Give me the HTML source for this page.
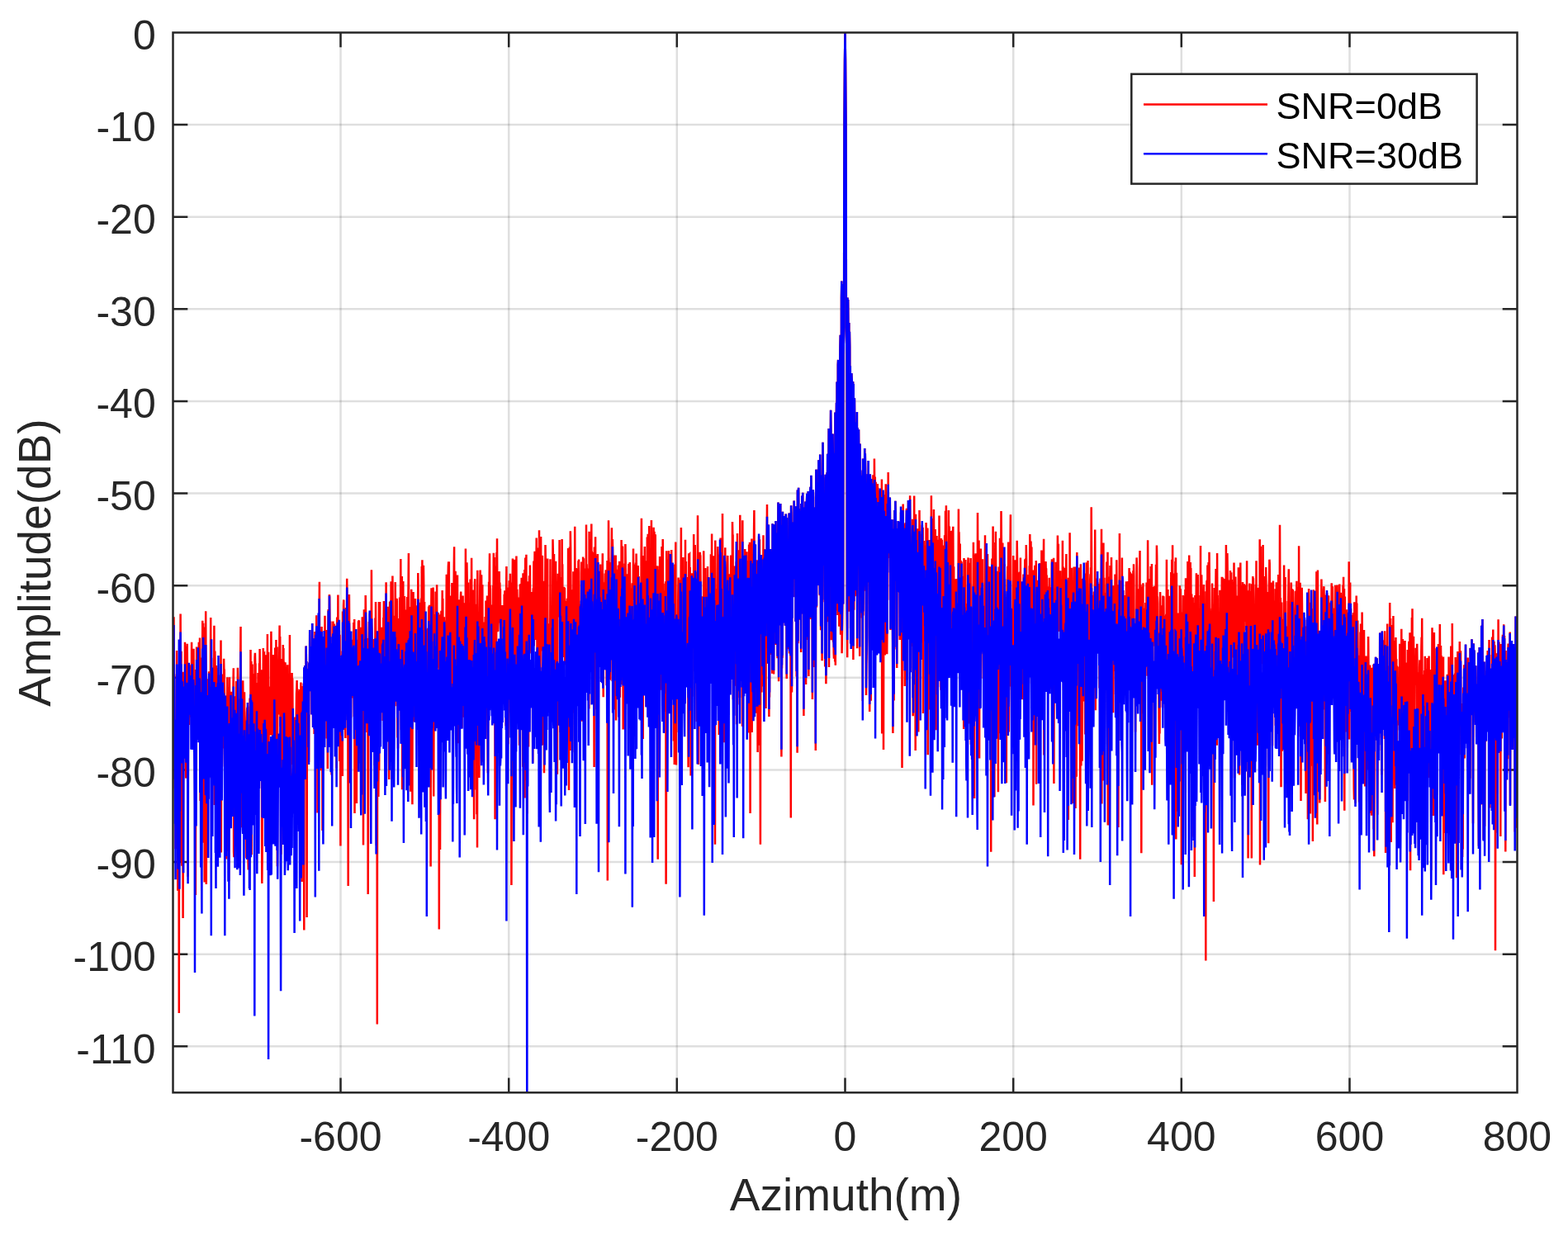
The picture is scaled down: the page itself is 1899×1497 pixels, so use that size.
<!DOCTYPE html>
<html lang="en"><head><meta charset="utf-8"><title>Azimuth impulse response</title>
<style>html,body{margin:0;padding:0;background:#fff;}svg{display:block}text{font-family:"Liberation Sans",sans-serif;}</style></head><body>
<svg width="1899" height="1497" viewBox="0 0 1899 1497">
<rect x="0" y="0" width="1899" height="1497" fill="#fff"/>
<defs><clipPath id="c"><rect x="209.5" y="39.45" width="1628.0" height="1283.85"/></clipPath></defs>
<path d="M412.5 39.45V1323.3M616.2 39.45V1323.3M819.8 39.45V1323.3M1023.5 39.45V1323.3M1227.2 39.45V1323.3M1430.8 39.45V1323.3M1634.5 39.45V1323.3" stroke="#262626" stroke-opacity="0.15" stroke-width="2.5" fill="none"/>
<path d="M209.5 1267.3H1837.5M209.5 1155.7H1837.5M209.5 1044.0H1837.5M209.5 932.4H1837.5M209.5 820.8H1837.5M209.5 709.2H1837.5M209.5 597.6H1837.5M209.5 485.9H1837.5M209.5 374.3H1837.5M209.5 262.7H1837.5M209.5 151.1H1837.5" stroke="#262626" stroke-opacity="0.15" stroke-width="2.5" fill="none"/>
<path d="M412.5 1323.3v-17.8M412.5 39.45v17.8M616.2 1323.3v-17.8M616.2 39.45v17.8M819.8 1323.3v-17.8M819.8 39.45v17.8M1023.5 1323.3v-17.8M1023.5 39.45v17.8M1227.2 1323.3v-17.8M1227.2 39.45v17.8M1430.8 1323.3v-17.8M1430.8 39.45v17.8M1634.5 1323.3v-17.8M1634.5 39.45v17.8M209.5 1267.3h17.8M1837.5 1267.3h-17.8M209.5 1155.7h17.8M1837.5 1155.7h-17.8M209.5 1044.0h17.8M1837.5 1044.0h-17.8M209.5 932.4h17.8M1837.5 932.4h-17.8M209.5 820.8h17.8M1837.5 820.8h-17.8M209.5 709.2h17.8M1837.5 709.2h-17.8M209.5 597.6h17.8M1837.5 597.6h-17.8M209.5 485.9h17.8M1837.5 485.9h-17.8M209.5 374.3h17.8M1837.5 374.3h-17.8M209.5 262.7h17.8M1837.5 262.7h-17.8M209.5 151.1h17.8M1837.5 151.1h-17.8" stroke="#262626" stroke-width="2.5" fill="none"/>
<g clip-path="url(#c)" fill="none" stroke-width="2.5" stroke-linejoin="miter">
<polyline stroke="#ff0000" points="209.60,829.1 209.90,882.0 210.20,816.1 210.50,747.2 210.80,870.5 211.10,816.6 211.40,904.2 211.70,909.3 212.00,955.1 212.30,952.8 212.60,1028.2 212.90,916.4 213.20,898.0 213.50,918.9 213.80,916.5 214.10,788.1 214.40,858.5 214.70,849.7 215.00,839.6 215.30,1078.7 215.60,909.6 215.90,933.7 216.20,839.8 216.50,906.8 216.80,1227.1 217.10,817.1 217.40,946.6 217.70,922.3 218.00,870.8 218.30,1042.9 218.60,743.6 218.90,834.3 219.20,819.1 219.50,788.8 219.80,908.2 220.10,832.9 220.40,1048.8 220.70,823.4 221.00,905.6 221.30,813.8 221.60,1112.1 221.90,954.9 222.20,900.3 222.50,833.9 222.80,875.5 223.10,863.3 223.40,911.9 223.70,853.5 224.00,777.7 224.30,863.6 224.60,848.0 224.90,896.5 225.20,942.6 225.50,938.9 225.80,852.6 226.10,782.7 226.40,828.9 226.70,779.8 227.00,815.0 227.30,929.1 227.60,1061.7 227.90,866.3 228.20,833.7 228.50,870.6 228.80,825.0 229.10,877.9 229.40,805.2 229.70,841.5 230.00,846.8 230.30,834.9 230.60,832.3 230.90,807.3 231.20,828.6 231.50,868.5 231.80,866.1 232.10,777.7 232.40,828.0 232.70,858.5 233.00,855.6 233.30,794.4 233.60,875.7 233.90,837.5 234.20,823.3 234.50,785.8 234.80,894.2 235.10,870.5 235.40,848.9 235.70,903.4 236.00,845.5 236.30,1052.7 236.60,1042.4 236.90,1084.1 237.20,811.1 237.50,844.4 237.80,932.6 238.10,783.4 238.40,814.0 238.70,809.4 239.00,812.4 239.30,846.4 239.60,837.5 239.90,860.9 240.20,823.3 240.50,814.5 240.80,777.7 241.10,856.0 241.40,864.7 241.70,835.6 242.00,772.5 242.30,879.2 242.60,969.9 242.90,796.6 243.20,860.1 243.50,815.1 243.80,896.7 244.10,945.3 244.40,827.0 244.70,878.6 245.00,796.4 245.30,751.7 245.60,812.9 245.90,850.6 246.20,754.8 246.50,1020.8 246.80,759.6 247.10,881.1 247.40,762.4 247.70,1068.6 248.00,850.3 248.30,813.3 248.60,806.7 248.90,868.4 249.20,740.3 249.50,822.2 249.80,1071.1 250.10,917.4 250.40,832.4 250.70,924.0 251.00,847.2 251.30,843.6 251.60,832.7 251.90,822.3 252.20,921.8 252.50,930.2 252.80,911.5 253.10,813.2 253.40,850.2 253.70,933.7 254.00,832.2 254.30,865.6 254.60,847.1 254.90,824.9 255.20,748.1 255.50,833.8 255.80,942.4 256.10,796.8 256.40,859.5 256.70,905.9 257.00,877.1 257.30,874.4 257.60,833.7 257.90,873.9 258.20,813.0 258.50,814.7 258.80,862.4 259.10,865.3 259.40,757.8 259.70,975.1 260.00,862.2 260.30,788.4 260.60,813.1 260.90,893.5 261.20,829.8 261.50,874.3 261.80,806.2 262.10,810.7 262.40,809.0 262.70,841.7 263.00,899.0 263.30,901.0 263.60,817.5 263.90,878.2 264.20,903.1 264.50,822.4 264.80,906.6 265.10,817.4 265.40,886.6 265.70,819.8 266.00,897.2 266.30,904.9 266.60,873.2 266.90,894.0 267.20,905.4 267.50,775.6 267.80,1032.5 268.10,884.4 268.40,833.6 268.70,849.2 269.00,928.5 269.30,905.6 269.60,904.5 269.90,816.5 270.20,850.1 270.50,902.7 270.80,906.4 271.10,797.8 271.40,815.5 271.70,810.4 272.00,855.7 272.30,909.4 272.60,914.6 272.90,842.8 273.20,867.3 273.50,931.0 273.80,870.3 274.10,1040.6 274.40,843.1 274.70,847.0 275.00,868.6 275.30,820.3 275.60,978.4 275.90,842.7 276.20,1017.8 276.50,1030.9 276.80,905.2 277.10,1067.3 277.40,832.1 277.70,850.6 278.00,820.3 278.30,887.6 278.60,837.8 278.90,953.0 279.20,892.2 279.50,841.6 279.80,885.5 280.10,911.0 280.40,837.7 280.70,850.7 281.00,873.3 281.30,912.7 281.60,950.1 281.90,851.0 282.20,943.2 282.50,828.3 282.80,809.3 283.10,1032.0 283.40,1038.2 283.70,910.1 284.00,925.1 284.30,843.3 284.60,863.4 284.90,886.1 285.20,869.5 285.50,852.2 285.80,1020.7 286.10,825.1 286.40,912.0 286.70,864.0 287.00,873.2 287.30,893.3 287.60,876.1 287.90,808.8 288.20,823.2 288.50,888.5 288.80,904.7 289.10,880.6 289.40,900.7 289.70,889.2 290.00,884.4 290.30,846.4 290.60,856.7 290.90,882.2 291.20,795.5 291.50,759.0 291.80,892.6 292.10,849.2 292.40,927.9 292.70,1002.3 293.00,851.5 293.30,976.8 293.60,914.8 293.90,935.0 294.20,824.2 294.50,848.9 294.80,902.9 295.10,887.6 295.40,923.6 295.70,878.5 296.00,838.2 296.30,880.7 296.60,901.2 296.90,1006.0 297.20,922.1 297.50,882.7 297.80,944.3 298.10,922.4 298.40,1039.6 298.70,876.9 299.00,863.0 299.30,857.3 299.60,914.8 299.90,855.7 300.20,1009.5 300.50,1041.0 300.80,1053.4 301.10,908.6 301.40,865.1 301.70,896.7 302.00,911.8 302.30,887.9 302.60,845.5 302.90,868.4 303.20,1026.7 303.50,786.9 303.80,909.0 304.10,888.4 304.40,800.9 304.70,1035.2 305.00,920.4 305.30,892.1 305.60,804.5 305.90,962.8 306.20,929.3 306.50,828.5 306.80,898.6 307.10,824.7 307.40,875.8 307.70,815.9 308.00,917.5 308.30,862.9 308.60,796.2 308.90,790.8 309.20,804.8 309.50,803.4 309.80,914.8 310.10,827.0 310.40,859.4 310.70,853.6 311.00,835.9 311.30,833.6 311.60,922.1 311.90,920.6 312.20,925.3 312.50,815.1 312.80,880.0 313.10,934.2 313.40,846.2 313.70,858.8 314.00,803.3 314.30,822.7 314.60,786.0 314.90,812.3 315.20,813.2 315.50,907.0 315.80,817.5 316.10,815.2 316.40,831.0 316.70,811.3 317.00,911.5 317.30,1070.0 317.60,1037.8 317.90,906.3 318.20,873.0 318.50,897.0 318.80,784.9 319.10,863.9 319.40,921.0 319.70,792.9 320.00,792.4 320.30,886.4 320.60,821.3 320.90,946.9 321.20,875.7 321.50,826.1 321.80,793.2 322.10,895.7 322.40,839.9 322.70,853.2 323.00,820.3 323.30,824.6 323.60,896.9 323.90,767.9 324.20,985.8 324.50,880.3 324.80,804.0 325.10,789.7 325.40,958.2 325.70,831.5 326.00,885.0 326.30,850.6 326.60,869.2 326.90,845.6 327.20,877.3 327.50,856.4 327.80,890.6 328.10,831.2 328.40,764.7 328.70,814.6 329.00,810.8 329.30,825.3 329.60,885.3 329.90,837.1 330.20,958.8 330.50,874.3 330.80,844.4 331.10,792.9 331.40,877.2 331.70,832.1 332.00,823.1 332.30,909.3 332.60,834.3 332.90,868.1 333.20,784.4 333.50,830.9 333.80,931.9 334.10,913.1 334.40,775.1 334.70,898.3 335.00,803.2 335.30,902.9 335.60,783.4 335.90,1049.2 336.20,829.4 336.50,820.9 336.80,848.2 337.10,813.3 337.40,865.5 337.70,820.6 338.00,807.7 338.30,788.3 338.60,757.6 338.90,853.0 339.20,771.1 339.50,878.9 339.80,879.7 340.10,834.1 340.40,1034.7 340.70,910.9 341.00,881.7 341.30,798.0 341.60,920.1 341.90,921.6 342.20,836.6 342.50,870.1 342.80,781.1 343.10,921.7 343.40,785.0 343.70,968.8 344.00,801.5 344.30,973.4 344.60,956.6 344.90,852.7 345.20,836.9 345.50,802.3 345.80,813.1 346.10,874.5 346.40,835.1 346.70,932.0 347.00,864.9 347.30,912.7 347.60,864.5 347.90,854.4 348.20,805.2 348.50,868.5 348.80,933.3 349.10,832.9 349.40,940.6 349.70,844.1 350.00,986.6 350.30,850.5 350.60,879.2 350.90,769.1 351.20,880.2 351.50,1024.2 351.80,882.2 352.10,1030.9 352.40,877.8 352.70,850.3 353.00,925.9 353.30,860.7 353.60,815.0 353.90,876.8 354.20,821.6 354.50,860.2 354.80,925.9 355.10,885.3 355.40,868.7 355.70,880.2 356.00,945.2 356.30,891.8 356.60,932.2 356.90,889.7 357.20,883.3 357.50,868.5 357.80,884.4 358.10,983.7 358.40,934.2 358.70,871.0 359.00,840.7 359.30,833.5 359.60,824.1 359.90,854.3 360.20,875.1 360.50,834.6 360.80,893.3 361.10,836.9 361.40,909.6 361.70,954.0 362.00,1006.9 362.30,864.5 362.60,899.3 362.90,926.0 363.20,835.0 363.50,885.2 363.80,857.4 364.10,874.9 364.40,826.5 364.70,948.3 365.00,902.7 365.30,831.0 365.60,1067.9 365.90,921.5 366.20,859.7 366.50,835.0 366.80,832.2 367.10,1037.1 367.40,934.9 367.70,827.4 368.00,850.5 368.30,1126.6 368.60,838.8 368.90,892.3 369.20,805.9 369.50,836.4 369.80,939.6 370.10,822.5 370.40,860.8 370.70,782.5 371.00,814.9 371.30,801.0 371.60,1111.0 371.90,824.4 372.20,845.8 372.50,809.8 372.80,841.9 373.10,831.1 373.40,904.2 373.70,818.4 374.00,923.0 374.30,805.1 374.60,802.6 374.90,830.7 375.20,762.9 375.50,804.0 375.80,829.5 376.10,790.3 376.40,801.3 376.70,837.2 377.00,783.1 377.30,785.8 377.60,865.2 377.90,848.3 378.20,754.9 378.50,824.4 378.80,820.8 379.10,880.8 379.40,844.3 379.70,781.0 380.00,827.8 380.30,773.3 380.60,888.9 380.90,775.9 381.20,825.8 381.50,765.0 381.80,863.1 382.10,779.2 382.40,783.6 382.70,795.9 383.00,782.8 383.30,745.3 383.60,800.4 383.90,836.5 384.20,776.2 384.50,984.4 384.80,839.6 385.10,782.5 385.40,827.3 385.70,770.6 386.00,881.6 386.30,786.9 386.60,743.7 386.90,704.7 387.20,918.0 387.50,763.7 387.80,818.6 388.10,799.3 388.40,824.5 388.70,933.3 389.00,905.0 389.30,814.0 389.60,758.9 389.90,809.1 390.20,858.6 390.50,1006.0 390.80,793.3 391.10,783.2 391.40,899.6 391.70,841.0 392.00,807.5 392.30,822.2 392.60,828.3 392.90,781.0 393.20,855.6 393.50,745.7 393.80,797.8 394.10,774.9 394.40,833.6 394.70,789.1 395.00,791.9 395.30,763.1 395.60,894.4 395.90,872.9 396.20,812.7 396.50,803.6 396.80,930.9 397.10,800.7 397.40,763.3 397.70,738.0 398.00,765.6 398.30,815.5 398.60,905.0 398.90,720.0 399.20,723.1 399.50,788.5 399.80,894.8 400.10,767.1 400.40,752.4 400.70,828.1 401.00,831.6 401.30,821.2 401.60,938.5 401.90,815.0 402.20,847.0 402.50,804.5 402.80,835.2 403.10,803.3 403.40,752.5 403.70,808.7 404.00,775.1 404.30,871.0 404.60,755.6 404.90,761.9 405.20,766.8 405.50,762.7 405.80,803.8 406.10,801.2 406.40,772.8 406.70,772.8 407.00,822.7 407.30,778.1 407.60,930.6 407.90,766.9 408.20,747.6 408.50,826.3 408.80,754.6 409.10,800.4 409.40,720.5 409.70,819.7 410.00,820.8 410.30,785.4 410.60,777.3 410.90,763.6 411.20,922.0 411.50,768.7 411.80,877.8 412.10,855.8 412.40,1024.5 412.70,818.6 413.00,894.3 413.30,913.1 413.60,819.8 413.90,857.3 414.20,816.7 414.50,788.6 414.80,940.1 415.10,740.4 415.40,745.6 415.70,830.7 416.00,733.7 416.30,726.4 416.60,795.1 416.90,740.3 417.20,759.1 417.50,883.9 417.80,782.1 418.10,874.3 418.40,894.0 418.70,783.8 419.00,735.9 419.30,815.6 419.60,837.3 419.90,825.7 420.20,700.7 420.50,745.0 420.80,811.6 421.10,821.0 421.40,895.5 421.70,1073.1 422.00,775.1 422.30,729.5 422.60,744.2 422.90,720.0 423.20,764.5 423.50,825.1 423.80,861.3 424.10,906.1 424.40,808.3 424.70,800.4 425.00,869.4 425.30,805.4 425.60,835.3 425.90,788.5 426.20,774.8 426.50,788.7 426.80,799.6 427.10,826.1 427.40,845.6 427.70,808.6 428.00,825.2 428.30,754.0 428.60,842.9 428.90,867.9 429.20,749.9 429.50,985.1 429.80,800.3 430.10,770.1 430.40,807.5 430.70,906.4 431.00,891.9 431.30,774.7 431.60,861.4 431.90,972.9 432.20,836.9 432.50,818.6 432.80,906.4 433.10,845.6 433.40,827.4 433.70,812.4 434.00,752.3 434.30,924.7 434.60,752.0 434.90,751.4 435.20,847.8 435.50,801.5 435.80,769.3 436.10,795.9 436.40,809.0 436.70,759.7 437.00,812.3 437.30,795.7 437.60,849.5 437.90,863.9 438.20,806.5 438.50,925.5 438.80,747.3 439.10,842.0 439.40,788.1 439.70,789.8 440.00,1023.4 440.30,812.2 440.60,888.2 440.90,738.2 441.20,771.1 441.50,783.3 441.80,822.6 442.10,770.2 442.40,823.1 442.70,720.9 443.00,740.9 443.30,754.5 443.60,864.4 443.90,784.5 444.20,845.4 444.50,887.0 444.80,837.0 445.10,842.0 445.40,773.1 445.70,1083.1 446.00,965.7 446.30,807.1 446.60,774.8 446.90,753.0 447.20,877.5 447.50,777.5 447.80,750.4 448.10,794.8 448.40,810.3 448.70,758.4 449.00,746.9 449.30,795.8 449.60,788.8 449.90,690.2 450.20,754.5 450.50,763.0 450.80,793.1 451.10,804.4 451.40,824.0 451.70,809.8 452.00,830.0 452.30,774.0 452.60,794.4 452.90,809.1 453.20,795.1 453.50,926.9 453.80,875.4 454.10,930.6 454.40,748.5 454.70,825.4 455.00,729.0 455.30,805.2 455.60,817.5 455.90,1023.9 456.20,802.4 456.50,769.4 456.80,1240.5 457.10,774.8 457.40,769.6 457.70,770.3 458.00,799.0 458.30,965.1 458.60,921.1 458.90,729.1 459.20,932.9 459.50,825.4 459.80,746.4 460.10,729.1 460.40,825.4 460.70,787.6 461.00,796.3 461.30,837.9 461.60,762.1 461.90,766.7 462.20,763.3 462.50,759.9 462.80,764.9 463.10,768.7 463.40,813.0 463.70,873.1 464.00,807.0 464.30,747.9 464.60,751.9 464.90,727.9 465.20,823.7 465.50,880.1 465.80,783.0 466.10,831.2 466.40,753.5 466.70,827.7 467.00,898.9 467.30,848.7 467.60,705.3 467.90,898.3 468.20,828.1 468.50,749.6 468.80,751.7 469.10,806.5 469.40,779.2 469.70,748.5 470.00,853.4 470.30,734.7 470.60,846.1 470.90,831.3 471.20,943.9 471.50,835.2 471.80,752.6 472.10,728.5 472.40,809.3 472.70,854.2 473.00,769.8 473.30,816.9 473.60,704.2 473.90,752.9 474.20,884.8 474.50,823.3 474.80,794.4 475.10,866.5 475.40,697.5 475.70,745.3 476.00,762.5 476.30,898.8 476.60,752.8 476.90,890.9 477.20,768.2 477.50,745.7 477.80,789.9 478.10,767.2 478.40,855.2 478.70,705.0 479.00,745.8 479.30,776.0 479.60,740.8 479.90,776.1 480.20,818.1 480.50,724.8 480.80,727.7 481.10,845.9 481.40,893.5 481.70,751.4 482.00,906.6 482.30,749.0 482.60,843.5 482.90,836.7 483.20,767.7 483.50,771.5 483.80,842.9 484.10,723.6 484.40,730.3 484.70,739.7 485.00,737.8 485.30,677.1 485.60,780.9 485.90,884.3 486.20,843.5 486.50,772.0 486.80,698.0 487.10,956.2 487.40,735.9 487.70,790.1 488.00,880.1 488.30,704.0 488.60,837.6 488.90,739.0 489.20,790.2 489.50,762.5 489.80,721.9 490.10,863.7 490.40,829.2 490.70,811.4 491.00,738.6 491.30,827.8 491.60,783.0 491.90,757.6 492.20,908.0 492.50,891.1 492.80,741.7 493.10,722.9 493.40,806.2 493.70,795.0 494.00,757.5 494.30,733.0 494.60,707.2 494.90,670.1 495.20,820.9 495.50,945.1 495.80,735.0 496.10,766.0 496.40,759.7 496.70,843.2 497.00,853.8 497.30,958.8 497.60,780.8 497.90,814.4 498.20,713.8 498.50,728.5 498.80,780.2 499.10,746.0 499.40,974.3 499.70,753.2 500.00,786.5 500.30,735.5 500.60,717.0 500.90,874.0 501.20,818.3 501.50,811.6 501.80,807.4 502.10,769.1 502.40,754.4 502.70,775.4 503.00,725.1 503.30,835.0 503.60,733.4 503.90,738.5 504.20,820.5 504.50,840.5 504.80,777.5 505.10,827.6 505.40,856.3 505.70,749.6 506.00,826.1 506.30,694.1 506.60,718.8 506.90,831.8 507.20,836.3 507.50,774.2 507.80,729.8 508.10,756.1 508.40,845.4 508.70,734.0 509.00,808.2 509.30,811.6 509.60,753.5 509.90,727.2 510.20,725.0 510.50,738.5 510.80,686.1 511.10,712.7 511.40,678.2 511.70,821.8 512.00,809.0 512.30,767.3 512.60,706.3 512.90,684.7 513.20,708.0 513.50,805.8 513.80,824.9 514.10,729.1 514.40,828.4 514.70,780.9 515.00,804.4 515.30,853.4 515.60,766.5 515.90,762.9 516.20,960.2 516.50,810.0 516.80,810.6 517.10,779.4 517.40,892.8 517.70,762.1 518.00,922.4 518.30,760.7 518.60,807.2 518.90,774.7 519.20,734.4 519.50,837.1 519.80,797.8 520.10,732.8 520.40,792.2 520.70,811.1 521.00,844.2 521.30,799.2 521.60,1049.6 521.90,813.6 522.20,745.2 522.50,712.3 522.80,868.6 523.10,752.2 523.40,736.1 523.70,792.6 524.00,735.9 524.30,812.7 524.60,711.4 524.90,793.2 525.20,964.6 525.50,848.9 525.80,877.8 526.10,744.0 526.40,772.7 526.70,790.9 527.00,805.1 527.30,773.6 527.60,716.6 527.90,797.3 528.20,721.6 528.50,839.1 528.80,821.8 529.10,708.3 529.40,808.7 529.70,777.6 530.00,754.4 530.30,764.8 530.60,799.8 530.90,742.0 531.20,796.9 531.50,743.9 531.80,1125.5 532.10,812.7 532.40,745.0 532.70,779.6 533.00,1029.0 533.30,887.1 533.60,879.7 533.90,834.3 534.20,746.2 534.50,739.7 534.80,794.0 535.10,745.2 535.40,765.4 535.70,715.1 536.00,782.6 536.30,724.9 536.60,815.6 536.90,760.8 537.20,748.8 537.50,793.2 537.80,747.3 538.10,808.3 538.40,774.2 538.70,840.7 539.00,751.4 539.30,864.4 539.60,814.0 539.90,774.8 540.20,776.9 540.50,749.2 540.80,695.8 541.10,748.1 541.40,783.0 541.70,725.6 542.00,800.8 542.30,733.3 542.60,699.4 542.90,685.5 543.20,680.2 543.50,769.4 543.80,680.2 544.10,793.5 544.40,793.3 544.70,750.7 545.00,755.9 545.30,868.0 545.60,721.4 545.90,804.9 546.20,851.0 546.50,751.4 546.80,777.1 547.10,812.7 547.40,706.0 547.70,784.2 548.00,859.6 548.30,847.4 548.60,786.9 548.90,760.0 549.20,852.4 549.50,719.9 549.80,687.1 550.10,662.3 550.40,792.5 550.70,765.1 551.00,783.3 551.30,871.9 551.60,691.8 551.90,738.4 552.20,783.3 552.50,806.2 552.80,778.0 553.10,713.6 553.40,755.3 553.70,749.0 554.00,696.4 554.30,818.6 554.60,849.9 554.90,799.2 555.20,900.2 555.50,740.8 555.80,827.7 556.10,726.2 556.40,790.5 556.70,804.5 557.00,759.8 557.30,806.7 557.60,760.9 557.90,725.2 558.20,716.5 558.50,755.9 558.80,723.2 559.10,741.5 559.40,881.8 559.70,775.2 560.00,776.5 560.30,766.3 560.60,721.4 560.90,780.7 561.20,731.0 561.50,817.8 561.80,868.8 562.10,730.3 562.40,854.6 562.70,730.5 563.00,748.2 563.30,788.9 563.60,896.9 563.90,664.4 564.20,762.2 564.50,723.2 564.80,805.8 565.10,734.7 565.40,681.3 565.70,703.0 566.00,813.9 566.30,836.9 566.60,724.1 566.90,705.6 567.20,800.9 567.50,742.4 567.80,864.1 568.10,740.2 568.40,937.1 568.70,926.0 569.00,846.6 569.30,779.7 569.60,701.5 569.90,804.6 570.20,706.0 570.50,702.5 570.80,744.1 571.10,675.8 571.40,754.8 571.70,783.5 572.00,721.1 572.30,813.4 572.60,715.1 572.90,715.7 573.20,829.6 573.50,797.7 573.80,871.0 574.10,992.3 574.40,782.1 574.70,851.4 575.00,705.9 575.30,701.2 575.60,789.8 575.90,769.7 576.20,739.8 576.50,731.7 576.80,956.5 577.10,805.3 577.40,986.3 577.70,790.6 578.00,1026.6 578.30,690.8 578.60,741.7 578.90,774.8 579.20,771.8 579.50,787.3 579.80,746.9 580.10,744.3 580.40,941.9 580.70,819.9 581.00,758.7 581.30,710.9 581.60,690.4 581.90,734.9 582.20,706.5 582.50,762.0 582.80,792.4 583.10,696.3 583.40,766.6 583.70,805.7 584.00,802.7 584.30,708.3 584.60,813.8 584.90,922.8 585.20,769.9 585.50,776.6 585.80,826.4 586.10,759.6 586.40,794.0 586.70,753.4 587.00,809.4 587.30,810.3 587.60,746.9 587.90,776.8 588.20,843.1 588.50,727.6 588.80,856.5 589.10,835.4 589.40,775.9 589.70,763.1 590.00,721.6 590.30,861.4 590.60,897.0 590.90,936.3 591.20,800.5 591.50,750.0 591.80,781.6 592.10,704.7 592.40,757.5 592.70,696.1 593.00,670.2 593.30,730.3 593.60,709.2 593.90,713.4 594.20,763.8 594.50,816.8 594.80,732.5 595.10,734.1 595.40,793.7 595.70,770.0 596.00,744.9 596.30,752.0 596.60,828.1 596.90,762.0 597.20,709.0 597.50,737.0 597.80,669.7 598.10,690.1 598.40,850.1 598.70,674.9 599.00,812.9 599.30,718.9 599.60,992.2 599.90,852.9 600.20,685.7 600.50,788.5 600.80,706.5 601.10,782.9 601.40,669.3 601.70,763.8 602.00,652.2 602.30,716.4 602.60,765.3 602.90,740.7 603.20,764.8 603.50,754.6 603.80,753.5 604.10,718.1 604.40,731.6 604.70,692.1 605.00,744.0 605.30,705.4 605.60,724.4 605.90,712.9 606.20,755.1 606.50,769.8 606.80,846.6 607.10,760.8 607.40,870.6 607.70,836.4 608.00,759.4 608.30,733.0 608.60,830.5 608.90,831.1 609.20,807.5 609.50,788.1 609.80,747.3 610.10,788.9 610.40,774.5 610.70,719.8 611.00,744.1 611.30,715.2 611.60,739.5 611.90,758.4 612.20,812.4 612.50,748.3 612.80,879.3 613.10,720.5 613.40,685.9 613.70,840.5 614.00,732.1 614.30,741.7 614.60,711.4 614.90,772.2 615.20,827.2 615.50,901.2 615.80,736.7 616.10,731.5 616.40,739.1 616.70,703.3 617.00,762.7 617.30,766.2 617.60,837.4 617.90,694.8 618.20,771.2 618.50,709.4 618.80,854.2 619.10,705.6 619.40,1071.9 619.70,944.7 620.00,825.4 620.30,881.2 620.60,714.6 620.90,676.4 621.20,717.9 621.50,819.7 621.80,820.7 622.10,748.2 622.40,742.9 622.70,733.3 623.00,677.7 623.30,690.0 623.60,697.3 623.90,818.0 624.20,738.2 624.50,738.1 624.80,832.8 625.10,742.6 625.40,673.6 625.70,789.9 626.00,773.3 626.30,713.7 626.60,730.9 626.90,784.5 627.20,813.1 627.50,816.1 627.80,723.6 628.10,760.0 628.40,756.1 628.70,782.2 629.00,902.7 629.30,765.9 629.60,733.5 629.90,708.3 630.20,707.7 630.50,790.4 630.80,772.6 631.10,723.7 631.40,718.0 631.70,699.7 632.00,752.0 632.30,702.6 632.60,701.8 632.90,829.1 633.20,928.8 633.50,694.3 633.80,728.3 634.10,794.4 634.40,725.8 634.70,732.0 635.00,777.2 635.30,689.9 635.60,966.5 635.90,721.7 636.20,675.5 636.50,694.1 636.80,725.6 637.10,746.4 637.40,671.8 637.70,945.3 638.00,704.8 638.30,985.5 638.60,755.0 638.90,842.9 639.20,704.3 639.50,802.5 639.80,759.9 640.10,904.5 640.40,786.1 640.70,715.6 641.00,697.3 641.30,719.1 641.60,787.4 641.90,684.5 642.20,753.0 642.50,758.2 642.80,746.2 643.10,780.7 643.40,791.5 643.70,755.0 644.00,717.1 644.30,780.5 644.60,722.8 644.90,731.6 645.20,923.7 645.50,722.6 645.80,712.2 646.10,747.5 646.40,679.5 646.70,782.6 647.00,767.2 647.30,687.4 647.60,667.8 647.90,731.9 648.20,759.2 648.50,740.2 648.80,753.7 649.10,774.9 649.40,709.6 649.70,651.4 650.00,697.9 650.30,747.2 650.60,803.8 650.90,749.6 651.20,701.8 651.50,774.8 651.80,746.2 652.10,663.6 652.40,773.6 652.70,770.2 653.00,642.2 653.30,803.1 653.60,787.7 653.90,744.7 654.20,846.1 654.50,805.9 654.80,770.7 655.10,650.0 655.40,724.2 655.70,788.6 656.00,760.2 656.30,718.3 656.60,674.0 656.90,672.9 657.20,757.3 657.50,717.9 657.80,902.5 658.10,756.5 658.40,765.6 658.70,788.0 659.00,936.3 659.30,703.7 659.60,787.3 659.90,785.2 660.20,726.6 660.50,660.1 660.80,680.6 661.10,715.1 661.40,755.5 661.70,888.2 662.00,774.3 662.30,784.7 662.60,748.6 662.90,718.5 663.20,676.6 663.50,842.7 663.80,787.3 664.10,775.5 664.40,755.2 664.70,784.1 665.00,842.7 665.30,762.8 665.60,791.7 665.90,838.4 666.20,776.6 666.50,677.3 666.80,772.5 667.10,802.5 667.40,739.2 667.70,791.2 668.00,742.8 668.30,736.4 668.60,801.7 668.90,787.7 669.20,731.2 669.50,653.3 669.80,667.9 670.10,747.5 670.40,808.7 670.70,677.8 671.00,671.0 671.30,764.0 671.60,715.5 671.90,697.3 672.20,788.0 672.50,857.4 672.80,840.0 673.10,679.8 673.40,969.6 673.70,723.4 674.00,704.3 674.30,840.3 674.60,802.9 674.90,937.7 675.20,813.2 675.50,712.6 675.80,694.8 676.10,729.1 676.40,698.2 676.70,714.0 677.00,728.1 677.30,709.8 677.60,654.0 677.90,747.6 678.20,737.1 678.50,887.0 678.80,699.0 679.10,810.6 679.40,717.7 679.70,837.3 680.00,703.7 680.30,799.3 680.60,653.1 680.90,717.1 681.20,683.2 681.50,762.5 681.80,796.1 682.10,750.2 682.40,761.2 682.70,710.9 683.00,719.6 683.30,789.6 683.60,711.9 683.90,712.9 684.20,805.2 684.50,727.7 684.80,799.9 685.10,772.1 685.40,729.6 685.70,732.4 686.00,814.8 686.30,759.6 686.60,778.1 686.90,724.7 687.20,800.3 687.50,735.9 687.80,783.1 688.10,664.1 688.40,703.1 688.70,743.5 689.00,957.1 689.30,703.6 689.60,698.2 689.90,662.4 690.20,798.3 690.50,908.9 690.80,643.2 691.10,662.2 691.40,711.1 691.70,746.2 692.00,822.4 692.30,772.6 692.60,728.9 692.90,725.0 693.20,911.2 693.50,758.2 693.80,714.3 694.10,852.3 694.40,692.2 694.70,835.5 695.00,715.5 695.30,863.6 695.60,750.0 695.90,782.4 696.20,637.8 696.50,720.3 696.80,690.6 697.10,711.5 697.40,823.1 697.70,688.1 698.00,714.4 698.30,772.9 698.60,773.3 698.90,689.3 699.20,801.5 699.50,749.7 699.80,823.9 700.10,784.3 700.40,679.2 700.70,733.3 701.00,677.5 701.30,800.3 701.60,848.4 701.90,813.5 702.20,787.3 702.50,843.4 702.80,731.7 703.10,744.9 703.40,778.8 703.70,831.2 704.00,694.3 704.30,680.5 704.60,726.4 704.90,787.5 705.20,873.7 705.50,719.3 705.80,748.2 706.10,674.6 706.40,710.7 706.70,721.1 707.00,676.3 707.30,816.0 707.60,736.8 707.90,754.9 708.20,728.6 708.50,699.1 708.80,770.8 709.10,688.6 709.40,750.4 709.70,768.7 710.00,635.5 710.30,767.9 710.60,683.3 710.90,698.0 711.20,811.1 711.50,688.6 711.80,705.8 712.10,831.1 712.40,735.6 712.70,696.8 713.00,755.7 713.30,858.4 713.60,643.8 713.90,760.4 714.20,731.8 714.50,810.6 714.80,790.7 715.10,751.5 715.40,785.1 715.70,653.1 716.00,772.8 716.30,634.4 716.60,793.5 716.90,667.6 717.20,693.5 717.50,780.2 717.80,736.3 718.10,819.6 718.40,669.1 718.70,767.4 719.00,783.8 719.30,814.8 719.60,929.0 719.90,662.4 720.20,783.8 720.50,680.1 720.80,764.3 721.10,650.3 721.40,767.2 721.70,798.7 722.00,672.9 722.30,715.6 722.60,859.2 722.90,719.2 723.20,780.1 723.50,726.7 723.80,670.9 724.10,745.8 724.40,730.3 724.70,931.9 725.00,743.1 725.30,716.8 725.60,779.2 725.90,730.7 726.20,720.4 726.50,736.6 726.80,782.8 727.10,683.6 727.40,757.4 727.70,724.4 728.00,711.6 728.30,767.8 728.60,744.0 728.90,744.9 729.20,808.3 729.50,715.2 729.80,670.2 730.10,794.4 730.40,720.6 730.70,844.3 731.00,705.3 731.30,773.9 731.60,717.3 731.90,729.6 732.20,730.7 732.50,718.2 732.80,694.5 733.10,763.4 733.40,705.2 733.70,690.3 734.00,794.4 734.30,761.7 734.60,830.3 734.90,730.1 735.20,822.8 735.50,679.1 735.80,1066.4 736.10,781.8 736.40,813.0 736.70,738.9 737.00,630.2 737.30,674.5 737.60,681.5 737.90,701.5 738.20,811.4 738.50,703.3 738.80,822.9 739.10,821.3 739.40,821.7 739.70,777.3 740.00,680.9 740.30,752.5 740.60,682.1 740.90,639.3 741.20,722.1 741.50,713.9 741.80,653.0 742.10,665.2 742.40,683.3 742.70,720.4 743.00,734.1 743.30,681.1 743.60,800.3 743.90,702.1 744.20,859.5 744.50,712.3 744.80,672.6 745.10,736.3 745.40,800.1 745.70,672.5 746.00,872.5 746.30,775.4 746.60,689.7 746.90,758.2 747.20,840.3 747.50,741.4 747.80,799.2 748.10,754.4 748.40,761.4 748.70,684.5 749.00,729.4 749.30,715.0 749.60,732.2 749.90,819.0 750.20,679.7 750.50,737.9 750.80,844.7 751.10,710.4 751.40,756.5 751.70,804.8 752.00,819.6 752.30,763.2 752.60,653.9 752.90,783.0 753.20,828.9 753.50,736.9 753.80,671.8 754.10,661.5 754.40,753.7 754.70,883.4 755.00,720.3 755.30,718.4 755.60,704.7 755.90,740.8 756.20,708.2 756.50,705.8 756.80,682.6 757.10,859.1 757.40,659.0 757.70,682.2 758.00,774.5 758.30,713.7 758.60,708.7 758.90,708.7 759.20,695.3 759.50,715.3 759.80,723.5 760.10,789.1 760.40,846.5 760.70,774.7 761.00,700.2 761.30,682.8 761.60,714.2 761.90,723.4 762.20,702.9 762.50,716.3 762.80,681.0 763.10,713.5 763.40,776.1 763.70,712.4 764.00,744.6 764.30,749.9 764.60,778.2 764.90,788.4 765.20,837.2 765.50,719.7 765.80,706.2 766.10,765.7 766.40,722.1 766.70,727.6 767.00,664.4 767.30,724.5 767.60,716.7 767.90,721.0 768.20,689.6 768.50,720.4 768.80,683.4 769.10,718.4 769.40,683.4 769.70,701.6 770.00,681.4 770.30,760.0 770.60,670.4 770.90,687.9 771.20,690.9 771.50,788.5 771.80,783.9 772.10,730.5 772.40,710.0 772.70,684.9 773.00,724.5 773.30,837.9 773.60,698.1 773.90,840.3 774.20,739.5 774.50,708.2 774.80,742.9 775.10,787.5 775.40,794.7 775.70,746.2 776.00,781.2 776.30,820.8 776.60,677.7 776.90,627.7 777.20,676.9 777.50,699.2 777.80,744.6 778.10,734.0 778.40,731.3 778.70,894.9 779.00,678.8 779.30,682.8 779.60,673.1 779.90,691.9 780.20,717.9 780.50,735.1 780.80,662.1 781.10,770.4 781.40,679.2 781.70,813.7 782.00,779.8 782.30,779.7 782.60,856.1 782.90,777.3 783.20,701.3 783.50,755.2 783.80,650.4 784.10,674.0 784.40,754.5 784.70,646.7 785.00,671.7 785.30,739.9 785.60,765.9 785.90,735.5 786.20,636.9 786.50,807.4 786.80,689.3 787.10,683.9 787.40,762.5 787.70,679.5 788.00,730.2 788.30,674.1 788.60,708.4 788.90,629.9 789.20,682.9 789.50,755.6 789.80,834.4 790.10,725.3 790.40,737.6 790.70,713.7 791.00,700.4 791.30,671.7 791.60,638.7 791.90,719.2 792.20,706.4 792.50,643.7 792.80,743.4 793.10,698.3 793.40,818.4 793.70,647.3 794.00,719.2 794.30,780.0 794.60,727.1 794.90,746.1 795.20,690.9 795.50,736.3 795.80,734.5 796.10,697.5 796.40,685.4 796.70,1040.7 797.00,781.0 797.30,787.5 797.60,693.6 797.90,703.2 798.20,833.9 798.50,689.8 798.80,725.4 799.10,674.0 799.40,693.6 799.70,681.3 800.00,676.3 800.30,835.8 800.60,721.7 800.90,736.1 801.20,783.0 801.50,662.0 801.80,724.2 802.10,719.8 802.40,813.7 802.70,653.1 803.00,707.1 803.30,776.0 803.60,706.7 803.90,748.9 804.20,826.1 804.50,715.6 804.80,862.1 805.10,757.2 805.40,728.8 805.70,744.2 806.00,764.6 806.30,704.2 806.60,1070.8 806.90,970.9 807.20,667.2 807.50,702.5 807.80,731.2 808.10,677.4 808.40,810.5 808.70,784.9 809.00,744.8 809.30,683.6 809.60,789.1 809.90,666.9 810.20,696.6 810.50,701.0 810.80,839.1 811.10,764.7 811.40,863.1 811.70,676.4 812.00,780.0 812.30,802.5 812.60,716.0 812.90,701.2 813.20,665.9 813.50,805.7 813.80,715.6 814.10,744.2 814.40,783.3 814.70,696.1 815.00,793.9 815.30,704.2 815.60,774.2 815.90,897.5 816.20,775.9 816.50,835.9 816.80,926.0 817.10,700.7 817.40,683.4 817.70,751.1 818.00,756.9 818.30,656.6 818.60,825.4 818.90,926.5 819.20,799.9 819.50,744.2 819.80,804.8 820.10,776.2 820.40,764.1 820.70,841.5 821.00,790.4 821.30,722.6 821.60,699.6 821.90,887.0 822.20,715.1 822.50,775.9 822.80,727.2 823.10,795.1 823.40,746.3 823.70,739.5 824.00,702.3 824.30,781.4 824.60,706.1 824.90,638.9 825.20,906.5 825.50,808.5 825.80,778.9 826.10,791.7 826.40,733.8 826.70,733.5 827.00,760.4 827.30,674.9 827.60,859.4 827.90,695.5 828.20,824.9 828.50,725.3 828.80,836.0 829.10,765.3 829.40,709.9 829.70,782.4 830.00,653.8 830.30,773.4 830.60,820.0 830.90,680.1 831.20,770.7 831.50,736.5 831.80,722.7 832.10,699.0 832.40,727.1 832.70,772.9 833.00,746.4 833.30,830.0 833.60,929.2 833.90,849.2 834.20,670.3 834.50,737.8 834.80,671.8 835.10,671.4 835.40,751.3 835.70,687.1 836.00,707.0 836.30,808.8 836.60,939.5 836.90,702.7 837.20,859.6 837.50,697.0 837.80,694.2 838.10,735.3 838.40,843.8 838.70,695.5 839.00,730.5 839.30,732.9 839.60,706.9 839.90,774.4 840.20,647.0 840.50,777.9 840.80,769.7 841.10,703.0 841.40,792.3 841.70,659.9 842.00,698.9 842.30,784.0 842.60,776.7 842.90,747.1 843.20,692.8 843.50,754.2 843.80,873.9 844.10,698.4 844.40,864.9 844.70,702.3 845.00,624.3 845.30,689.3 845.60,688.3 845.90,926.1 846.20,817.4 846.50,838.2 846.80,745.9 847.10,784.8 847.40,711.9 847.70,668.8 848.00,671.7 848.30,673.4 848.60,710.3 848.90,759.0 849.20,800.5 849.50,851.8 849.80,842.1 850.10,736.0 850.40,722.3 850.70,759.6 851.00,868.1 851.30,810.1 851.60,834.3 851.90,822.5 852.20,667.3 852.50,718.5 852.80,810.3 853.10,745.5 853.40,854.5 853.70,739.1 854.00,781.9 854.30,687.9 854.60,841.6 854.90,766.5 855.20,724.5 855.50,731.5 855.80,776.3 856.10,713.2 856.40,801.2 856.70,787.6 857.00,685.9 857.30,812.5 857.60,797.0 857.90,836.4 858.20,699.4 858.50,877.4 858.80,814.7 859.10,810.1 859.40,795.6 859.70,728.8 860.00,725.3 860.30,728.6 860.60,768.8 860.90,671.2 861.20,777.3 861.50,721.0 861.80,727.3 862.10,646.5 862.40,822.4 862.70,748.5 863.00,736.0 863.30,740.3 863.60,868.0 863.90,766.7 864.20,679.9 864.50,673.3 864.80,826.0 865.10,776.0 865.40,806.7 865.70,791.7 866.00,1022.8 866.30,654.4 866.60,743.4 866.90,751.2 867.20,713.1 867.50,737.4 867.80,778.5 868.10,763.0 868.40,725.0 868.70,842.7 869.00,759.6 869.30,662.1 869.60,670.4 869.90,726.9 870.20,671.5 870.50,836.1 870.80,889.9 871.10,715.7 871.40,823.5 871.70,762.3 872.00,707.0 872.30,831.6 872.60,651.4 872.90,717.4 873.20,792.3 873.50,706.8 873.80,689.2 874.10,845.9 874.40,876.0 874.70,758.7 875.00,622.1 875.30,711.1 875.60,790.4 875.90,674.6 876.20,875.4 876.50,769.5 876.80,775.3 877.10,899.3 877.40,677.0 877.70,736.3 878.00,720.4 878.30,663.3 878.60,716.5 878.90,854.8 879.20,742.0 879.50,694.5 879.80,782.4 880.10,867.8 880.40,784.7 880.70,704.1 881.00,684.5 881.30,672.9 881.60,721.6 881.90,772.4 882.20,769.5 882.50,726.9 882.80,718.0 883.10,724.9 883.40,737.4 883.70,695.3 884.00,705.9 884.30,699.9 884.60,770.8 884.90,723.2 885.20,672.6 885.50,692.9 885.80,695.8 886.10,718.7 886.40,815.7 886.70,788.6 887.00,632.1 887.30,648.3 887.60,648.4 887.90,847.2 888.20,704.9 888.50,758.9 888.80,806.0 889.10,759.4 889.40,779.1 889.70,685.5 890.00,706.2 890.30,751.3 890.60,830.7 890.90,796.3 891.20,729.8 891.50,716.8 891.80,680.2 892.10,877.3 892.40,679.2 892.70,819.9 893.00,646.0 893.30,853.4 893.60,791.9 893.90,708.4 894.20,666.2 894.50,710.4 894.80,797.1 895.10,706.4 895.40,769.5 895.70,705.9 896.00,845.1 896.30,623.8 896.60,676.3 896.90,801.5 897.20,686.7 897.50,809.5 897.80,733.9 898.10,708.0 898.40,703.2 898.70,698.9 899.00,879.8 899.30,630.2 899.60,726.4 899.90,679.0 900.20,754.6 900.50,681.5 900.80,705.5 901.10,777.4 901.40,747.6 901.70,775.0 902.00,809.0 902.30,665.0 902.60,707.3 902.90,696.9 903.20,692.6 903.50,716.0 903.80,706.5 904.10,769.3 904.40,668.2 904.70,778.7 905.00,791.8 905.30,679.0 905.60,733.8 905.90,873.9 906.20,681.9 906.50,771.0 906.80,887.6 907.10,659.5 907.40,681.9 907.70,810.9 908.00,656.8 908.30,724.0 908.60,984.9 908.90,700.0 909.20,657.2 909.50,741.7 909.80,696.1 910.10,768.1 910.40,652.4 910.70,887.0 911.00,709.8 911.30,711.5 911.60,798.9 911.90,703.2 912.20,705.2 912.50,724.5 912.80,698.1 913.10,642.8 913.40,618.0 913.70,692.5 914.00,814.0 914.30,780.5 914.60,815.4 914.90,699.8 915.20,802.6 915.50,863.7 915.80,806.1 916.10,713.8 916.40,706.9 916.70,678.3 917.00,699.6 917.30,787.0 917.60,911.0 917.90,759.4 918.20,688.9 918.50,902.8 918.80,811.3 919.10,649.6 919.40,680.8 919.70,810.1 920.00,653.2 920.30,785.2 920.60,873.7 920.90,1022.8 921.20,746.2 921.50,765.0 921.80,677.0 922.10,728.5 922.40,838.4 922.70,700.4 923.00,831.5 923.30,676.5 923.60,693.4 923.90,782.6 924.20,706.8 924.50,648.3 924.80,789.5 925.10,712.7 925.40,728.9 925.70,665.0 926.00,762.5 926.30,697.3 926.60,677.1 926.90,702.7 927.20,822.0 927.50,857.9 927.80,692.5 928.10,718.6 928.40,732.4 928.70,647.3 929.00,611.0 929.30,723.6 929.60,678.3 929.90,655.4 930.20,803.7 930.50,667.8 930.80,635.4 931.10,683.3 931.40,867.9 931.70,677.9 932.00,844.6 932.30,679.5 932.60,750.9 932.90,665.1 933.20,677.8 933.50,792.9 933.80,730.6 934.10,668.0 934.40,789.1 934.70,777.4 935.00,713.2 935.30,815.8 935.60,634.2 935.90,771.5 936.20,668.5 936.50,658.3 936.80,794.2 937.10,816.5 937.40,635.3 937.70,766.3 938.00,727.2 938.30,644.4 938.60,646.4 938.90,677.2 939.20,680.3 939.50,631.0 939.80,780.9 940.10,693.8 940.40,731.7 940.70,658.6 941.00,659.8 941.30,645.4 941.60,797.3 941.90,726.0 942.20,667.4 942.50,608.4 942.80,755.8 943.10,825.3 943.40,666.5 943.70,639.9 944.00,705.0 944.30,631.7 944.60,611.8 944.90,733.6 945.20,610.1 945.50,757.0 945.80,635.7 946.10,676.1 946.40,916.4 946.70,670.9 947.00,809.4 947.30,677.5 947.60,796.8 947.90,619.7 948.20,652.2 948.50,639.2 948.80,738.7 949.10,680.4 949.40,663.2 949.70,754.3 950.00,625.1 950.30,680.1 950.60,664.4 950.90,757.7 951.20,735.3 951.50,635.3 951.80,622.5 952.10,628.7 952.40,675.4 952.70,822.1 953.00,627.2 953.30,713.1 953.60,671.0 953.90,753.2 954.20,786.3 954.50,715.7 954.80,655.6 955.10,781.9 955.40,739.1 955.70,621.5 956.00,791.5 956.30,630.8 956.60,782.0 956.90,782.0 957.20,637.5 957.50,798.2 957.80,990.5 958.10,612.3 958.40,621.4 958.70,665.0 959.00,838.6 959.30,675.1 959.60,748.5 959.90,697.7 960.20,646.8 960.50,723.1 960.80,632.4 961.10,640.1 961.40,701.4 961.70,606.5 962.00,622.5 962.30,621.4 962.60,621.2 962.90,648.9 963.20,617.6 963.50,752.7 963.80,613.2 964.10,622.4 964.40,746.8 964.70,819.4 965.00,715.6 965.30,757.2 965.60,911.7 965.90,593.4 966.20,746.8 966.50,779.3 966.80,601.7 967.10,590.7 967.40,625.9 967.70,616.0 968.00,744.9 968.30,680.9 968.60,618.5 968.90,750.7 969.20,692.3 969.50,637.5 969.80,620.2 970.10,790.0 970.40,609.9 970.70,743.5 971.00,644.5 971.30,600.4 971.60,681.9 971.90,630.8 972.20,596.7 972.50,653.0 972.80,722.9 973.10,614.4 973.40,867.0 973.70,660.6 974.00,625.3 974.30,699.9 974.60,716.8 974.90,623.6 975.20,636.0 975.50,607.4 975.80,708.6 976.10,829.1 976.40,618.0 976.70,697.8 977.00,606.8 977.30,597.8 977.60,775.1 977.90,756.3 978.20,619.3 978.50,614.1 978.80,594.9 979.10,709.8 979.40,818.9 979.70,634.8 980.00,689.1 980.30,608.5 980.60,623.3 980.90,621.5 981.20,596.3 981.50,589.7 981.80,750.1 982.10,659.9 982.40,575.9 982.70,602.3 983.00,605.7 983.30,627.9 983.60,643.3 983.90,846.9 984.20,624.4 984.50,602.7 984.80,593.3 985.10,602.2 985.40,744.0 985.70,629.9 986.00,807.9 986.30,618.6 986.60,614.5 986.90,631.8 987.20,615.0 987.50,628.3 987.80,909.1 988.10,657.8 988.40,568.8 988.70,570.7 989.00,735.4 989.30,625.1 989.60,666.5 989.90,584.4 990.20,657.6 990.50,709.0 990.80,589.3 991.10,700.2 991.40,557.2 991.70,669.8 992.00,601.1 992.30,678.7 992.60,587.7 992.90,721.3 993.20,550.4 993.50,579.9 993.80,685.3 994.10,763.3 994.40,575.4 994.70,758.2 995.00,691.5 995.30,725.7 995.60,800.3 995.90,589.4 996.20,685.0 996.50,535.7 996.80,570.7 997.10,620.2 997.40,611.0 997.70,597.5 998.00,608.5 998.30,675.4 998.60,729.2 998.90,681.5 999.20,807.6 999.50,580.1 999.80,574.7 1000.10,690.3 1000.40,828.3 1000.70,780.8 1001.00,701.6 1001.30,697.9 1001.60,572.2 1001.90,607.8 1002.20,549.8 1002.50,750.2 1002.80,682.4 1003.10,753.3 1003.40,579.5 1003.70,519.1 1004.00,807.9 1004.30,580.7 1004.60,526.8 1004.90,549.3 1005.20,527.2 1005.50,616.2 1005.80,534.6 1006.10,496.7 1006.40,520.3 1006.70,775.2 1007.00,536.3 1007.30,543.9 1007.60,763.2 1007.90,562.4 1008.20,730.6 1008.50,525.5 1008.80,549.1 1009.10,777.7 1009.40,667.7 1009.70,790.5 1010.00,797.6 1010.30,751.8 1010.60,548.8 1010.90,682.7 1011.20,801.6 1011.50,499.5 1011.80,805.7 1012.10,510.1 1012.40,714.0 1012.70,519.7 1013.00,487.7 1013.30,739.8 1013.60,462.6 1013.90,648.1 1014.20,673.5 1014.50,745.0 1014.80,441.7 1015.10,435.9 1015.40,693.0 1015.70,448.5 1016.00,465.1 1016.30,758.7 1016.60,444.5 1016.90,699.4 1017.20,442.0 1017.50,418.7 1017.80,405.8 1018.10,768.7 1018.40,748.0 1018.70,720.8 1019.00,360.0 1019.30,340.6 1019.60,791.2 1019.90,768.7 1020.20,754.0 1020.50,673.6 1020.80,344.0 1021.10,731.5 1021.20,597.6 1021.30,485.9 1021.50,430.1 1022.15,396.6 1022.25,262.7 1022.50,145.5 1023.00,72.9 1023.50,39.5 1024.00,72.9 1024.50,145.5 1024.75,262.7 1024.85,396.6 1025.50,430.1 1025.70,485.9 1025.80,597.6 1025.90,731.5 1026.20,796.3 1026.50,360.6 1026.80,713.6 1027.10,363.1 1027.40,397.1 1027.70,404.3 1028.00,668.9 1028.30,391.0 1028.60,740.7 1028.90,401.7 1029.20,419.4 1029.50,653.5 1029.80,443.2 1030.10,760.9 1030.40,455.8 1030.70,764.4 1031.00,761.6 1031.30,452.1 1031.60,458.5 1031.90,462.3 1032.20,711.1 1032.50,684.7 1032.80,496.6 1033.10,462.2 1033.40,799.0 1033.70,464.9 1034.00,724.2 1034.30,738.7 1034.60,490.3 1034.90,482.3 1035.20,517.1 1035.50,722.3 1035.80,692.0 1036.10,511.6 1036.40,705.3 1036.70,720.4 1037.00,546.4 1037.30,572.9 1037.60,640.1 1037.90,499.1 1038.20,785.2 1038.50,517.9 1038.80,541.3 1039.10,529.4 1039.40,539.8 1039.70,564.6 1040.00,520.3 1040.30,563.2 1040.60,662.6 1040.90,694.6 1041.20,794.8 1041.50,537.5 1041.80,639.9 1042.10,569.5 1042.40,577.1 1042.70,727.2 1043.00,670.4 1043.30,658.4 1043.60,645.3 1043.90,748.4 1044.20,701.0 1044.50,576.0 1044.80,849.0 1045.10,555.4 1045.40,745.5 1045.70,715.0 1046.00,707.4 1046.30,706.3 1046.60,590.8 1046.90,689.7 1047.20,543.1 1047.50,611.6 1047.80,549.2 1048.10,567.8 1048.40,716.1 1048.70,588.7 1049.00,841.9 1049.30,804.1 1049.60,796.5 1049.90,778.4 1050.20,586.5 1050.50,597.3 1050.80,574.2 1051.10,598.4 1051.40,628.7 1051.70,558.1 1052.00,705.4 1052.30,649.5 1052.60,600.4 1052.90,794.9 1053.20,861.9 1053.50,813.9 1053.80,574.4 1054.10,584.4 1054.40,651.6 1054.70,848.7 1055.00,601.7 1055.30,579.9 1055.60,660.5 1055.90,723.1 1056.20,594.0 1056.50,593.5 1056.80,657.5 1057.10,650.8 1057.40,575.3 1057.70,764.4 1058.00,645.7 1058.30,582.4 1058.60,827.5 1058.90,555.6 1059.20,591.3 1059.50,600.6 1059.80,577.5 1060.10,692.5 1060.40,677.3 1060.70,583.8 1061.00,677.0 1061.30,600.2 1061.60,708.0 1061.90,610.6 1062.20,660.7 1062.50,670.3 1062.80,585.9 1063.10,624.9 1063.40,590.7 1063.70,718.6 1064.00,704.1 1064.30,593.4 1064.60,753.1 1064.90,707.8 1065.20,669.5 1065.50,685.4 1065.80,619.2 1066.10,718.5 1066.40,787.8 1066.70,629.2 1067.00,614.7 1067.30,622.4 1067.60,661.5 1067.90,580.5 1068.20,888.5 1068.50,633.9 1068.80,625.0 1069.10,626.8 1069.40,601.0 1069.70,616.3 1070.00,907.9 1070.30,657.2 1070.60,702.4 1070.90,599.0 1071.20,653.8 1071.50,699.2 1071.80,793.5 1072.10,684.9 1072.40,645.1 1072.70,586.3 1073.00,605.8 1073.30,657.7 1073.60,670.4 1073.90,652.8 1074.20,792.3 1074.50,755.7 1074.80,610.3 1075.10,726.7 1075.40,649.4 1075.70,571.9 1076.00,640.8 1076.30,639.8 1076.60,616.4 1076.90,644.0 1077.20,675.9 1077.50,658.4 1077.80,602.6 1078.10,644.7 1078.40,763.1 1078.70,689.6 1079.00,713.5 1079.30,694.8 1079.60,701.8 1079.90,635.0 1080.20,736.3 1080.50,629.3 1080.80,719.4 1081.10,776.2 1081.40,888.1 1081.70,713.0 1082.00,750.0 1082.30,687.0 1082.60,848.4 1082.90,640.5 1083.20,671.0 1083.50,617.9 1083.80,703.7 1084.10,677.1 1084.40,606.8 1084.70,623.4 1085.00,664.8 1085.30,663.2 1085.60,786.4 1085.90,640.0 1086.20,808.9 1086.50,654.8 1086.80,640.1 1087.10,648.2 1087.40,690.7 1087.70,631.0 1088.00,663.7 1088.30,692.3 1088.60,716.9 1088.90,631.7 1089.20,717.6 1089.50,666.3 1089.80,775.1 1090.10,693.4 1090.40,635.8 1090.70,678.6 1091.00,620.4 1091.30,754.4 1091.60,698.8 1091.90,661.6 1092.20,683.1 1092.50,930.0 1092.80,703.2 1093.10,702.0 1093.40,624.2 1093.70,610.5 1094.00,785.4 1094.30,634.4 1094.60,662.6 1094.90,658.4 1095.20,640.7 1095.50,731.3 1095.80,830.9 1096.10,773.4 1096.40,635.8 1096.70,633.2 1097.00,756.8 1097.30,706.0 1097.60,655.3 1097.90,615.8 1098.20,634.2 1098.50,823.6 1098.80,676.1 1099.10,664.3 1099.40,720.8 1099.70,636.0 1100.00,606.3 1100.30,643.1 1100.60,713.8 1100.90,643.5 1101.20,672.4 1101.50,608.7 1101.80,743.6 1102.10,600.3 1102.40,662.3 1102.70,715.3 1103.00,661.9 1103.30,739.2 1103.60,664.4 1103.90,783.1 1104.20,702.5 1104.50,709.1 1104.80,654.3 1105.10,628.8 1105.40,633.4 1105.70,867.3 1106.00,634.7 1106.30,815.3 1106.60,680.4 1106.90,781.2 1107.20,600.6 1107.50,746.4 1107.80,767.7 1108.10,716.6 1108.40,667.2 1108.70,908.9 1109.00,622.8 1109.30,821.8 1109.60,684.1 1109.90,780.8 1110.20,680.9 1110.50,714.9 1110.80,689.1 1111.10,751.8 1111.40,640.2 1111.70,775.8 1112.00,689.0 1112.30,886.5 1112.60,710.3 1112.90,696.6 1113.20,735.4 1113.50,618.1 1113.80,670.9 1114.10,648.7 1114.40,647.1 1114.70,738.3 1115.00,693.4 1115.30,660.9 1115.60,778.4 1115.90,692.9 1116.20,726.8 1116.50,646.7 1116.80,635.7 1117.10,639.9 1117.40,676.7 1117.70,638.9 1118.00,864.1 1118.30,795.8 1118.60,728.1 1118.90,654.9 1119.20,725.2 1119.50,776.4 1119.80,660.5 1120.10,714.3 1120.40,760.7 1120.70,771.5 1121.00,709.8 1121.30,783.4 1121.60,633.1 1121.90,733.0 1122.20,746.0 1122.50,820.3 1122.80,692.5 1123.10,731.0 1123.40,639.4 1123.70,914.2 1124.00,689.7 1124.30,667.1 1124.60,725.6 1124.90,664.5 1125.20,859.5 1125.50,653.9 1125.80,691.5 1126.10,690.4 1126.40,727.7 1126.70,741.2 1127.00,701.4 1127.30,684.4 1127.60,731.8 1127.90,600.2 1128.20,710.3 1128.50,774.1 1128.80,643.5 1129.10,686.9 1129.40,865.3 1129.70,627.9 1130.00,758.9 1130.30,734.0 1130.60,712.0 1130.90,616.9 1131.20,648.2 1131.50,707.4 1131.80,802.7 1132.10,690.4 1132.40,691.8 1132.70,641.1 1133.00,677.4 1133.30,724.6 1133.60,884.2 1133.90,680.4 1134.20,671.2 1134.50,649.0 1134.80,744.8 1135.10,749.3 1135.40,707.4 1135.70,693.5 1136.00,832.2 1136.30,797.0 1136.60,749.4 1136.90,653.8 1137.20,777.9 1137.50,624.5 1137.80,689.4 1138.10,705.7 1138.40,799.0 1138.70,775.8 1139.00,751.1 1139.30,685.9 1139.60,835.7 1139.90,651.9 1140.20,813.0 1140.50,679.9 1140.80,653.8 1141.10,695.0 1141.40,852.3 1141.70,807.1 1142.00,677.6 1142.30,674.2 1142.60,660.6 1142.90,806.7 1143.20,769.8 1143.50,706.7 1143.80,780.4 1144.10,648.3 1144.40,742.2 1144.70,743.7 1145.00,618.7 1145.30,736.2 1145.60,679.7 1145.90,612.2 1146.20,672.5 1146.50,757.6 1146.80,700.6 1147.10,706.1 1147.40,666.0 1147.70,738.6 1148.00,667.1 1148.30,768.4 1148.60,724.4 1148.90,617.9 1149.20,690.7 1149.50,733.0 1149.80,637.5 1150.10,758.2 1150.40,748.2 1150.70,672.5 1151.00,650.6 1151.30,642.9 1151.60,709.3 1151.90,739.7 1152.20,736.3 1152.50,840.8 1152.80,705.6 1153.10,771.6 1153.40,642.6 1153.70,753.0 1154.00,680.6 1154.30,637.8 1154.60,713.6 1154.90,749.1 1155.20,686.2 1155.50,779.9 1155.80,839.5 1156.10,731.5 1156.40,740.6 1156.70,701.3 1157.00,733.6 1157.30,737.0 1157.60,853.6 1157.90,743.5 1158.20,805.6 1158.50,806.4 1158.80,701.0 1159.10,734.9 1159.40,723.6 1159.70,732.9 1160.00,727.0 1160.30,752.5 1160.60,699.2 1160.90,616.4 1161.20,688.2 1161.50,644.3 1161.80,663.0 1162.10,794.7 1162.40,801.6 1162.70,658.5 1163.00,732.8 1163.30,680.9 1163.60,678.8 1163.90,704.7 1164.20,780.6 1164.50,680.3 1164.80,805.3 1165.10,697.7 1165.40,829.7 1165.70,774.3 1166.00,723.8 1166.30,751.2 1166.60,801.8 1166.90,716.1 1167.20,883.1 1167.50,675.9 1167.80,847.0 1168.10,784.8 1168.40,775.9 1168.70,693.4 1169.00,745.6 1169.30,678.1 1169.60,813.7 1169.90,774.4 1170.20,851.9 1170.50,775.6 1170.80,785.3 1171.10,796.0 1171.40,731.0 1171.70,758.2 1172.00,788.5 1172.30,682.2 1172.60,675.4 1172.90,727.7 1173.20,750.5 1173.50,876.6 1173.80,683.1 1174.10,681.8 1174.40,825.1 1174.70,705.6 1175.00,768.8 1175.30,800.7 1175.60,675.9 1175.90,901.8 1176.20,751.5 1176.50,801.4 1176.80,765.4 1177.10,786.6 1177.40,765.0 1177.70,857.2 1178.00,735.9 1178.30,803.6 1178.60,721.4 1178.90,656.7 1179.20,857.7 1179.50,786.7 1179.80,837.8 1180.10,967.1 1180.40,773.7 1180.70,748.7 1181.00,671.7 1181.30,812.6 1181.60,670.2 1181.90,844.3 1182.20,793.0 1182.50,739.2 1182.80,704.5 1183.10,832.0 1183.40,822.2 1183.70,777.5 1184.00,621.0 1184.30,689.6 1184.60,746.7 1184.90,833.3 1185.20,731.5 1185.50,654.4 1185.80,707.1 1186.10,918.6 1186.40,675.7 1186.70,715.6 1187.00,718.1 1187.30,770.1 1187.60,687.0 1187.90,664.5 1188.20,821.7 1188.50,779.1 1188.80,693.0 1189.10,700.0 1189.40,684.5 1189.70,698.8 1190.00,677.3 1190.30,784.0 1190.60,770.6 1190.90,747.7 1191.20,764.0 1191.50,749.0 1191.80,809.7 1192.10,814.4 1192.40,757.3 1192.70,793.5 1193.00,648.3 1193.30,831.0 1193.60,670.0 1193.90,678.0 1194.20,660.3 1194.50,855.8 1194.80,665.3 1195.10,879.1 1195.40,884.8 1195.70,799.2 1196.00,670.9 1196.30,717.3 1196.60,685.8 1196.90,867.0 1197.20,725.7 1197.50,853.2 1197.80,768.5 1198.10,723.4 1198.40,764.5 1198.70,686.3 1199.00,734.0 1199.30,754.5 1199.60,686.7 1199.90,705.3 1200.20,1031.8 1200.50,760.8 1200.80,728.1 1201.10,798.8 1201.40,676.4 1201.70,724.3 1202.00,747.1 1202.30,738.6 1202.60,637.5 1202.90,765.7 1203.20,729.2 1203.50,818.5 1203.80,795.1 1204.10,768.4 1204.40,965.2 1204.70,704.8 1205.00,797.2 1205.30,657.1 1205.60,767.1 1205.90,643.8 1206.20,693.7 1206.50,761.7 1206.80,827.3 1207.10,796.2 1207.40,691.8 1207.70,736.1 1208.00,719.1 1208.30,698.4 1208.60,745.1 1208.90,959.2 1209.20,709.1 1209.50,711.0 1209.80,686.4 1210.10,706.4 1210.40,717.9 1210.70,837.8 1211.00,651.7 1211.30,668.1 1211.60,888.2 1211.90,688.9 1212.20,681.4 1212.50,618.9 1212.80,648.9 1213.10,689.5 1213.40,713.9 1213.70,783.7 1214.00,700.4 1214.30,657.6 1214.60,921.0 1214.90,698.3 1215.20,810.9 1215.50,746.5 1215.80,826.7 1216.10,826.8 1216.40,683.3 1216.70,879.1 1217.00,701.2 1217.30,826.4 1217.60,787.1 1217.90,747.7 1218.20,733.2 1218.50,725.8 1218.80,948.2 1219.10,723.0 1219.40,741.4 1219.70,744.0 1220.00,703.1 1220.30,685.8 1220.60,816.7 1220.90,752.1 1221.20,656.4 1221.50,681.0 1221.80,886.4 1222.10,839.2 1222.40,711.4 1222.70,697.3 1223.00,743.3 1223.30,677.1 1223.60,654.6 1223.90,623.3 1224.20,831.4 1224.50,755.5 1224.80,737.9 1225.10,835.5 1225.40,757.2 1225.70,872.8 1226.00,765.8 1226.30,823.0 1226.60,777.1 1226.90,725.9 1227.20,673.0 1227.50,821.7 1227.80,722.1 1228.10,728.2 1228.40,772.5 1228.70,782.5 1229.00,762.8 1229.30,702.9 1229.60,678.3 1229.90,862.6 1230.20,819.7 1230.50,745.2 1230.80,697.4 1231.10,746.7 1231.40,730.6 1231.70,654.7 1232.00,679.7 1232.30,748.6 1232.60,802.6 1232.90,713.3 1233.20,751.5 1233.50,794.2 1233.80,693.2 1234.10,817.7 1234.40,762.8 1234.70,770.3 1235.00,692.6 1235.30,728.5 1235.60,822.7 1235.90,675.5 1236.20,819.9 1236.50,726.3 1236.80,751.3 1237.10,786.5 1237.40,785.4 1237.70,720.8 1238.00,726.3 1238.30,805.5 1238.60,847.2 1238.90,736.5 1239.20,733.4 1239.50,695.5 1239.80,732.2 1240.10,699.5 1240.40,757.3 1240.70,704.0 1241.00,702.8 1241.30,678.4 1241.60,678.0 1241.90,811.9 1242.20,708.2 1242.50,769.8 1242.80,660.0 1243.10,678.9 1243.40,881.9 1243.70,708.0 1244.00,717.6 1244.30,837.4 1244.60,884.9 1244.90,695.9 1245.20,730.8 1245.50,714.3 1245.80,703.5 1246.10,746.6 1246.40,790.0 1246.70,685.2 1247.00,704.2 1247.30,647.1 1247.60,668.9 1247.90,704.0 1248.20,731.0 1248.50,655.5 1248.80,692.7 1249.10,827.9 1249.40,662.6 1249.70,839.5 1250.00,763.7 1250.30,703.2 1250.60,783.6 1250.90,771.8 1251.20,690.4 1251.50,975.5 1251.80,870.8 1252.10,742.0 1252.40,704.1 1252.70,696.0 1253.00,798.0 1253.30,684.8 1253.60,722.5 1253.90,755.1 1254.20,712.5 1254.50,776.9 1254.80,679.0 1255.10,949.7 1255.40,815.3 1255.70,734.3 1256.00,736.1 1256.30,737.0 1256.60,702.7 1256.90,729.9 1257.20,781.9 1257.50,714.1 1257.80,759.3 1258.10,747.5 1258.40,748.2 1258.70,697.5 1259.00,753.6 1259.30,682.0 1259.60,710.4 1259.90,725.5 1260.20,793.8 1260.50,767.3 1260.80,792.5 1261.10,769.2 1261.40,666.6 1261.70,719.0 1262.00,757.8 1262.30,671.0 1262.60,725.8 1262.90,773.1 1263.20,730.4 1263.50,827.0 1263.80,680.8 1264.10,652.7 1264.40,914.6 1264.70,726.2 1265.00,832.4 1265.30,703.3 1265.60,788.0 1265.90,686.1 1266.20,798.5 1266.50,680.1 1266.80,693.8 1267.10,688.2 1267.40,728.8 1267.70,696.4 1268.00,753.7 1268.30,710.3 1268.60,748.5 1268.90,795.4 1269.20,793.5 1269.50,759.3 1269.80,791.8 1270.10,717.0 1270.40,832.5 1270.70,699.8 1271.00,833.6 1271.30,744.3 1271.60,761.8 1271.90,771.3 1272.20,770.0 1272.50,765.9 1272.80,834.5 1273.10,711.2 1273.40,736.3 1273.70,683.1 1274.00,677.4 1274.30,685.1 1274.60,710.7 1274.90,790.5 1275.20,747.8 1275.50,715.0 1275.80,832.9 1276.10,675.7 1276.40,949.1 1276.70,729.7 1277.00,746.6 1277.30,782.3 1277.60,725.5 1277.90,712.5 1278.20,744.7 1278.50,792.6 1278.80,680.7 1279.10,775.7 1279.40,817.4 1279.70,705.0 1280.00,729.8 1280.30,739.1 1280.60,710.1 1280.90,648.6 1281.20,676.3 1281.50,697.6 1281.80,658.7 1282.10,764.8 1282.40,762.9 1282.70,714.3 1283.00,693.6 1283.30,707.7 1283.60,763.0 1283.90,708.3 1284.20,691.2 1284.50,745.7 1284.80,792.2 1285.10,713.0 1285.40,766.3 1285.70,734.5 1286.00,737.1 1286.30,781.9 1286.60,767.2 1286.90,654.8 1287.20,772.2 1287.50,686.2 1287.80,699.9 1288.10,836.1 1288.40,813.8 1288.70,798.8 1289.00,749.5 1289.30,687.7 1289.60,816.8 1289.90,703.5 1290.20,797.3 1290.50,746.9 1290.80,739.5 1291.10,690.3 1291.40,671.0 1291.70,844.8 1292.00,735.4 1292.30,721.9 1292.60,759.3 1292.90,808.6 1293.20,714.2 1293.50,702.7 1293.80,992.9 1294.10,699.7 1294.40,774.9 1294.70,830.4 1295.00,838.4 1295.30,792.6 1295.60,645.2 1295.90,748.1 1296.20,718.3 1296.50,803.8 1296.80,704.5 1297.10,768.9 1297.40,736.9 1297.70,743.3 1298.00,687.8 1298.30,799.9 1298.60,703.0 1298.90,973.0 1299.20,739.9 1299.50,730.9 1299.80,761.4 1300.10,745.6 1300.40,726.5 1300.70,686.5 1301.00,761.1 1301.30,776.5 1301.60,707.6 1301.90,686.4 1302.20,964.2 1302.50,979.1 1302.80,808.6 1303.10,712.8 1303.40,885.5 1303.70,940.8 1304.00,710.1 1304.30,669.0 1304.60,879.3 1304.90,719.2 1305.20,801.7 1305.50,690.4 1305.80,702.2 1306.10,787.9 1306.40,767.8 1306.70,724.2 1307.00,687.6 1307.30,793.3 1307.60,750.1 1307.90,811.1 1308.20,1040.7 1308.50,847.2 1308.80,683.3 1309.10,715.2 1309.40,927.5 1309.70,785.1 1310.00,714.7 1310.30,852.5 1310.60,921.8 1310.90,786.6 1311.20,758.9 1311.50,701.1 1311.80,747.3 1312.10,704.0 1312.40,699.8 1312.70,704.7 1313.00,849.6 1313.30,702.3 1313.60,694.5 1313.90,832.9 1314.20,889.4 1314.50,737.0 1314.80,742.2 1315.10,739.0 1315.40,748.1 1315.70,681.3 1316.00,752.0 1316.30,823.0 1316.60,688.9 1316.90,775.3 1317.20,745.2 1317.50,679.1 1317.80,775.7 1318.10,784.1 1318.40,826.4 1318.70,756.2 1319.00,784.9 1319.30,889.9 1319.60,861.3 1319.90,798.3 1320.20,703.4 1320.50,695.4 1320.80,887.2 1321.10,687.3 1321.40,721.0 1321.70,614.3 1322.00,674.8 1322.30,773.4 1322.60,720.7 1322.90,795.4 1323.20,802.2 1323.50,743.0 1323.80,825.1 1324.10,810.6 1324.40,799.1 1324.70,801.6 1325.00,716.6 1325.30,808.5 1325.60,755.7 1325.90,737.4 1326.20,641.6 1326.50,733.0 1326.80,860.2 1327.10,700.4 1327.40,743.6 1327.70,792.8 1328.00,764.8 1328.30,744.2 1328.60,710.0 1328.90,760.3 1329.20,704.9 1329.50,780.6 1329.80,721.1 1330.10,709.4 1330.40,764.2 1330.70,707.1 1331.00,765.9 1331.30,761.1 1331.60,833.6 1331.90,793.6 1332.20,734.3 1332.50,700.5 1332.80,714.2 1333.10,796.3 1333.40,816.6 1333.70,702.0 1334.00,640.7 1334.30,973.6 1334.60,746.2 1334.90,802.8 1335.20,686.9 1335.50,871.2 1335.80,804.2 1336.10,735.2 1336.40,657.6 1336.70,945.5 1337.00,815.7 1337.30,699.8 1337.60,855.9 1337.90,901.6 1338.20,814.5 1338.50,719.1 1338.80,727.4 1339.10,776.5 1339.40,822.8 1339.70,717.9 1340.00,721.8 1340.30,680.5 1340.60,781.8 1340.90,765.8 1341.20,873.7 1341.50,668.7 1341.80,999.5 1342.10,729.1 1342.40,760.5 1342.70,865.7 1343.00,733.1 1343.30,879.2 1343.60,698.4 1343.90,754.6 1344.20,713.7 1344.50,685.0 1344.80,813.6 1345.10,705.7 1345.40,779.2 1345.70,716.5 1346.00,675.0 1346.30,735.2 1346.60,727.2 1346.90,732.1 1347.20,714.6 1347.50,749.0 1347.80,729.4 1348.10,863.3 1348.40,796.2 1348.70,709.3 1349.00,769.5 1349.30,718.6 1349.60,812.9 1349.90,723.2 1350.20,791.3 1350.50,695.6 1350.80,733.6 1351.10,841.1 1351.40,726.3 1351.70,806.9 1352.00,789.6 1352.30,678.2 1352.60,745.2 1352.90,756.0 1353.20,737.5 1353.50,708.2 1353.80,958.4 1354.10,865.8 1354.40,1002.0 1354.70,733.3 1355.00,782.8 1355.30,725.6 1355.60,725.1 1355.90,646.0 1356.20,755.5 1356.50,798.0 1356.80,703.3 1357.10,732.3 1357.40,817.5 1357.70,793.3 1358.00,755.3 1358.30,761.8 1358.60,781.5 1358.90,675.6 1359.20,801.4 1359.50,699.8 1359.80,721.1 1360.10,736.3 1360.40,715.0 1360.70,850.6 1361.00,841.4 1361.30,744.7 1361.60,747.6 1361.90,728.7 1362.20,752.2 1362.50,720.9 1362.80,808.7 1363.10,741.2 1363.40,825.8 1363.70,757.1 1364.00,704.3 1364.30,743.4 1364.60,741.9 1364.90,769.6 1365.20,811.2 1365.50,783.9 1365.80,704.7 1366.10,738.7 1366.40,704.1 1366.70,765.2 1367.00,727.4 1367.30,733.0 1367.60,688.1 1367.90,813.3 1368.20,719.6 1368.50,747.7 1368.80,750.4 1369.10,807.7 1369.40,705.8 1369.70,695.6 1370.00,696.1 1370.30,718.0 1370.60,724.4 1370.90,746.6 1371.20,785.0 1371.50,713.3 1371.80,729.1 1372.10,739.7 1372.40,691.3 1372.70,823.0 1373.00,683.2 1373.30,697.5 1373.60,787.0 1373.90,803.1 1374.20,807.0 1374.50,782.4 1374.80,764.4 1375.10,886.6 1375.40,783.4 1375.70,848.8 1376.00,754.7 1376.30,756.3 1376.60,675.4 1376.90,687.2 1377.20,771.7 1377.50,768.3 1377.80,786.6 1378.10,777.5 1378.40,766.4 1378.70,713.2 1379.00,722.6 1379.30,762.7 1379.60,810.3 1379.90,746.9 1380.20,690.8 1380.50,667.1 1380.80,809.4 1381.10,833.1 1381.40,707.8 1381.70,716.8 1382.00,743.5 1382.30,1033.3 1382.60,809.3 1382.90,753.2 1383.20,726.2 1383.50,710.6 1383.80,845.9 1384.10,864.3 1384.40,706.2 1384.70,800.8 1385.00,742.5 1385.30,822.4 1385.60,747.3 1385.90,736.8 1386.20,793.2 1386.50,765.1 1386.80,790.1 1387.10,744.0 1387.40,730.0 1387.70,738.0 1388.00,754.4 1388.30,749.4 1388.60,705.4 1388.90,777.2 1389.20,752.6 1389.50,818.8 1389.80,772.5 1390.10,654.3 1390.40,703.4 1390.70,751.2 1391.00,727.0 1391.30,709.7 1391.60,797.9 1391.90,795.0 1392.20,703.6 1392.50,700.9 1392.80,818.1 1393.10,716.0 1393.40,730.2 1393.70,686.1 1394.00,743.3 1394.30,819.7 1394.60,736.0 1394.90,683.1 1395.20,950.7 1395.50,722.8 1395.80,710.7 1396.10,782.7 1396.40,729.5 1396.70,736.5 1397.00,773.2 1397.30,771.2 1397.60,727.0 1397.90,745.3 1398.20,709.7 1398.50,732.6 1398.80,833.1 1399.10,753.7 1399.40,846.6 1399.70,728.3 1400.00,683.7 1400.30,689.5 1400.60,781.5 1400.90,660.4 1401.20,675.4 1401.50,762.0 1401.80,722.9 1402.10,730.5 1402.40,805.4 1402.70,781.9 1403.00,765.7 1403.30,775.5 1403.60,869.6 1403.90,901.1 1404.20,866.3 1404.50,888.6 1404.80,785.5 1405.10,717.0 1405.40,739.8 1405.70,833.6 1406.00,784.9 1406.30,782.2 1406.60,751.7 1406.90,848.7 1407.20,733.3 1407.50,803.5 1407.80,855.6 1408.10,857.4 1408.40,721.6 1408.70,730.4 1409.00,800.8 1409.30,722.3 1409.60,753.5 1409.90,845.5 1410.20,760.7 1410.50,792.3 1410.80,811.0 1411.10,762.6 1411.40,745.4 1411.70,768.6 1412.00,803.5 1412.30,743.8 1412.60,802.4 1412.90,677.8 1413.20,735.2 1413.50,822.8 1413.80,875.1 1414.10,776.7 1414.40,713.9 1414.70,800.0 1415.00,788.8 1415.30,872.2 1415.60,812.8 1415.90,793.6 1416.20,721.8 1416.50,758.9 1416.80,764.5 1417.10,745.4 1417.40,759.5 1417.70,758.9 1418.00,827.9 1418.30,693.1 1418.60,754.9 1418.90,863.7 1419.20,677.8 1419.50,761.7 1419.80,747.5 1420.10,660.3 1420.40,751.8 1420.70,755.2 1421.00,694.4 1421.30,820.7 1421.60,790.4 1421.90,1009.8 1422.20,746.7 1422.50,778.8 1422.80,882.3 1423.10,754.6 1423.40,680.1 1423.70,685.7 1424.00,675.4 1424.30,1016.6 1424.60,720.0 1424.90,693.8 1425.20,800.1 1425.50,782.6 1425.80,748.2 1426.10,982.7 1426.40,753.0 1426.70,742.4 1427.00,810.1 1427.30,777.7 1427.60,772.4 1427.90,776.6 1428.20,744.6 1428.50,804.3 1428.80,709.2 1429.10,741.0 1429.40,714.5 1429.70,713.3 1430.00,752.6 1430.30,797.2 1430.60,746.4 1430.90,1047.2 1431.20,755.2 1431.50,929.9 1431.80,837.9 1432.10,741.4 1432.40,803.8 1432.70,721.1 1433.00,842.5 1433.30,758.2 1433.60,764.8 1433.90,744.3 1434.20,794.4 1434.50,722.1 1434.80,837.0 1435.10,762.6 1435.40,713.9 1435.70,762.6 1436.00,700.2 1436.30,807.5 1436.60,716.5 1436.90,862.9 1437.20,796.1 1437.50,802.5 1437.80,717.7 1438.10,888.0 1438.40,680.1 1438.70,791.1 1439.00,745.0 1439.30,908.7 1439.60,830.9 1439.90,809.9 1440.20,672.6 1440.50,718.9 1440.80,906.8 1441.10,798.7 1441.40,860.7 1441.70,681.1 1442.00,745.8 1442.30,688.1 1442.60,812.8 1442.90,771.5 1443.20,719.6 1443.50,1013.4 1443.80,765.6 1444.10,866.8 1444.40,797.3 1444.70,723.4 1445.00,861.4 1445.30,737.5 1445.60,799.3 1445.90,778.4 1446.20,730.2 1446.50,753.4 1446.80,1061.9 1447.10,808.4 1447.40,721.1 1447.70,874.8 1448.00,797.3 1448.30,736.4 1448.60,735.4 1448.90,694.3 1449.20,760.8 1449.50,717.1 1449.80,784.3 1450.10,743.7 1450.40,741.8 1450.70,695.9 1451.00,785.7 1451.30,738.6 1451.60,753.3 1451.90,755.4 1452.20,761.5 1452.50,766.1 1452.80,753.9 1453.10,835.2 1453.40,721.1 1453.70,770.6 1454.00,661.1 1454.30,950.6 1454.60,836.4 1454.90,755.0 1455.20,696.3 1455.50,728.2 1455.80,812.3 1456.10,759.8 1456.40,823.6 1456.70,796.5 1457.00,772.7 1457.30,797.2 1457.60,780.3 1457.90,707.9 1458.20,749.6 1458.50,760.7 1458.80,780.5 1459.10,813.7 1459.40,790.5 1459.70,768.7 1460.00,765.1 1460.30,1163.5 1460.60,716.3 1460.90,757.8 1461.20,795.4 1461.50,704.0 1461.80,703.1 1462.10,822.2 1462.40,684.6 1462.70,690.5 1463.00,764.0 1463.30,890.2 1463.60,681.0 1463.90,771.4 1464.20,784.9 1464.50,668.7 1464.80,702.5 1465.10,736.2 1465.40,737.9 1465.70,798.8 1466.00,859.8 1466.30,840.9 1466.60,802.8 1466.90,825.9 1467.20,739.4 1467.50,827.5 1467.80,801.9 1468.10,706.6 1468.40,852.4 1468.70,754.1 1469.00,731.7 1469.30,760.0 1469.60,791.5 1469.90,1092.0 1470.20,814.3 1470.50,766.4 1470.80,712.1 1471.10,832.1 1471.40,795.3 1471.70,887.1 1472.00,805.1 1472.30,719.4 1472.60,688.9 1472.90,734.2 1473.20,773.4 1473.50,749.2 1473.80,902.7 1474.10,670.0 1474.40,751.0 1474.70,720.9 1475.00,770.5 1475.30,847.3 1475.60,761.8 1475.90,877.8 1476.20,781.0 1476.50,853.7 1476.80,773.6 1477.10,847.4 1477.40,714.8 1477.70,775.4 1478.00,761.1 1478.30,742.0 1478.60,755.6 1478.90,795.3 1479.20,776.3 1479.50,805.6 1479.80,698.8 1480.10,717.3 1480.40,860.5 1480.70,832.6 1481.00,699.5 1481.30,746.6 1481.60,749.7 1481.90,817.8 1482.20,795.8 1482.50,733.9 1482.80,766.2 1483.10,700.9 1483.40,837.2 1483.70,818.1 1484.00,842.4 1484.30,715.0 1484.60,771.8 1484.90,660.1 1485.20,728.7 1485.50,742.4 1485.80,728.7 1486.10,785.3 1486.40,669.9 1486.70,693.7 1487.00,744.9 1487.30,844.3 1487.60,800.8 1487.90,836.1 1488.20,702.6 1488.50,707.3 1488.80,728.6 1489.10,850.0 1489.40,704.2 1489.70,778.3 1490.00,691.0 1490.30,753.7 1490.60,766.2 1490.90,792.1 1491.20,693.3 1491.50,826.7 1491.80,701.9 1492.10,746.9 1492.40,776.2 1492.70,712.3 1493.00,704.6 1493.30,796.5 1493.60,724.4 1493.90,768.7 1494.20,758.8 1494.50,681.5 1494.80,813.0 1495.10,942.2 1495.40,750.0 1495.70,821.0 1496.00,788.3 1496.30,698.5 1496.60,723.8 1496.90,781.3 1497.20,896.6 1497.50,721.6 1497.80,749.3 1498.10,770.8 1498.40,726.1 1498.70,857.8 1499.00,802.3 1499.30,797.5 1499.60,744.3 1499.90,687.3 1500.20,789.4 1500.50,728.2 1500.80,746.8 1501.10,938.5 1501.40,730.3 1501.70,752.9 1502.00,873.5 1502.30,681.5 1502.60,778.5 1502.90,818.0 1503.20,745.7 1503.50,708.9 1503.80,818.3 1504.10,780.4 1504.40,950.8 1504.70,753.0 1505.00,704.9 1505.30,811.9 1505.60,837.7 1505.90,789.5 1506.20,834.5 1506.50,816.0 1506.80,707.2 1507.10,715.3 1507.40,721.0 1507.70,724.6 1508.00,713.7 1508.30,752.8 1508.60,708.6 1508.90,723.0 1509.20,748.8 1509.50,763.5 1509.80,739.0 1510.10,679.2 1510.40,856.2 1510.70,812.5 1511.00,785.0 1511.30,716.0 1511.60,1039.6 1511.90,763.6 1512.20,751.2 1512.50,750.8 1512.80,714.8 1513.10,751.7 1513.40,706.5 1513.70,866.5 1514.00,758.7 1514.30,789.7 1514.60,803.6 1514.90,761.5 1515.20,716.0 1515.50,759.0 1515.80,1039.6 1516.10,707.3 1516.40,737.7 1516.70,810.0 1517.00,725.5 1517.30,698.1 1517.60,705.6 1517.90,700.3 1518.20,725.2 1518.50,872.3 1518.80,774.2 1519.10,810.2 1519.40,768.0 1519.70,738.9 1520.00,801.4 1520.30,733.8 1520.60,752.1 1520.90,707.8 1521.20,770.9 1521.50,679.2 1521.80,813.2 1522.10,805.5 1522.40,724.1 1522.70,902.8 1523.00,796.4 1523.30,765.6 1523.60,711.7 1523.90,794.6 1524.20,877.9 1524.50,753.1 1524.80,747.5 1525.10,852.9 1525.40,818.5 1525.70,653.2 1526.00,1047.4 1526.30,794.1 1526.60,744.6 1526.90,661.8 1527.20,740.9 1527.50,758.8 1527.80,702.4 1528.10,804.2 1528.40,724.7 1528.70,775.3 1529.00,739.1 1529.30,788.4 1529.60,660.1 1529.90,821.4 1530.20,746.0 1530.50,710.4 1530.80,759.5 1531.10,749.4 1531.40,807.0 1531.70,698.1 1532.00,779.3 1532.30,805.6 1532.60,713.9 1532.90,806.3 1533.20,687.0 1533.50,712.0 1533.80,731.7 1534.10,746.6 1534.40,733.1 1534.70,717.0 1535.00,767.9 1535.30,724.9 1535.60,784.1 1535.90,866.9 1536.20,1021.3 1536.50,842.1 1536.80,709.3 1537.10,701.1 1537.40,677.7 1537.70,682.3 1538.00,755.9 1538.30,870.1 1538.60,805.1 1538.90,761.0 1539.20,741.5 1539.50,717.6 1539.80,739.1 1540.10,705.6 1540.40,813.0 1540.70,737.0 1541.00,903.4 1541.30,820.1 1541.60,797.0 1541.90,703.5 1542.20,818.5 1542.50,773.7 1542.80,787.9 1543.10,766.2 1543.40,846.9 1543.70,727.5 1544.00,792.5 1544.30,781.4 1544.60,713.2 1544.90,878.7 1545.20,726.9 1545.50,859.7 1545.80,705.2 1546.10,800.0 1546.40,758.3 1546.70,834.3 1547.00,870.1 1547.30,766.1 1547.60,735.5 1547.90,748.6 1548.20,695.9 1548.50,800.7 1548.80,729.4 1549.10,755.4 1549.40,761.9 1549.70,753.5 1550.00,635.7 1550.30,709.3 1550.60,804.5 1550.90,724.0 1551.20,805.2 1551.50,953.3 1551.80,779.1 1552.10,729.5 1552.40,773.0 1552.70,749.7 1553.00,909.7 1553.30,759.4 1553.60,778.3 1553.90,879.2 1554.20,769.3 1554.50,788.8 1554.80,830.2 1555.10,684.5 1555.40,797.2 1555.70,756.7 1556.00,862.8 1556.30,800.6 1556.60,698.9 1556.90,779.2 1557.20,727.9 1557.50,845.7 1557.80,894.7 1558.10,866.9 1558.40,816.1 1558.70,758.5 1559.00,786.1 1559.30,797.9 1559.60,759.7 1559.90,816.0 1560.20,728.8 1560.50,705.7 1560.80,689.2 1561.10,717.2 1561.40,827.0 1561.70,854.8 1562.00,811.0 1562.30,790.9 1562.60,767.0 1562.90,741.0 1563.20,897.5 1563.50,761.7 1563.80,705.4 1564.10,801.1 1564.40,716.8 1564.70,770.7 1565.00,713.2 1565.30,777.8 1565.60,792.9 1565.90,714.3 1566.20,814.3 1566.50,758.2 1566.80,741.4 1567.10,779.5 1567.40,830.3 1567.70,767.9 1568.00,860.1 1568.30,748.0 1568.60,734.7 1568.90,715.7 1569.20,770.3 1569.50,777.9 1569.80,762.8 1570.10,730.8 1570.40,703.8 1570.70,855.4 1571.00,826.1 1571.30,711.1 1571.60,719.8 1571.90,781.6 1572.20,797.1 1572.50,739.2 1572.80,880.1 1573.10,661.2 1573.40,849.9 1573.70,852.3 1574.00,802.2 1574.30,742.5 1574.60,705.8 1574.90,892.2 1575.20,746.9 1575.50,969.9 1575.80,855.9 1576.10,766.4 1576.40,728.8 1576.70,711.7 1577.00,735.1 1577.30,806.6 1577.60,764.0 1577.90,775.3 1578.20,808.9 1578.50,786.9 1578.80,766.7 1579.10,761.3 1579.40,800.5 1579.70,804.0 1580.00,776.5 1580.30,855.0 1580.60,763.3 1580.90,819.7 1581.20,812.6 1581.50,961.0 1581.80,788.6 1582.10,758.5 1582.40,791.0 1582.70,750.6 1583.00,823.8 1583.30,718.5 1583.60,859.2 1583.90,992.2 1584.20,803.2 1584.50,984.3 1584.80,817.8 1585.10,713.0 1585.40,738.0 1585.70,974.3 1586.00,729.7 1586.30,838.3 1586.60,749.3 1586.90,985.6 1587.20,820.7 1587.50,779.3 1587.80,760.7 1588.10,737.1 1588.40,741.9 1588.70,785.4 1589.00,890.6 1589.30,927.7 1589.60,764.0 1589.90,1019.0 1590.20,795.6 1590.50,766.9 1590.80,714.2 1591.10,800.9 1591.40,801.6 1591.70,777.1 1592.00,935.5 1592.30,764.8 1592.60,779.0 1592.90,772.8 1593.20,745.1 1593.50,848.7 1593.80,723.6 1594.10,790.9 1594.40,692.2 1594.70,940.6 1595.00,861.7 1595.30,998.6 1595.60,750.1 1595.90,690.5 1596.20,831.1 1596.50,770.0 1596.80,818.8 1597.10,773.1 1597.40,828.6 1597.70,784.6 1598.00,784.2 1598.30,972.4 1598.60,852.6 1598.90,766.8 1599.20,796.9 1599.50,772.1 1599.80,834.3 1600.10,770.4 1600.40,701.6 1600.70,730.2 1601.00,804.1 1601.30,719.0 1601.60,806.0 1601.90,780.0 1602.20,859.5 1602.50,721.8 1602.80,758.9 1603.10,714.1 1603.40,710.2 1603.70,729.9 1604.00,765.1 1604.30,749.9 1604.60,748.3 1604.90,971.1 1605.20,755.4 1605.50,720.4 1605.80,928.9 1606.10,833.1 1606.40,793.0 1606.70,771.5 1607.00,718.0 1607.30,720.8 1607.60,746.2 1607.90,771.5 1608.20,814.8 1608.50,802.4 1608.80,913.5 1609.10,721.3 1609.40,800.1 1609.70,736.4 1610.00,781.3 1610.30,785.1 1610.60,839.0 1610.90,730.3 1611.20,763.7 1611.50,817.3 1611.80,733.2 1612.10,728.5 1612.40,782.8 1612.70,706.3 1613.00,839.4 1613.30,715.8 1613.60,752.7 1613.90,710.3 1614.20,767.9 1614.50,736.4 1614.80,820.4 1615.10,785.3 1615.40,846.1 1615.70,817.6 1616.00,824.4 1616.30,781.0 1616.60,737.0 1616.90,798.7 1617.20,708.8 1617.50,755.4 1617.80,792.1 1618.10,802.0 1618.40,745.5 1618.70,738.0 1619.00,756.3 1619.30,760.9 1619.60,708.4 1619.90,769.7 1620.20,754.4 1620.50,771.3 1620.80,757.7 1621.10,838.5 1621.40,737.3 1621.70,878.1 1622.00,737.6 1622.30,707.5 1622.60,795.4 1622.90,853.7 1623.20,801.2 1623.50,854.1 1623.80,717.9 1624.10,727.0 1624.40,741.2 1624.70,726.8 1625.00,771.1 1625.30,795.5 1625.60,805.7 1625.90,790.9 1626.20,776.9 1626.50,708.5 1626.80,826.3 1627.10,698.7 1627.40,763.2 1627.70,735.7 1628.00,713.0 1628.30,981.7 1628.60,734.4 1628.90,722.5 1629.20,806.6 1629.50,884.7 1629.80,886.6 1630.10,842.3 1630.40,825.6 1630.70,738.3 1631.00,839.9 1631.30,803.8 1631.60,815.7 1631.90,808.6 1632.20,765.6 1632.50,873.2 1632.80,744.5 1633.10,788.6 1633.40,866.7 1633.70,680.2 1634.00,895.5 1634.30,765.8 1634.60,769.5 1634.90,861.9 1635.20,705.5 1635.50,849.3 1635.80,749.3 1636.10,737.0 1636.40,840.6 1636.70,747.7 1637.00,921.1 1637.30,745.3 1637.60,877.8 1637.90,795.1 1638.20,856.5 1638.50,745.1 1638.80,755.1 1639.10,742.2 1639.40,914.3 1639.70,955.0 1640.00,968.4 1640.30,729.3 1640.60,854.3 1640.90,845.6 1641.20,772.2 1641.50,972.7 1641.80,805.7 1642.10,775.3 1642.40,827.1 1642.70,721.5 1643.00,890.2 1643.30,730.4 1643.60,844.5 1643.90,812.6 1644.20,751.5 1644.50,785.5 1644.80,819.9 1645.10,853.8 1645.40,806.9 1645.70,798.6 1646.00,971.4 1646.30,866.8 1646.60,800.5 1646.90,793.7 1647.20,845.2 1647.50,765.6 1647.80,800.7 1648.10,755.6 1648.40,813.9 1648.70,812.1 1649.00,826.8 1649.30,850.0 1649.60,741.6 1649.90,781.0 1650.20,804.4 1650.50,825.9 1650.80,776.5 1651.10,881.7 1651.40,800.5 1651.70,859.8 1652.00,763.0 1652.30,849.3 1652.60,811.2 1652.90,867.4 1653.20,952.6 1653.50,859.7 1653.80,896.9 1654.10,876.4 1654.40,794.5 1654.70,814.9 1655.00,821.1 1655.30,824.7 1655.60,882.4 1655.90,932.4 1656.20,864.1 1656.50,842.1 1656.80,832.6 1657.10,771.1 1657.40,800.5 1657.70,840.3 1658.00,832.2 1658.30,811.7 1658.60,854.8 1658.90,921.5 1659.20,805.4 1659.50,832.4 1659.80,927.5 1660.10,984.7 1660.40,873.1 1660.70,843.2 1661.00,987.7 1661.30,856.5 1661.60,808.7 1661.90,863.4 1662.20,912.1 1662.50,852.1 1662.80,885.4 1663.10,835.3 1663.40,804.7 1663.70,1004.2 1664.00,852.1 1664.30,1037.3 1664.60,904.1 1664.90,810.3 1665.20,889.7 1665.50,872.3 1665.80,813.1 1666.10,795.7 1666.40,853.3 1666.70,797.2 1667.00,850.8 1667.30,891.8 1667.60,797.3 1667.90,908.6 1668.20,986.8 1668.50,849.3 1668.80,803.9 1669.10,879.8 1669.40,873.0 1669.70,834.3 1670.00,909.1 1670.30,811.4 1670.60,819.4 1670.90,882.7 1671.20,766.5 1671.50,848.0 1671.80,785.3 1672.10,837.1 1672.40,859.3 1672.70,790.6 1673.00,893.4 1673.30,885.8 1673.60,938.5 1673.90,764.4 1674.20,783.8 1674.50,836.9 1674.80,860.0 1675.10,819.1 1675.40,832.6 1675.70,834.4 1676.00,849.0 1676.30,839.3 1676.60,775.2 1676.90,895.0 1677.20,764.3 1677.50,805.0 1677.80,781.0 1678.10,1033.0 1678.40,869.6 1678.70,1006.1 1679.00,967.1 1679.30,990.5 1679.60,871.5 1679.90,841.6 1680.20,755.5 1680.50,878.7 1680.80,812.2 1681.10,870.0 1681.40,870.3 1681.70,855.1 1682.00,806.4 1682.30,852.5 1682.60,982.2 1682.90,919.0 1683.20,729.9 1683.50,775.7 1683.80,920.5 1684.10,749.0 1684.40,863.9 1684.70,1019.9 1685.00,823.8 1685.30,877.1 1685.60,872.1 1685.90,811.4 1686.20,756.9 1686.50,996.2 1686.80,873.4 1687.10,787.1 1687.40,746.1 1687.70,816.3 1688.00,804.4 1688.30,851.0 1688.60,863.7 1688.90,870.3 1689.20,955.1 1689.50,819.1 1689.80,775.9 1690.10,844.7 1690.40,771.9 1690.70,801.5 1691.00,879.6 1691.30,798.3 1691.60,934.6 1691.90,868.1 1692.20,807.8 1692.50,808.3 1692.80,859.1 1693.10,878.2 1693.40,876.9 1693.70,840.4 1694.00,860.3 1694.30,834.6 1694.60,842.0 1694.90,884.4 1695.20,779.7 1695.50,927.9 1695.80,823.3 1696.10,870.3 1696.40,826.1 1696.70,852.7 1697.00,819.3 1697.30,761.8 1697.60,825.3 1697.90,783.1 1698.20,864.6 1698.50,784.7 1698.80,773.9 1699.10,823.5 1699.40,922.9 1699.70,818.0 1700.00,955.7 1700.30,815.4 1700.60,812.5 1700.90,776.3 1701.20,868.9 1701.50,776.0 1701.80,887.7 1702.10,897.2 1702.40,802.6 1702.70,827.2 1703.00,838.1 1703.30,837.2 1703.60,951.8 1703.90,856.0 1704.20,817.3 1704.50,970.1 1704.80,787.1 1705.10,823.5 1705.40,841.9 1705.70,811.3 1706.00,814.0 1706.30,776.8 1706.60,891.9 1706.90,838.1 1707.20,892.8 1707.50,766.3 1707.80,826.3 1708.10,1054.2 1708.40,809.5 1708.70,868.4 1709.00,854.2 1709.30,958.9 1709.60,801.5 1709.90,748.1 1710.20,859.0 1710.50,737.2 1710.80,865.6 1711.10,804.1 1711.40,851.6 1711.70,993.5 1712.00,770.8 1712.30,851.0 1712.60,964.6 1712.90,830.1 1713.20,824.7 1713.50,802.7 1713.80,821.7 1714.10,806.6 1714.40,817.1 1714.70,784.8 1715.00,799.9 1715.30,791.6 1715.60,861.4 1715.90,876.3 1716.20,779.7 1716.50,805.2 1716.80,937.1 1717.10,896.0 1717.40,832.8 1717.70,826.3 1718.00,1029.6 1718.30,927.2 1718.60,814.2 1718.90,843.4 1719.20,808.0 1719.50,799.4 1719.80,881.0 1720.10,862.0 1720.40,886.6 1720.70,856.4 1721.00,954.1 1721.30,790.1 1721.60,771.8 1721.90,812.5 1722.20,748.7 1722.50,834.2 1722.80,869.3 1723.10,907.3 1723.40,1051.2 1723.70,880.5 1724.00,816.9 1724.30,878.0 1724.60,905.9 1724.90,855.0 1725.20,812.0 1725.50,850.7 1725.80,794.8 1726.10,967.8 1726.40,834.9 1726.70,861.2 1727.00,834.8 1727.30,810.2 1727.60,841.0 1727.90,887.8 1728.20,848.9 1728.50,797.1 1728.80,851.8 1729.10,880.7 1729.40,876.2 1729.70,941.8 1730.00,939.2 1730.30,940.3 1730.60,794.4 1730.90,860.2 1731.20,834.7 1731.50,852.6 1731.80,848.8 1732.10,869.7 1732.40,831.4 1732.70,894.4 1733.00,810.9 1733.30,1053.9 1733.60,855.8 1733.90,847.6 1734.20,837.2 1734.50,760.2 1734.80,923.4 1735.10,878.8 1735.40,866.7 1735.70,777.8 1736.00,836.0 1736.30,987.9 1736.60,798.0 1736.90,766.1 1737.20,918.8 1737.50,906.4 1737.80,890.2 1738.10,839.8 1738.40,812.8 1738.70,939.6 1739.00,820.9 1739.30,864.2 1739.60,785.3 1739.90,849.7 1740.20,790.3 1740.50,962.8 1740.80,854.4 1741.10,820.8 1741.40,818.6 1741.70,873.1 1742.00,779.9 1742.30,848.6 1742.60,812.2 1742.90,790.4 1743.20,876.9 1743.50,812.9 1743.80,755.9 1744.10,797.9 1744.40,870.5 1744.70,836.8 1745.00,781.9 1745.30,817.7 1745.60,794.1 1745.90,857.8 1746.20,818.9 1746.50,880.1 1746.80,827.7 1747.10,823.8 1747.40,809.5 1747.70,811.5 1748.00,795.5 1748.30,1059.2 1748.60,883.5 1748.90,1008.9 1749.20,852.5 1749.50,891.6 1749.80,888.4 1750.10,866.7 1750.40,824.3 1750.70,943.3 1751.00,845.4 1751.30,896.1 1751.60,841.4 1751.90,877.0 1752.20,968.8 1752.50,836.9 1752.80,816.7 1753.10,959.3 1753.40,907.6 1753.70,893.2 1754.00,846.0 1754.30,907.7 1754.60,795.6 1754.90,849.2 1755.20,846.5 1755.50,862.3 1755.80,826.8 1756.10,903.1 1756.40,922.0 1756.70,820.9 1757.00,892.7 1757.30,782.5 1757.60,814.9 1757.90,790.8 1758.20,1043.1 1758.50,907.3 1758.80,755.0 1759.10,881.9 1759.40,879.9 1759.70,914.7 1760.00,854.1 1760.30,856.8 1760.60,1018.6 1760.90,817.2 1761.20,862.8 1761.50,830.0 1761.80,948.1 1762.10,815.4 1762.40,912.4 1762.70,795.9 1763.00,947.7 1763.30,828.2 1763.60,807.5 1763.90,824.6 1764.20,1063.3 1764.50,799.3 1764.80,965.8 1765.10,841.4 1765.40,789.0 1765.70,902.8 1766.00,800.2 1766.30,888.0 1766.60,910.4 1766.90,845.7 1767.20,810.8 1767.50,832.4 1767.80,777.0 1768.10,840.6 1768.40,873.9 1768.70,857.8 1769.00,788.3 1769.30,864.3 1769.60,914.3 1769.90,858.4 1770.20,852.0 1770.50,892.4 1770.80,988.0 1771.10,1038.1 1771.40,988.2 1771.70,1028.5 1772.00,883.5 1772.30,832.5 1772.60,879.8 1772.90,857.7 1773.20,805.3 1773.50,823.3 1773.80,918.4 1774.10,852.2 1774.40,887.6 1774.70,822.9 1775.00,780.7 1775.30,854.6 1775.60,895.2 1775.90,856.3 1776.20,887.2 1776.50,843.8 1776.80,898.4 1777.10,839.5 1777.40,929.7 1777.70,796.5 1778.00,915.3 1778.30,842.3 1778.60,878.8 1778.90,802.4 1779.20,826.5 1779.50,848.6 1779.80,871.2 1780.10,830.9 1780.40,942.8 1780.70,784.8 1781.00,864.6 1781.30,821.4 1781.60,856.0 1781.90,802.8 1782.20,831.7 1782.50,774.2 1782.80,814.7 1783.10,866.1 1783.40,788.1 1783.70,861.0 1784.00,997.2 1784.30,851.4 1784.60,779.3 1784.90,794.3 1785.20,834.5 1785.50,787.4 1785.80,834.6 1786.10,862.3 1786.40,814.3 1786.70,850.2 1787.00,874.9 1787.30,806.2 1787.60,858.3 1787.90,828.4 1788.20,893.6 1788.50,870.6 1788.80,840.7 1789.10,848.5 1789.40,841.5 1789.70,843.8 1790.00,867.4 1790.30,790.5 1790.60,952.0 1790.90,1024.8 1791.20,854.3 1791.50,821.1 1791.80,783.9 1792.10,892.1 1792.40,845.0 1792.70,838.1 1793.00,950.6 1793.30,869.3 1793.60,819.7 1793.90,974.6 1794.20,757.8 1794.50,849.7 1794.80,824.5 1795.10,799.8 1795.40,750.0 1795.70,868.8 1796.00,840.9 1796.30,895.4 1796.60,1017.0 1796.90,819.1 1797.20,805.2 1797.50,801.6 1797.80,844.7 1798.10,1000.7 1798.40,874.1 1798.70,835.0 1799.00,827.6 1799.30,898.2 1799.60,838.1 1799.90,859.6 1800.20,825.5 1800.50,818.8 1800.80,885.0 1801.10,865.3 1801.40,869.9 1801.70,787.9 1802.00,827.7 1802.30,859.3 1802.60,803.6 1802.90,816.0 1803.20,831.9 1803.50,775.0 1803.80,946.6 1804.10,793.0 1804.40,978.4 1804.70,888.6 1805.00,936.8 1805.30,857.8 1805.60,839.6 1805.90,931.9 1806.20,895.5 1806.50,812.8 1806.80,916.5 1807.10,771.5 1807.40,876.5 1807.70,813.1 1808.00,838.4 1808.30,762.4 1808.60,866.9 1808.90,878.5 1809.20,866.3 1809.50,776.8 1809.80,917.6 1810.10,822.5 1810.40,781.2 1810.70,791.8 1811.00,1151.2 1811.30,926.8 1811.60,1008.7 1811.90,860.2 1812.20,919.8 1812.50,856.6 1812.80,929.7 1813.10,791.2 1813.40,819.3 1813.70,960.9 1814.00,790.7 1814.30,882.0 1814.60,750.3 1814.90,818.6 1815.20,911.6 1815.50,777.4 1815.80,814.0 1816.10,839.4 1816.40,801.7 1816.70,909.0 1817.00,874.3 1817.30,1013.0 1817.60,787.3 1817.90,780.1 1818.20,803.1 1818.50,842.9 1818.80,894.5 1819.10,805.7 1819.40,844.0 1819.70,792.5 1820.00,768.8 1820.30,803.7 1820.60,824.2 1820.90,798.3 1821.20,756.3 1821.50,812.2 1821.80,811.8 1822.10,769.9 1822.40,944.4 1822.70,880.9 1823.00,801.0 1823.30,1031.6 1823.60,787.9 1823.90,832.9 1824.20,821.8 1824.50,869.9 1824.80,817.2 1825.10,936.6 1825.40,803.2 1825.70,917.7 1826.00,919.3 1826.30,814.2 1826.60,779.5 1826.90,840.1 1827.20,842.3 1827.50,797.5 1827.80,835.4 1828.10,869.3 1828.40,828.5 1828.70,765.5 1829.00,974.7 1829.30,804.6 1829.60,777.2 1829.90,883.6 1830.20,846.8 1830.50,831.0 1830.80,775.9 1831.10,840.8 1831.40,830.7 1831.70,907.6 1832.00,870.8 1832.30,840.0 1832.60,893.8 1832.90,779.9 1833.20,815.1 1833.50,836.7 1833.80,814.9 1834.10,850.7 1834.40,852.6 1834.70,1007.6 1835.00,783.9 1835.30,926.2 1835.60,746.4 1835.90,846.2 1836.20,947.3 1836.50,794.2 1836.80,1002.7 1837.10,764.1 1837.40,810.8 1837.70,775.3"/>
<polyline stroke="#0000ff" points="209.60,843.3 209.90,854.3 210.20,795.6 210.50,757.1 210.80,868.7 211.10,819.8 211.40,943.8 211.70,930.8 212.00,997.8 212.30,925.5 212.60,1065.3 212.90,871.7 213.20,878.0 213.50,916.5 213.80,927.9 214.10,804.5 214.40,946.9 214.70,999.5 215.00,830.3 215.30,1037.3 215.60,1052.8 215.90,1027.1 216.20,832.2 216.50,868.9 216.80,774.5 217.10,798.5 217.40,1076.8 217.70,978.2 218.00,983.1 218.30,916.3 218.60,765.5 218.90,860.3 219.20,841.3 219.50,804.3 219.80,924.4 220.10,869.5 220.40,873.6 220.70,825.3 221.00,916.7 221.30,837.5 221.60,831.6 221.90,898.0 222.20,1057.3 222.50,855.4 222.80,849.2 223.10,842.7 223.40,918.6 223.70,904.2 224.00,804.3 224.30,881.4 224.60,894.1 224.90,866.3 225.20,911.6 225.50,923.8 225.80,851.0 226.10,865.9 226.40,863.6 226.70,826.7 227.00,838.3 227.30,986.4 227.60,1070.2 227.90,946.7 228.20,875.8 228.50,865.6 228.80,802.7 229.10,865.8 229.40,839.4 229.70,844.7 230.00,818.2 230.30,819.4 230.60,856.2 230.90,844.8 231.20,830.9 231.50,907.8 231.80,899.8 232.10,837.4 232.40,833.9 232.70,804.2 233.00,907.9 233.30,851.2 233.60,883.8 233.90,868.2 234.20,823.1 234.50,828.4 234.80,892.3 235.10,886.8 235.40,926.9 235.70,974.2 236.00,1178.0 236.30,874.8 236.60,883.8 236.90,960.8 237.20,829.9 237.50,1000.4 237.80,871.5 238.10,798.9 238.40,844.2 238.70,844.6 239.00,804.3 239.30,896.0 239.60,877.2 239.90,784.2 240.20,872.0 240.50,899.2 240.80,842.8 241.10,848.3 241.40,871.6 241.70,821.4 242.00,825.8 242.30,959.9 242.60,854.7 242.90,879.1 243.20,1050.4 243.50,838.2 243.80,931.5 244.10,1061.0 244.40,1106.5 244.70,883.0 245.00,873.8 245.30,785.4 245.60,812.5 245.90,843.8 246.20,772.0 246.50,943.6 246.80,792.1 247.10,885.3 247.40,781.0 247.70,906.4 248.00,901.9 248.30,841.5 248.60,916.8 248.90,963.2 249.20,781.0 249.50,808.8 249.80,910.9 250.10,907.6 250.40,973.2 250.70,874.0 251.00,902.0 251.30,868.6 251.60,879.5 251.90,842.0 252.20,1039.1 252.50,902.0 252.80,967.7 253.10,815.4 253.40,837.7 253.70,941.5 254.00,898.9 254.30,867.5 254.60,859.7 254.90,938.2 255.20,831.8 255.50,845.6 255.80,1133.3 256.10,774.2 256.40,871.4 256.70,891.8 257.00,808.6 257.30,1013.0 257.60,895.4 257.90,895.5 258.20,887.2 258.50,853.8 258.80,875.4 259.10,936.7 259.40,825.9 259.70,899.7 260.00,951.6 260.30,836.4 260.60,844.4 260.90,1033.0 261.20,954.9 261.50,1075.9 261.80,831.9 262.10,865.6 262.40,953.9 262.70,865.8 263.00,927.6 263.30,865.4 263.60,827.3 263.90,1049.7 264.20,905.3 264.50,793.9 264.80,859.2 265.10,877.1 265.40,914.8 265.70,836.2 266.00,854.7 266.30,1038.7 266.60,869.1 266.90,827.3 267.20,892.8 267.50,803.9 267.80,893.9 268.10,840.6 268.40,872.2 268.70,969.4 269.00,931.1 269.30,892.1 269.60,829.9 269.90,826.4 270.20,846.3 270.50,892.1 270.80,852.4 271.10,839.4 271.40,860.8 271.70,844.1 272.00,853.3 272.30,1133.3 272.60,908.0 272.90,842.4 273.20,950.8 273.50,970.6 273.80,1037.1 274.10,881.4 274.40,1004.3 274.70,895.7 275.00,941.8 275.30,855.4 275.60,982.7 275.90,878.4 276.20,881.6 276.50,1067.7 276.80,959.3 277.10,922.1 277.40,1088.7 277.70,941.5 278.00,876.0 278.30,941.8 278.60,895.0 278.90,952.7 279.20,923.7 279.50,841.9 279.80,1003.3 280.10,912.8 280.40,869.3 280.70,945.2 281.00,953.3 281.30,894.8 281.60,980.1 281.90,989.0 282.20,940.1 282.50,866.2 282.80,831.4 283.10,977.2 283.40,874.2 283.70,876.1 284.00,904.4 284.30,859.7 284.60,1051.3 284.90,937.7 285.20,966.7 285.50,863.7 285.80,928.5 286.10,940.3 286.40,908.2 286.70,925.8 287.00,976.6 287.30,1053.3 287.60,908.7 287.90,894.8 288.20,822.8 288.50,903.5 288.80,968.1 289.10,888.4 289.40,1049.8 289.70,1051.3 290.00,908.0 290.30,915.3 290.60,921.5 290.90,1059.9 291.20,836.8 291.50,789.3 291.80,889.5 292.10,960.8 292.40,921.2 292.70,928.7 293.00,846.2 293.30,892.6 293.60,907.4 293.90,1004.5 294.20,1009.9 294.50,909.5 294.80,890.8 295.10,956.7 295.40,1084.7 295.70,929.9 296.00,884.3 296.30,915.2 296.60,897.7 296.90,913.6 297.20,1016.8 297.50,899.9 297.80,964.5 298.10,921.2 298.40,960.1 298.70,894.2 299.00,872.4 299.30,1040.9 299.60,939.0 299.90,851.0 300.20,997.5 300.50,951.6 300.80,947.4 301.10,1003.6 301.40,890.5 301.70,889.2 302.00,1076.1 302.30,903.0 302.60,1078.1 302.90,877.0 303.20,883.4 303.50,841.0 303.80,1038.3 304.10,1016.6 304.40,848.0 304.70,1010.8 305.00,860.9 305.30,850.2 305.60,896.4 305.90,908.2 306.20,914.7 306.50,986.6 306.80,999.4 307.10,918.2 307.40,876.3 307.70,936.2 308.00,886.0 308.30,1230.4 308.60,926.5 308.90,933.9 309.20,969.4 309.50,908.9 309.80,987.0 310.10,923.1 310.40,951.4 310.70,894.2 311.00,861.3 311.30,1058.3 311.60,908.2 311.90,999.6 312.20,882.6 312.50,981.1 312.80,941.6 313.10,1003.0 313.40,1033.9 313.70,887.8 314.00,955.1 314.30,927.8 314.60,925.5 314.90,884.0 315.20,946.0 315.50,902.5 315.80,890.7 316.10,888.9 316.40,906.0 316.70,939.6 317.00,901.5 317.30,927.0 317.60,990.1 317.90,940.9 318.20,899.2 318.50,925.2 318.80,990.9 319.10,933.4 319.40,875.9 319.70,921.8 320.00,950.8 320.30,946.6 320.60,871.8 320.90,881.3 321.20,1025.1 321.50,900.0 321.80,882.9 322.10,888.3 322.40,1031.9 322.70,942.7 323.00,998.2 323.30,938.7 323.60,949.1 323.90,913.1 324.20,1053.9 324.50,950.2 324.80,927.1 325.10,1282.9 325.40,944.0 325.70,897.9 326.00,1019.7 326.30,962.7 326.60,907.7 326.90,960.4 327.20,969.5 327.50,1060.2 327.80,1000.2 328.10,891.9 328.40,1041.4 328.70,1059.4 329.00,974.3 329.30,989.8 329.60,924.6 329.90,1004.0 330.20,987.8 330.50,890.2 330.80,895.7 331.10,1022.5 331.40,949.8 331.70,1016.9 332.00,917.0 332.30,847.3 332.60,876.8 332.90,992.0 333.20,898.9 333.50,1024.8 333.80,924.0 334.10,928.1 334.40,923.0 334.70,935.8 335.00,894.7 335.30,1005.9 335.60,1030.0 335.90,943.0 336.20,1064.8 336.50,1010.2 336.80,938.2 337.10,925.1 337.40,953.7 337.70,888.6 338.00,916.6 338.30,915.8 338.60,919.6 338.90,922.2 339.20,903.0 339.50,867.9 339.80,1048.5 340.10,1200.3 340.40,1017.9 340.70,947.1 341.00,935.2 341.30,929.8 341.60,1001.4 341.90,964.1 342.20,946.6 342.50,920.2 342.80,938.6 343.10,1022.9 343.40,953.7 343.70,977.8 344.00,863.4 344.30,874.4 344.60,920.7 344.90,1059.9 345.20,1048.0 345.50,1041.9 345.80,947.6 346.10,1030.6 346.40,1043.1 346.70,892.1 347.00,948.4 347.30,914.8 347.60,897.5 347.90,1028.0 348.20,893.1 348.50,961.4 348.80,1054.2 349.10,999.9 349.40,951.3 349.70,976.6 350.00,1038.7 350.30,921.9 350.60,926.2 350.90,892.4 351.20,1047.6 351.50,904.8 351.80,1029.9 352.10,1002.4 352.40,952.6 352.70,1036.3 353.00,1009.2 353.30,939.6 353.60,1027.0 353.90,939.9 354.20,940.9 354.50,929.4 354.80,858.1 355.10,985.4 355.40,912.2 355.70,896.4 356.00,960.3 356.30,968.2 356.60,1130.0 356.90,994.5 357.20,936.8 357.50,1061.8 357.80,941.7 358.10,1041.2 358.40,984.7 358.70,871.9 359.00,895.7 359.30,1076.1 359.60,912.5 359.90,865.3 360.20,875.5 360.50,897.0 360.80,922.0 361.10,931.0 361.40,875.7 361.70,947.9 362.00,1007.1 362.30,958.8 362.60,911.8 362.90,1000.3 363.20,1115.5 363.50,914.1 363.80,890.5 364.10,908.3 364.40,902.4 364.70,1063.6 365.00,922.0 365.30,863.0 365.60,913.0 365.90,983.9 366.20,861.5 366.50,891.9 366.80,849.4 367.10,953.1 367.40,1047.5 367.70,863.9 368.00,850.5 368.30,808.3 368.60,839.2 368.90,892.5 369.20,806.2 369.50,836.8 369.80,944.1 370.10,822.3 370.40,860.5 370.70,782.4 371.00,815.0 371.30,801.1 371.60,863.1 371.90,824.0 372.20,846.2 372.50,810.1 372.80,842.0 373.10,831.2 373.40,905.0 373.70,818.2 374.00,926.1 374.30,804.9 374.60,802.3 374.90,831.0 375.20,762.9 375.50,804.4 375.80,829.4 376.10,790.4 376.40,801.4 376.70,837.2 377.00,783.1 377.30,785.6 377.60,865.6 377.90,848.3 378.20,755.1 378.50,824.6 378.80,821.0 379.10,881.0 379.40,844.2 379.70,781.0 380.00,827.5 380.30,773.2 380.60,883.1 380.90,775.4 381.20,832.5 381.50,781.7 381.80,1086.4 382.10,769.0 382.40,781.6 382.70,782.2 383.00,772.1 383.30,758.3 383.60,811.2 383.90,845.2 384.20,835.5 384.50,931.2 384.80,856.0 385.10,852.6 385.40,838.3 385.70,742.6 386.00,835.5 386.30,1054.7 386.60,725.1 386.90,920.5 387.20,912.1 387.50,764.6 387.80,801.6 388.10,879.7 388.40,885.6 388.70,817.9 389.00,930.4 389.30,795.9 389.60,764.9 389.90,872.8 390.20,774.3 390.50,921.3 390.80,847.8 391.10,770.9 391.40,1022.6 391.70,910.2 392.00,805.7 392.30,889.6 392.60,763.9 392.90,804.5 393.20,905.1 393.50,805.6 393.80,872.3 394.10,850.0 394.40,873.5 394.70,867.7 395.00,813.5 395.30,839.6 395.60,784.4 395.90,821.2 396.20,866.9 396.50,870.7 396.80,844.2 397.10,911.5 397.40,834.4 397.70,739.7 398.00,778.5 398.30,845.6 398.60,896.0 398.90,721.6 399.20,753.2 399.50,904.9 399.80,842.5 400.10,846.3 400.40,771.3 400.70,935.2 401.00,854.9 401.30,863.9 401.60,826.7 401.90,779.2 402.20,1000.6 402.50,819.3 402.80,858.4 403.10,769.0 403.40,767.4 403.70,783.8 404.00,881.9 404.30,833.3 404.60,758.6 404.90,798.0 405.20,768.7 405.50,785.3 405.80,916.4 406.10,807.0 406.40,798.8 406.70,827.6 407.00,820.1 407.30,757.8 407.60,953.2 407.90,762.7 408.20,765.3 408.50,863.0 408.80,753.8 409.10,861.3 409.40,775.4 409.70,904.2 410.00,819.7 410.30,837.3 410.60,750.7 410.90,782.7 411.20,851.1 411.50,797.1 411.80,848.3 412.10,886.5 412.40,862.0 412.70,825.1 413.00,846.1 413.30,875.9 413.60,794.1 413.90,891.2 414.20,793.5 414.50,796.4 414.80,897.5 415.10,753.4 415.40,838.2 415.70,883.8 416.00,795.2 416.30,737.7 416.60,783.4 416.90,737.5 417.20,795.1 417.50,838.4 417.80,859.7 418.10,881.7 418.40,850.5 418.70,795.6 419.00,776.2 419.30,846.1 419.60,789.6 419.90,863.6 420.20,711.5 420.50,764.5 420.80,872.2 421.10,833.0 421.40,890.6 421.70,832.3 422.00,752.1 422.30,770.3 422.60,802.1 422.90,754.5 423.20,776.7 423.50,816.0 423.80,883.0 424.10,948.4 424.40,824.2 424.70,812.8 425.00,1003.0 425.30,764.4 425.60,843.1 425.90,784.0 426.20,797.1 426.50,833.2 426.80,834.7 427.10,829.4 427.40,838.0 427.70,842.7 428.00,840.7 428.30,781.7 428.60,784.8 428.90,894.9 429.20,808.6 429.50,884.1 429.80,796.6 430.10,818.1 430.40,854.0 430.70,821.6 431.00,832.0 431.30,761.9 431.60,812.9 431.90,861.7 432.20,903.3 432.50,832.6 432.80,842.5 433.10,893.9 433.40,815.2 433.70,901.0 434.00,806.3 434.30,934.8 434.60,819.6 434.90,886.1 435.20,805.5 435.50,845.5 435.80,849.8 436.10,800.3 436.40,820.6 436.70,806.9 437.00,972.7 437.30,987.4 437.60,901.2 437.90,894.2 438.20,962.5 438.50,768.2 438.80,769.7 439.10,860.9 439.40,836.1 439.70,784.7 440.00,841.4 440.30,789.4 440.60,838.5 440.90,850.6 441.20,859.1 441.50,792.0 441.80,985.7 442.10,774.0 442.40,825.8 442.70,766.3 443.00,741.4 443.30,772.6 443.60,839.1 443.90,802.0 444.20,840.1 444.50,876.3 444.80,834.2 445.10,837.4 445.40,785.4 445.70,796.3 446.00,846.2 446.30,794.6 446.60,827.7 446.90,841.6 447.20,891.2 447.50,744.5 447.80,739.5 448.10,821.3 448.40,812.6 448.70,785.8 449.00,822.2 449.30,1022.1 449.60,858.8 449.90,801.4 450.20,749.2 450.50,793.1 450.80,851.5 451.10,796.4 451.40,856.8 451.70,810.6 452.00,911.1 452.30,784.6 452.60,807.2 452.90,879.1 453.20,860.4 453.50,955.0 453.80,911.2 454.10,919.5 454.40,773.3 454.70,812.6 455.00,834.9 455.30,821.2 455.60,1034.6 455.90,828.2 456.20,857.4 456.50,946.5 456.80,787.9 457.10,764.3 457.40,789.4 457.70,864.0 458.00,922.2 458.30,921.6 458.60,852.5 458.90,790.7 459.20,829.7 459.50,821.9 459.80,912.4 460.10,791.6 460.40,900.3 460.70,841.3 461.00,904.5 461.30,809.5 461.60,829.4 461.90,803.6 462.20,861.4 462.50,856.3 462.80,863.2 463.10,780.4 463.40,836.3 463.70,778.8 464.00,833.6 464.30,774.7 464.60,907.0 464.90,844.6 465.20,861.4 465.50,797.7 465.80,811.9 466.10,856.4 466.40,963.0 466.70,795.1 467.00,805.2 467.30,917.5 467.60,718.5 467.90,952.0 468.20,894.0 468.50,848.8 468.80,874.0 469.10,898.5 469.40,864.5 469.70,807.2 470.00,794.3 470.30,753.3 470.60,804.9 470.90,808.0 471.20,806.9 471.50,846.4 471.80,932.8 472.10,800.9 472.40,838.2 472.70,824.3 473.00,855.3 473.30,810.3 473.60,727.2 473.90,922.5 474.20,848.5 474.50,994.8 474.80,870.8 475.10,774.0 475.40,808.7 475.70,774.8 476.00,869.9 476.30,765.1 476.60,868.5 476.90,872.5 477.20,953.6 477.50,892.1 477.80,776.2 478.10,765.0 478.40,810.8 478.70,771.7 479.00,849.8 479.30,810.1 479.60,807.1 479.90,786.3 480.20,824.5 480.50,806.7 480.80,789.6 481.10,790.7 481.40,869.2 481.70,801.6 482.00,950.8 482.30,844.1 482.60,780.9 482.90,780.3 483.20,858.1 483.50,801.7 483.80,834.8 484.10,860.7 484.40,797.9 484.70,853.6 485.00,814.9 485.30,830.9 485.60,900.8 485.90,896.1 486.20,810.3 486.50,819.2 486.80,868.3 487.10,787.1 487.40,802.7 487.70,818.5 488.00,941.3 488.30,871.5 488.60,903.1 488.90,1020.9 489.20,844.9 489.50,860.1 489.80,813.7 490.10,807.8 490.40,805.0 490.70,931.2 491.00,857.5 491.30,789.0 491.60,833.0 491.90,838.9 492.20,778.4 492.50,957.2 492.80,870.1 493.10,906.7 493.40,860.2 493.70,812.6 494.00,823.7 494.30,971.0 494.60,775.3 494.90,869.2 495.20,951.5 495.50,833.6 495.80,773.0 496.10,837.5 496.40,854.9 496.70,764.2 497.00,836.0 497.30,840.5 497.60,880.9 497.90,868.8 498.20,849.1 498.50,745.3 498.80,846.3 499.10,829.7 499.40,883.0 499.70,861.1 500.00,868.5 500.30,789.6 500.60,824.7 500.90,803.2 501.20,792.8 501.50,835.3 501.80,848.1 502.10,805.3 502.40,824.2 502.70,874.9 503.00,767.0 503.30,818.9 503.60,870.1 503.90,831.7 504.20,847.1 504.50,929.1 504.80,831.3 505.10,811.6 505.40,859.2 505.70,801.1 506.00,829.0 506.30,725.8 506.60,792.5 506.90,883.7 507.20,868.8 507.50,990.7 507.80,917.6 508.10,906.5 508.40,759.9 508.70,907.6 509.00,880.3 509.30,802.7 509.60,814.7 509.90,832.0 510.20,1010.6 510.50,818.3 510.80,750.0 511.10,795.6 511.40,762.9 511.70,817.2 512.00,959.4 512.30,878.6 512.60,781.8 512.90,855.6 513.20,787.5 513.50,781.6 513.80,804.8 514.10,793.8 514.40,977.8 514.70,934.4 515.00,810.2 515.30,799.3 515.60,740.6 515.90,994.9 516.20,789.3 516.50,816.5 516.80,1109.9 517.10,881.2 517.40,856.9 517.70,836.0 518.00,814.4 518.30,844.8 518.60,876.9 518.90,849.4 519.20,751.9 519.50,953.5 519.80,774.5 520.10,831.1 520.40,809.6 520.70,814.4 521.00,911.8 521.30,845.7 521.60,930.3 521.90,756.5 522.20,807.5 522.50,734.5 522.80,932.5 523.10,776.7 523.40,881.9 523.70,798.2 524.00,821.7 524.30,808.5 524.60,824.1 524.90,844.3 525.20,855.0 525.50,874.5 525.80,863.2 526.10,767.2 526.40,827.2 526.70,795.4 527.00,842.1 527.30,885.6 527.60,782.4 527.90,812.6 528.20,795.1 528.50,882.1 528.80,815.9 529.10,740.7 529.40,823.1 529.70,858.0 530.00,847.2 530.30,878.2 530.60,829.9 530.90,987.1 531.20,927.9 531.50,811.1 531.80,985.6 532.10,867.4 532.40,868.2 532.70,898.1 533.00,788.0 533.30,933.1 533.60,968.3 533.90,832.8 534.20,855.4 534.50,899.3 534.80,795.1 535.10,787.9 535.40,785.0 535.70,771.3 536.00,790.0 536.30,787.9 536.60,953.4 536.90,861.3 537.20,910.6 537.50,869.9 537.80,792.9 538.10,753.2 538.40,761.7 538.70,905.5 539.00,871.5 539.30,839.9 539.60,934.3 539.90,967.5 540.20,846.8 540.50,870.3 540.80,801.1 541.10,813.0 541.40,795.4 541.70,860.4 542.00,896.8 542.30,895.6 542.60,769.6 542.90,805.3 543.20,814.3 543.50,809.0 543.80,897.1 544.10,852.2 544.40,911.4 544.70,820.6 545.00,782.4 545.30,765.8 545.60,825.5 545.90,848.3 546.20,884.6 546.50,849.9 546.80,876.1 547.10,857.2 547.40,832.3 547.70,867.2 548.00,858.4 548.30,1019.6 548.60,828.0 548.90,973.7 549.20,855.6 549.50,852.0 549.80,781.5 550.10,879.5 550.40,803.9 550.70,813.9 551.00,798.4 551.30,825.3 551.60,806.2 551.90,849.3 552.20,889.2 552.50,916.7 552.80,898.8 553.10,954.9 553.40,972.9 553.70,809.2 554.00,733.8 554.30,877.9 554.60,858.6 554.90,792.5 555.20,788.9 555.50,787.0 555.80,771.5 556.10,791.8 556.40,867.4 556.70,1038.4 557.00,854.8 557.30,776.4 557.60,822.8 557.90,847.5 558.20,806.3 558.50,841.4 558.80,828.0 559.10,780.1 559.40,882.8 559.70,810.0 560.00,819.8 560.30,801.5 560.60,782.1 560.90,790.6 561.20,802.3 561.50,792.6 561.80,854.9 562.10,801.3 562.40,795.7 562.70,1011.6 563.00,852.1 563.30,800.2 563.60,759.5 563.90,781.3 564.20,798.9 564.50,746.7 564.80,906.7 565.10,817.6 565.40,772.2 565.70,823.2 566.00,869.1 566.30,913.6 566.60,841.2 566.90,895.0 567.20,958.0 567.50,834.3 567.80,799.3 568.10,872.4 568.40,824.9 568.70,799.1 569.00,830.8 569.30,839.5 569.60,941.5 569.90,848.1 570.20,956.2 570.50,808.4 570.80,801.9 571.10,800.0 571.40,883.7 571.70,841.9 572.00,965.2 572.30,891.9 572.60,881.7 572.90,808.1 573.20,868.5 573.50,920.5 573.80,793.0 574.10,822.3 574.40,877.6 574.70,786.3 575.00,775.0 575.30,856.9 575.60,898.0 575.90,859.6 576.20,849.9 576.50,790.9 576.80,857.1 577.10,902.6 577.40,804.7 577.70,878.9 578.00,859.0 578.30,752.6 578.60,794.4 578.90,833.6 579.20,758.4 579.50,784.8 579.80,799.5 580.10,846.9 580.40,902.9 580.70,845.8 581.00,799.7 581.30,809.5 581.60,779.0 581.90,828.0 582.20,820.7 582.50,890.0 582.80,917.6 583.10,927.3 583.40,846.4 583.70,871.5 584.00,787.8 584.30,760.9 584.60,847.5 584.90,799.4 585.20,854.0 585.50,828.9 585.80,950.4 586.10,919.3 586.40,771.1 586.70,874.5 587.00,777.2 587.30,805.3 587.60,831.6 587.90,895.0 588.20,835.5 588.50,792.9 588.80,783.4 589.10,857.5 589.40,846.3 589.70,819.3 590.00,824.1 590.30,839.6 590.60,822.4 590.90,923.3 591.20,963.5 591.50,824.0 591.80,736.2 592.10,803.7 592.40,872.6 592.70,784.6 593.00,860.3 593.30,796.2 593.60,791.4 593.90,825.1 594.20,783.7 594.50,795.3 594.80,814.3 595.10,755.4 595.40,851.2 595.70,867.3 596.00,842.2 596.30,878.6 596.60,791.5 596.90,832.2 597.20,797.4 597.50,853.9 597.80,876.3 598.10,784.5 598.40,856.6 598.70,811.6 599.00,823.6 599.30,872.7 599.60,818.4 599.90,915.9 600.20,861.8 600.50,873.2 600.80,853.6 601.10,789.8 601.40,797.5 601.70,776.7 602.00,1029.4 602.30,871.7 602.60,818.8 602.90,809.6 603.20,816.3 603.50,876.9 603.80,818.8 604.10,773.6 604.40,892.1 604.70,900.5 605.00,975.8 605.30,878.6 605.60,856.3 605.90,927.4 606.20,921.2 606.50,749.8 606.80,860.5 607.10,918.5 607.40,773.5 607.70,882.0 608.00,840.3 608.30,849.4 608.60,874.9 608.90,813.8 609.20,782.5 609.50,826.8 609.80,853.1 610.10,759.3 610.40,781.1 610.70,751.0 611.00,787.1 611.30,860.6 611.60,798.0 611.90,789.6 612.20,869.2 612.50,836.3 612.80,883.9 613.10,880.6 613.40,1115.5 613.70,850.2 614.00,893.4 614.30,862.8 614.60,797.5 614.90,846.1 615.20,949.3 615.50,827.3 615.80,833.7 616.10,803.7 616.40,833.2 616.70,847.4 617.00,833.0 617.30,796.4 617.60,757.3 617.90,737.4 618.20,851.6 618.50,893.5 618.80,860.0 619.10,803.0 619.40,940.3 619.70,862.6 620.00,840.2 620.30,866.0 620.60,766.4 620.90,759.9 621.20,867.8 621.50,921.6 621.80,864.4 622.10,839.8 622.40,1018.9 622.70,851.8 623.00,812.1 623.30,792.8 623.60,832.2 623.90,820.5 624.20,910.4 624.50,977.4 624.80,818.4 625.10,910.4 625.40,814.0 625.70,804.5 626.00,811.1 626.30,815.5 626.60,859.4 626.90,782.6 627.20,832.4 627.50,856.1 627.80,883.5 628.10,834.9 628.40,813.0 628.70,844.4 629.00,768.8 629.30,886.5 629.60,893.0 629.90,978.8 630.20,742.9 630.50,788.8 630.80,835.5 631.10,809.0 631.40,847.6 631.70,884.3 632.00,733.6 632.30,876.6 632.60,793.2 632.90,804.7 633.20,830.4 633.50,901.1 633.80,1011.3 634.10,913.7 634.40,867.3 634.70,893.0 635.00,910.1 635.30,791.7 635.60,923.7 635.90,850.0 636.20,847.6 636.50,825.3 636.80,933.1 637.10,898.1 637.40,796.2 637.70,776.4 638.00,1013.3 638.30,1434.7 638.60,801.6 638.90,840.0 639.20,952.6 639.50,787.7 639.80,845.8 640.10,820.7 640.40,819.5 640.70,768.7 641.00,789.7 641.30,869.1 641.60,886.6 641.90,799.0 642.20,801.6 642.50,857.5 642.80,840.6 643.10,813.3 643.40,843.2 643.70,821.9 644.00,807.2 644.30,744.6 644.60,779.9 644.90,800.7 645.20,925.0 645.50,826.3 645.80,750.0 646.10,890.8 646.40,774.5 646.70,860.2 647.00,850.0 647.30,906.9 647.60,847.4 647.90,823.3 648.20,866.9 648.50,892.6 648.80,879.5 649.10,790.8 649.40,790.9 649.70,853.0 650.00,802.0 650.30,907.3 650.60,787.6 650.90,784.2 651.20,832.5 651.50,836.6 651.80,797.8 652.10,913.1 652.40,834.2 652.70,1001.4 653.00,794.1 653.30,803.3 653.60,807.7 653.90,829.2 654.20,812.7 654.50,879.1 654.80,1019.7 655.10,884.1 655.40,879.1 655.70,902.9 656.00,868.1 656.30,857.0 656.60,808.2 656.90,830.1 657.20,814.0 657.50,801.3 657.80,783.3 658.10,868.1 658.40,826.2 658.70,831.2 659.00,863.0 659.30,875.4 659.60,926.5 659.90,825.6 660.20,762.1 660.50,748.3 660.80,791.7 661.10,833.2 661.40,866.2 661.70,908.4 662.00,780.0 662.30,884.0 662.60,780.4 662.90,867.4 663.20,798.0 663.50,809.3 663.80,797.0 664.10,800.8 664.40,841.3 664.70,806.5 665.00,825.0 665.30,780.5 665.60,960.1 665.90,984.0 666.20,818.5 666.50,895.1 666.80,934.7 667.10,900.2 667.40,960.1 667.70,859.0 668.00,790.1 668.30,852.8 668.60,871.1 668.90,760.3 669.20,871.1 669.50,749.7 669.80,824.8 670.10,870.8 670.40,882.3 670.70,821.2 671.00,799.3 671.30,872.3 671.60,922.9 671.90,810.8 672.20,848.8 672.50,817.9 672.80,816.5 673.10,994.4 673.40,873.4 673.70,974.3 674.00,838.2 674.30,803.1 674.60,834.9 674.90,801.1 675.20,849.6 675.50,817.8 675.80,809.9 676.10,815.1 676.40,819.7 676.70,806.0 677.00,878.7 677.30,805.1 677.60,802.8 677.90,835.2 678.20,717.4 678.50,920.4 678.80,745.8 679.10,903.1 679.40,826.8 679.70,976.6 680.00,840.0 680.30,836.4 680.60,891.6 680.90,753.1 681.20,888.2 681.50,807.0 681.80,905.5 682.10,930.7 682.40,824.5 682.70,805.7 683.00,815.7 683.30,800.6 683.60,891.0 683.90,888.7 684.20,963.4 684.50,845.1 684.80,861.6 685.10,906.9 685.40,840.9 685.70,951.6 686.00,734.2 686.30,828.5 686.60,924.1 686.90,865.9 687.20,869.5 687.50,828.8 687.80,809.0 688.10,752.2 688.40,823.4 688.70,856.8 689.00,807.6 689.30,869.5 689.60,836.3 689.90,880.5 690.20,863.9 690.50,834.6 690.80,781.6 691.10,898.0 691.40,755.1 691.70,873.4 692.00,869.5 692.30,799.4 692.60,834.0 692.90,924.3 693.20,779.6 693.50,786.2 693.80,762.2 694.10,859.5 694.40,846.0 694.70,785.1 695.00,749.7 695.30,815.2 695.60,852.4 695.90,978.0 696.20,878.8 696.50,826.3 696.80,819.5 697.10,753.3 697.40,850.0 697.70,866.6 698.00,801.6 698.30,1083.1 698.60,770.0 698.90,768.6 699.20,855.2 699.50,789.9 699.80,823.9 700.10,850.7 700.40,812.7 700.70,821.8 701.00,759.2 701.30,898.8 701.60,757.5 701.90,800.4 702.20,920.1 702.50,1013.0 702.80,734.2 703.10,791.5 703.40,806.5 703.70,727.5 704.00,743.8 704.30,703.0 704.60,872.6 704.90,741.3 705.20,812.8 705.50,746.3 705.80,763.7 706.10,736.4 706.40,793.8 706.70,921.3 707.00,702.7 707.30,825.8 707.60,858.8 707.90,877.7 708.20,720.0 708.50,728.8 708.80,998.0 709.10,744.9 709.40,782.3 709.70,838.9 710.00,724.8 710.30,744.3 710.60,793.7 710.90,726.2 711.20,814.4 711.50,815.4 711.80,716.5 712.10,848.6 712.40,757.1 712.70,903.0 713.00,769.9 713.30,763.3 713.60,756.2 713.90,840.6 714.20,713.5 714.50,814.0 714.80,716.8 715.10,758.6 715.40,750.0 715.70,740.5 716.00,758.6 716.30,700.8 716.60,853.6 716.90,728.3 717.20,747.8 717.50,766.7 717.80,843.8 718.10,852.3 718.40,743.0 718.70,749.3 719.00,762.0 719.30,867.0 719.60,732.5 719.90,719.7 720.20,753.8 720.50,784.1 720.80,708.1 721.10,676.0 721.40,753.5 721.70,790.6 722.00,751.8 722.30,760.7 722.60,997.8 722.90,749.2 723.20,859.5 723.50,725.6 723.80,798.2 724.10,739.0 724.40,680.9 724.70,878.1 725.00,1056.3 725.30,691.8 725.60,749.3 725.90,757.3 726.20,723.2 726.50,808.0 726.80,767.6 727.10,776.2 727.40,789.3 727.70,729.1 728.00,825.9 728.30,740.4 728.60,824.5 728.90,813.4 729.20,827.3 729.50,772.7 729.80,737.9 730.10,821.6 730.40,833.7 730.70,714.0 731.00,769.5 731.30,784.1 731.60,792.8 731.90,811.2 732.20,789.7 732.50,776.0 732.80,726.2 733.10,780.0 733.40,765.1 733.70,743.9 734.00,811.5 734.30,731.9 734.60,794.9 734.90,746.4 735.20,875.7 735.50,719.2 735.80,759.0 736.10,829.7 736.40,809.1 736.70,768.3 737.00,690.9 737.30,1020.2 737.60,726.8 737.90,817.6 738.20,766.4 738.50,726.1 738.80,813.9 739.10,726.4 739.40,714.1 739.70,750.6 740.00,743.9 740.30,799.5 740.60,727.5 740.90,699.2 741.20,742.0 741.50,746.9 741.80,662.1 742.10,863.5 742.40,802.2 742.70,745.3 743.00,961.0 743.30,781.0 743.60,765.3 743.90,694.5 744.20,824.4 744.50,737.1 744.80,786.0 745.10,741.9 745.40,801.6 745.70,757.4 746.00,725.3 746.30,799.2 746.60,701.4 746.90,842.9 747.20,780.1 747.50,780.3 747.80,847.2 748.10,740.3 748.40,811.0 748.70,736.8 749.00,784.9 749.30,868.4 749.60,749.7 749.90,1001.2 750.20,758.5 750.50,779.1 750.80,815.5 751.10,771.7 751.40,831.9 751.70,817.6 752.00,824.4 752.30,722.2 752.60,727.2 752.90,789.8 753.20,712.7 753.50,739.9 753.80,687.4 754.10,691.7 754.40,812.1 754.70,830.5 755.00,702.4 755.30,780.4 755.60,713.8 755.90,745.8 756.20,755.6 756.50,698.2 756.80,788.6 757.10,754.0 757.40,1058.5 757.70,788.5 758.00,816.6 758.30,747.3 758.60,790.5 758.90,772.0 759.20,801.6 759.50,784.5 759.80,852.4 760.10,767.1 760.40,742.5 760.70,915.4 761.00,756.1 761.30,854.0 761.60,786.5 761.90,790.5 762.20,839.6 762.50,733.6 762.80,740.1 763.10,796.5 763.40,931.8 763.70,744.6 764.00,753.2 764.30,856.5 764.60,751.3 764.90,917.0 765.20,818.8 765.50,734.1 765.80,1098.7 766.10,818.4 766.40,772.8 766.70,1001.1 767.00,755.6 767.30,750.4 767.60,776.8 767.90,781.9 768.20,769.6 768.50,709.0 768.80,817.6 769.10,735.5 769.40,918.9 769.70,794.7 770.00,732.6 770.30,774.4 770.60,794.5 770.90,907.3 771.20,749.3 771.50,745.5 771.80,762.1 772.10,857.5 772.40,767.2 772.70,719.0 773.00,698.7 773.30,789.7 773.60,730.5 773.90,748.9 774.20,824.7 774.50,871.2 774.80,761.0 775.10,752.5 775.40,816.3 775.70,872.5 776.00,744.3 776.30,705.4 776.60,755.7 776.90,914.4 777.20,831.8 777.50,942.9 777.80,762.4 778.10,766.4 778.40,725.6 778.70,793.6 779.00,831.0 779.30,753.5 779.60,784.8 779.90,842.4 780.20,753.9 780.50,794.0 780.80,732.5 781.10,783.1 781.40,755.6 781.70,816.7 782.00,803.0 782.30,831.5 782.60,856.4 782.90,796.5 783.20,855.7 783.50,798.8 783.80,700.8 784.10,702.3 784.40,868.8 784.70,720.9 785.00,847.0 785.30,758.1 785.60,796.5 785.90,880.4 786.20,830.0 786.50,747.8 786.80,755.4 787.10,873.6 787.40,876.1 787.70,1014.5 788.00,724.6 788.30,761.7 788.60,773.8 788.90,738.2 789.20,773.9 789.50,751.9 789.80,768.9 790.10,1045.1 790.40,757.1 790.70,774.0 791.00,800.0 791.30,731.6 791.60,718.4 791.90,733.1 792.20,1013.9 792.50,780.9 792.80,813.8 793.10,827.5 793.40,785.6 793.70,689.0 794.00,881.9 794.30,789.7 794.60,818.1 794.90,813.3 795.20,769.1 795.50,805.6 795.80,970.2 796.10,807.9 796.40,718.9 796.70,859.7 797.00,773.1 797.30,779.1 797.60,865.8 797.90,727.6 798.20,817.5 798.50,791.9 798.80,941.5 799.10,876.7 799.40,777.9 799.70,723.0 800.00,718.3 800.30,787.9 800.60,817.0 800.90,802.6 801.20,746.3 801.50,814.6 801.80,743.0 802.10,824.5 802.40,874.0 802.70,742.0 803.00,758.1 803.30,745.3 803.60,782.3 803.90,887.8 804.20,886.4 804.50,765.0 804.80,840.1 805.10,768.7 805.40,821.9 805.70,812.6 806.00,722.0 806.30,827.5 806.60,743.2 806.90,786.2 807.20,776.0 807.50,784.3 807.80,825.5 808.10,739.4 808.40,958.9 808.70,862.7 809.00,831.8 809.30,703.4 809.60,838.8 809.90,809.0 810.20,716.4 810.50,761.0 810.80,864.3 811.10,852.2 811.40,756.6 811.70,743.7 812.00,670.9 812.30,732.6 812.60,749.2 812.90,916.9 813.20,724.7 813.50,759.5 813.80,761.8 814.10,786.4 814.40,771.7 814.70,681.4 815.00,847.5 815.30,773.8 815.60,730.9 815.90,853.8 816.20,811.9 816.50,754.0 816.80,780.5 817.10,749.4 817.40,775.4 817.70,876.3 818.00,820.6 818.30,776.6 818.60,820.6 818.90,776.6 819.20,744.6 819.50,747.3 819.80,798.4 820.10,800.9 820.40,846.9 820.70,798.4 821.00,824.0 821.30,749.7 821.60,769.9 821.90,787.6 822.20,911.4 822.50,902.9 822.80,778.0 823.10,846.4 823.40,1086.4 823.70,909.9 824.00,706.1 824.30,845.7 824.60,757.6 824.90,716.5 825.20,880.9 825.50,815.1 825.80,951.0 826.10,773.1 826.40,837.9 826.70,815.0 827.00,765.6 827.30,804.5 827.60,844.2 827.90,699.6 828.20,864.3 828.50,794.4 828.80,864.3 829.10,892.2 829.40,771.7 829.70,852.2 830.00,695.1 830.30,795.7 830.60,804.3 830.90,832.6 831.20,807.7 831.50,825.4 831.80,818.8 832.10,825.1 832.40,819.4 832.70,787.8 833.00,778.9 833.30,835.2 833.60,845.1 833.90,816.3 834.20,916.7 834.50,812.3 834.80,749.1 835.10,746.8 835.40,860.7 835.70,715.2 836.00,768.6 836.30,833.3 836.60,784.0 836.90,751.9 837.20,790.8 837.50,759.8 837.80,697.2 838.10,735.2 838.40,1004.4 838.70,789.8 839.00,742.2 839.30,737.0 839.60,765.7 839.90,699.8 840.20,733.5 840.50,737.4 840.80,766.9 841.10,703.0 841.40,883.0 841.70,773.7 842.00,691.0 842.30,722.3 842.60,786.6 842.90,827.5 843.20,700.8 843.50,713.8 843.80,764.3 844.10,764.3 844.40,864.4 844.70,925.6 845.00,776.9 845.30,677.3 845.60,758.2 845.90,847.2 846.20,868.9 846.50,879.7 846.80,807.6 847.10,805.1 847.40,704.2 847.70,857.6 848.00,743.6 848.30,731.3 848.60,704.3 848.90,927.9 849.20,770.2 849.50,839.9 849.80,841.6 850.10,773.4 850.40,746.6 850.70,964.0 851.00,898.3 851.30,809.2 851.60,824.3 851.90,869.9 852.20,734.0 852.50,722.9 852.80,1108.8 853.10,842.5 853.40,827.4 853.70,766.8 854.00,791.9 854.30,735.6 854.60,887.9 854.90,807.7 855.20,805.4 855.50,722.7 855.80,756.0 856.10,756.6 856.40,764.4 856.70,923.4 857.00,794.1 857.30,846.9 857.60,919.8 857.90,847.8 858.20,699.0 858.50,837.3 858.80,878.1 859.10,953.3 859.40,877.3 859.70,718.5 860.00,797.6 860.30,827.9 860.60,767.8 860.90,807.6 861.20,771.0 861.50,787.3 861.80,818.1 862.10,693.7 862.40,752.9 862.70,1045.1 863.00,770.4 863.30,713.1 863.60,823.9 863.90,978.2 864.20,729.1 864.50,700.1 864.80,999.0 865.10,726.9 865.40,768.3 865.70,879.0 866.00,847.1 866.30,751.9 866.60,767.9 866.90,878.0 867.20,773.1 867.50,835.5 867.80,849.6 868.10,760.8 868.40,732.7 868.70,791.3 869.00,794.3 869.30,854.9 869.60,739.0 869.90,873.0 870.20,732.3 870.50,828.9 870.80,789.2 871.10,823.3 871.40,854.5 871.70,835.7 872.00,653.4 872.30,925.6 872.60,668.9 872.90,794.7 873.20,848.6 873.50,778.5 873.80,712.8 874.10,901.5 874.40,786.2 874.70,788.9 875.00,1035.1 875.30,841.9 875.60,817.1 875.90,749.4 876.20,749.8 876.50,876.2 876.80,753.9 877.10,835.8 877.40,672.7 877.70,746.0 878.00,679.6 878.30,692.4 878.60,756.3 878.90,989.5 879.20,786.0 879.50,746.1 879.80,761.6 880.10,930.8 880.40,786.2 880.70,726.4 881.00,710.3 881.30,702.6 881.60,762.8 881.90,786.5 882.20,806.9 882.50,948.6 882.80,836.8 883.10,804.1 883.40,767.6 883.70,715.3 884.00,777.4 884.30,699.2 884.60,841.4 884.90,758.8 885.20,769.4 885.50,763.5 885.80,747.1 886.10,779.4 886.40,803.1 886.70,823.0 887.00,720.3 887.30,752.1 887.60,766.5 887.90,849.9 888.20,902.2 888.50,731.8 888.80,1013.9 889.10,841.6 889.40,866.7 889.70,696.2 890.00,718.7 890.30,759.6 890.60,763.9 890.90,775.6 891.20,763.0 891.50,703.4 891.80,656.1 892.10,804.2 892.40,767.4 892.70,966.6 893.00,732.0 893.30,837.3 893.60,749.2 893.90,729.6 894.20,700.5 894.50,835.6 894.80,811.2 895.10,753.6 895.40,810.6 895.70,702.0 896.00,876.5 896.30,680.8 896.60,676.6 896.90,820.4 897.20,704.4 897.50,721.5 897.80,798.7 898.10,825.0 898.40,726.8 898.70,832.5 899.00,761.5 899.30,655.9 899.60,719.7 899.90,741.4 900.20,1015.2 900.50,672.8 900.80,675.4 901.10,843.3 901.40,779.6 901.70,786.5 902.00,745.3 902.30,840.0 902.60,832.1 902.90,725.8 903.20,672.6 903.50,762.0 903.80,803.2 904.10,819.5 904.40,700.2 904.70,895.7 905.00,827.8 905.30,757.0 905.60,759.5 905.90,740.1 906.20,699.7 906.50,777.3 906.80,851.8 907.10,736.9 907.40,705.2 907.70,728.4 908.00,700.0 908.30,728.9 908.60,737.4 908.90,751.9 909.20,679.1 909.50,826.6 909.80,710.6 910.10,788.1 910.40,803.1 910.70,765.2 911.00,745.1 911.30,727.5 911.60,838.3 911.90,682.3 912.20,761.6 912.50,873.2 912.80,756.1 913.10,661.0 913.40,654.8 913.70,755.0 914.00,868.2 914.30,735.7 914.60,856.1 914.90,659.3 915.20,807.8 915.50,783.7 915.80,833.2 916.10,722.9 916.40,732.7 916.70,695.0 917.00,763.2 917.30,855.8 917.60,837.0 917.90,791.7 918.20,679.2 918.50,788.0 918.80,725.8 919.10,646.4 919.40,709.2 919.70,853.8 920.00,753.5 920.30,744.0 920.60,711.7 920.90,720.5 921.20,753.6 921.50,697.7 921.80,671.9 922.10,768.2 922.40,732.6 922.70,746.2 923.00,783.6 923.30,807.3 923.60,785.7 923.90,790.9 924.20,703.4 924.50,677.5 924.80,817.5 925.10,762.2 925.40,874.1 925.70,675.6 926.00,711.5 926.30,714.6 926.60,665.4 926.90,749.7 927.20,750.6 927.50,770.5 927.80,690.8 928.10,747.3 928.40,742.9 928.70,660.2 929.00,625.7 929.30,754.6 929.60,674.5 929.90,665.9 930.20,803.4 930.50,667.8 930.80,635.4 931.10,683.2 931.40,859.1 931.70,677.9 932.00,838.4 932.30,679.5 932.60,750.9 932.90,665.0 933.20,677.8 933.50,791.2 933.80,730.4 934.10,668.0 934.40,787.4 934.70,776.9 935.00,713.1 935.30,811.6 935.60,634.2 935.90,771.3 936.20,668.4 936.50,658.3 936.80,791.7 937.10,811.9 937.40,635.3 937.70,766.3 938.00,727.2 938.30,644.4 938.60,646.4 938.90,677.2 939.20,680.2 939.50,631.0 939.80,779.8 940.10,693.8 940.40,731.6 940.70,658.6 941.00,659.8 941.30,645.4 941.60,794.8 941.90,726.0 942.20,667.5 942.50,608.4 942.80,755.9 943.10,820.3 943.40,666.6 943.70,639.9 944.00,705.0 944.30,631.7 944.60,611.9 944.90,733.5 945.20,610.1 945.50,757.4 945.80,635.7 946.10,676.1 946.40,907.8 946.70,670.9 947.00,805.4 947.30,677.5 947.60,793.8 947.90,619.7 948.20,652.3 948.50,639.2 948.80,738.8 949.10,680.4 949.40,663.2 949.70,754.4 950.00,625.1 950.30,680.0 950.60,664.4 950.90,757.7 951.20,735.1 951.50,635.3 951.80,622.5 952.10,628.6 952.40,675.3 952.70,816.6 953.00,627.2 953.30,713.1 953.60,671.0 953.90,753.1 954.20,783.9 954.50,715.7 954.80,655.6 955.10,779.7 955.40,739.1 955.70,621.6 956.00,788.8 956.30,630.8 956.60,779.7 956.90,782.9 957.20,637.5 957.50,794.2 957.80,666.5 958.10,612.4 958.40,621.4 958.70,665.0 959.00,831.3 959.30,675.1 959.60,748.5 959.90,697.7 960.20,646.8 960.50,723.2 960.80,632.4 961.10,640.1 961.40,701.4 961.70,606.5 962.00,622.5 962.30,621.5 962.60,621.2 962.90,648.9 963.20,617.6 963.50,752.7 963.80,613.2 964.10,622.4 964.40,747.3 964.70,813.0 965.00,715.5 965.30,756.7 965.60,904.3 965.90,593.4 966.20,746.9 966.50,776.6 966.80,601.7 967.10,590.7 967.40,625.9 967.70,616.0 968.00,744.9 968.30,680.9 968.60,618.6 968.90,750.3 969.20,692.3 969.50,637.4 969.80,620.2 970.10,785.8 970.40,609.9 970.70,743.5 971.00,644.5 971.30,600.4 971.60,681.8 971.90,630.9 972.20,596.7 972.50,652.9 972.80,722.9 973.10,614.4 973.40,858.8 973.70,660.6 974.00,625.3 974.30,699.8 974.60,716.9 974.90,623.5 975.20,636.0 975.50,607.4 975.80,708.5 976.10,820.9 976.40,618.0 976.70,697.8 977.00,606.9 977.30,597.7 977.60,771.4 977.90,754.2 978.20,619.3 978.50,614.1 978.80,595.0 979.10,709.8 979.40,810.9 979.70,634.8 980.00,689.3 980.30,608.5 980.60,623.3 980.90,621.4 981.20,596.3 981.50,589.7 981.80,748.1 982.10,659.9 982.40,575.8 982.70,602.3 983.00,605.7 983.30,628.0 983.60,643.2 983.90,838.7 984.20,624.4 984.50,602.6 984.80,593.3 985.10,602.2 985.40,742.0 985.70,629.9 986.00,799.8 986.30,618.6 986.60,614.5 986.90,631.8 987.20,615.0 987.50,628.3 987.80,900.5 988.10,657.8 988.40,568.8 988.70,570.6 989.00,733.7 989.30,625.1 989.60,666.5 989.90,584.4 990.20,657.6 990.50,708.9 990.80,589.3 991.10,700.1 991.40,557.2 991.70,669.9 992.00,601.1 992.30,678.7 992.60,587.7 992.90,720.2 993.20,550.4 993.50,579.9 993.80,685.3 994.10,758.4 994.40,575.4 994.70,753.4 995.00,691.5 995.30,723.9 995.60,791.5 995.90,589.4 996.20,685.0 996.50,535.7 996.80,570.7 997.10,620.2 997.40,611.0 997.70,597.5 998.00,608.5 998.30,675.5 998.60,726.4 998.90,681.5 999.20,798.1 999.50,580.1 999.80,574.7 1000.10,690.3 1000.40,818.2 1000.70,772.6 1001.00,700.4 1001.30,697.0 1001.60,572.2 1001.90,607.8 1002.20,549.8 1002.50,744.2 1002.80,682.3 1003.10,746.7 1003.40,579.4 1003.70,519.1 1004.00,797.0 1004.30,580.6 1004.60,526.8 1004.90,549.3 1005.20,527.2 1005.50,616.2 1005.80,534.6 1006.10,496.7 1006.40,520.4 1006.70,764.7 1007.00,536.3 1007.30,543.9 1007.60,753.5 1007.90,562.4 1008.20,723.7 1008.50,525.5 1008.80,549.1 1009.10,766.1 1009.40,666.0 1009.70,777.6 1010.00,784.2 1010.30,742.2 1010.60,548.8 1010.90,678.8 1011.20,787.2 1011.50,499.5 1011.80,793.1 1012.10,510.1 1012.40,705.2 1012.70,519.7 1013.00,487.7 1013.30,727.7 1013.60,462.6 1013.90,643.7 1014.20,666.6 1014.50,731.3 1014.80,441.7 1015.10,435.9 1015.40,682.7 1015.70,448.5 1016.00,465.1 1016.30,741.2 1016.60,444.4 1016.90,686.4 1017.20,442.0 1017.50,418.7 1017.80,405.8 1018.10,744.0 1018.40,727.4 1018.70,702.1 1019.00,360.0 1019.30,340.6 1019.60,763.7 1019.90,742.9 1020.20,729.6 1020.50,656.4 1020.80,344.0 1021.10,731.5 1021.20,597.6 1021.30,485.9 1021.50,430.1 1022.15,396.6 1022.25,262.7 1022.50,145.5 1023.00,72.9 1023.50,39.5 1024.00,72.9 1024.50,145.5 1024.75,262.7 1024.85,396.6 1025.50,430.1 1025.70,485.9 1025.80,597.6 1025.90,731.5 1026.20,775.1 1026.50,360.6 1026.80,693.5 1027.10,363.1 1027.40,397.1 1027.70,404.3 1028.00,656.0 1028.30,391.0 1028.60,722.3 1028.90,401.7 1029.20,419.4 1029.50,644.9 1029.80,443.2 1030.10,779.6 1030.40,455.8 1030.70,786.0 1031.00,770.9 1031.30,452.1 1031.60,458.5 1031.90,462.3 1032.20,700.9 1032.50,677.2 1032.80,496.6 1033.10,462.2 1033.40,782.5 1033.70,464.9 1034.00,714.8 1034.30,728.4 1034.60,490.2 1034.90,482.3 1035.20,517.1 1035.50,715.2 1035.80,687.7 1036.10,511.5 1036.40,700.1 1036.70,714.1 1037.00,546.4 1037.30,572.9 1037.60,640.1 1037.90,499.1 1038.20,773.3 1038.50,517.9 1038.80,541.3 1039.10,529.4 1039.40,539.8 1039.70,564.6 1040.00,520.3 1040.30,563.2 1040.60,662.5 1040.90,692.4 1041.20,783.5 1041.50,537.5 1041.80,639.9 1042.10,569.5 1042.40,577.1 1042.70,723.1 1043.00,670.5 1043.30,658.4 1043.60,645.3 1043.90,742.4 1044.20,699.6 1044.50,576.0 1044.80,872.5 1045.10,555.4 1045.40,740.4 1045.70,712.9 1046.00,705.9 1046.30,705.1 1046.60,590.8 1046.90,689.7 1047.20,543.1 1047.50,611.5 1047.80,549.2 1048.10,567.8 1048.40,714.8 1048.70,588.7 1049.00,833.2 1049.30,794.8 1049.60,788.1 1049.90,772.0 1050.20,586.5 1050.50,597.3 1050.80,574.2 1051.10,598.4 1051.40,628.8 1051.70,558.1 1052.00,705.3 1052.30,649.5 1052.60,600.4 1052.90,787.6 1053.20,853.0 1053.50,805.5 1053.80,574.4 1054.10,584.4 1054.40,651.6 1054.70,841.0 1055.00,601.7 1055.30,579.9 1055.60,697.1 1055.90,787.8 1056.20,585.3 1056.50,592.3 1056.80,749.9 1057.10,651.5 1057.40,589.9 1057.70,832.9 1058.00,625.4 1058.30,599.0 1058.60,799.3 1058.90,584.4 1059.20,581.1 1059.50,595.5 1059.80,599.2 1060.10,894.6 1060.40,728.1 1060.70,602.9 1061.00,689.6 1061.30,634.0 1061.60,713.9 1061.90,641.3 1062.20,793.4 1062.50,766.0 1062.80,613.0 1063.10,657.9 1063.40,607.9 1063.70,746.6 1064.00,770.0 1064.30,609.2 1064.60,791.5 1064.90,628.9 1065.20,622.8 1065.50,674.0 1065.80,591.5 1066.10,736.6 1066.40,802.2 1066.70,637.3 1067.00,618.5 1067.30,628.1 1067.60,775.2 1067.90,602.0 1068.20,662.8 1068.50,642.5 1068.80,629.7 1069.10,654.0 1069.40,638.9 1069.70,593.4 1070.00,778.2 1070.30,659.1 1070.60,729.4 1070.90,618.7 1071.20,679.6 1071.50,712.6 1071.80,753.7 1072.10,735.0 1072.40,634.0 1072.70,626.8 1073.00,625.0 1073.30,657.6 1073.60,667.6 1073.90,653.1 1074.20,760.9 1074.50,767.6 1074.80,610.1 1075.10,693.5 1075.40,647.0 1075.70,586.7 1076.00,628.9 1076.30,648.1 1076.60,609.8 1076.90,639.2 1077.20,657.6 1077.50,670.3 1077.80,602.4 1078.10,644.3 1078.40,761.7 1078.70,689.7 1079.00,713.6 1079.30,694.8 1079.60,701.9 1079.90,635.0 1080.20,736.3 1080.50,629.3 1080.80,719.3 1081.10,773.8 1081.40,880.1 1081.70,713.0 1082.00,749.9 1082.30,686.9 1082.60,840.7 1082.90,640.5 1083.20,671.0 1083.50,618.0 1083.80,703.8 1084.10,677.0 1084.40,606.8 1084.70,623.3 1085.00,664.8 1085.30,663.1 1085.60,783.7 1085.90,640.0 1086.20,804.0 1086.50,654.7 1086.80,640.1 1087.10,648.2 1087.40,690.7 1087.70,630.9 1088.00,663.7 1088.30,692.3 1088.60,716.8 1088.90,631.7 1089.20,717.5 1089.50,666.3 1089.80,770.3 1090.10,691.6 1090.40,633.9 1090.70,685.1 1091.00,613.6 1091.30,766.2 1091.60,708.1 1091.90,666.8 1092.20,687.2 1092.50,747.1 1092.80,690.9 1093.10,691.7 1093.40,618.1 1093.70,627.4 1094.00,800.4 1094.30,642.0 1094.60,661.6 1094.90,671.9 1095.20,648.0 1095.50,718.5 1095.80,812.2 1096.10,719.6 1096.40,639.6 1096.70,666.8 1097.00,754.8 1097.30,783.7 1097.60,638.5 1097.90,618.0 1098.20,648.3 1098.50,874.8 1098.80,675.7 1099.10,668.0 1099.40,774.5 1099.70,648.6 1100.00,605.9 1100.30,633.0 1100.60,685.5 1100.90,647.1 1101.20,669.9 1101.50,639.7 1101.80,915.7 1102.10,605.0 1102.40,652.5 1102.70,814.3 1103.00,751.0 1103.30,778.8 1103.60,711.2 1103.90,731.7 1104.20,693.5 1104.50,745.3 1104.80,664.9 1105.10,653.2 1105.40,636.1 1105.70,845.3 1106.00,643.6 1106.30,863.6 1106.60,669.9 1106.90,829.3 1107.20,643.7 1107.50,745.6 1107.80,787.7 1108.10,745.7 1108.40,773.6 1108.70,811.5 1109.00,629.0 1109.30,783.0 1109.60,654.0 1109.90,740.7 1110.20,671.1 1110.50,891.6 1110.80,687.0 1111.10,788.4 1111.40,668.8 1111.70,741.2 1112.00,773.9 1112.30,789.8 1112.60,690.8 1112.90,682.2 1113.20,737.3 1113.50,643.3 1113.80,720.2 1114.10,657.8 1114.40,709.9 1114.70,872.6 1115.00,695.5 1115.30,767.7 1115.60,798.9 1115.90,699.1 1116.20,699.1 1116.50,647.1 1116.80,631.0 1117.10,659.0 1117.40,688.8 1117.70,698.4 1118.00,686.7 1118.30,733.6 1118.60,715.0 1118.90,685.3 1119.20,741.8 1119.50,718.7 1119.80,700.1 1120.10,758.2 1120.40,755.8 1120.70,955.6 1121.00,722.0 1121.30,779.4 1121.60,690.6 1121.90,863.4 1122.20,794.2 1122.50,884.2 1122.80,834.3 1123.10,790.2 1123.40,654.6 1123.70,737.8 1124.00,750.9 1124.30,697.7 1124.60,715.5 1124.90,725.0 1125.20,779.1 1125.50,661.3 1125.80,746.8 1126.10,816.8 1126.40,706.0 1126.70,824.8 1127.00,963.7 1127.30,697.7 1127.60,765.1 1127.90,625.6 1128.20,681.7 1128.50,752.0 1128.80,681.9 1129.10,838.4 1129.40,935.8 1129.70,657.3 1130.00,799.8 1130.30,719.9 1130.60,702.5 1130.90,687.9 1131.20,725.1 1131.50,896.3 1131.80,870.6 1132.10,740.4 1132.40,770.0 1132.70,679.4 1133.00,727.1 1133.30,729.8 1133.60,760.2 1133.90,693.3 1134.20,718.0 1134.50,749.2 1134.80,799.2 1135.10,841.3 1135.40,719.0 1135.70,910.2 1136.00,719.9 1136.30,784.1 1136.60,819.7 1136.90,732.7 1137.20,726.7 1137.50,686.6 1137.80,715.0 1138.10,824.9 1138.40,745.9 1138.70,687.9 1139.00,800.4 1139.30,754.8 1139.60,808.5 1139.90,858.2 1140.20,809.3 1140.50,736.0 1140.80,747.3 1141.10,980.4 1141.40,882.8 1141.70,746.3 1142.00,762.6 1142.30,944.1 1142.60,722.1 1142.90,742.6 1143.20,751.6 1143.50,850.4 1143.80,905.1 1144.10,737.7 1144.40,809.0 1144.70,758.4 1145.00,665.1 1145.30,720.6 1145.60,690.0 1145.90,799.8 1146.20,655.8 1146.50,869.7 1146.80,716.7 1147.10,872.5 1147.40,772.1 1147.70,681.0 1148.00,751.7 1148.30,744.2 1148.60,794.1 1148.90,734.1 1149.20,707.7 1149.50,820.9 1149.80,725.2 1150.10,794.9 1150.40,803.5 1150.70,738.0 1151.00,684.6 1151.30,818.6 1151.60,770.1 1151.90,761.1 1152.20,854.8 1152.50,779.0 1152.80,777.4 1153.10,790.8 1153.40,793.2 1153.70,923.7 1154.00,745.4 1154.30,740.9 1154.60,751.1 1154.90,736.3 1155.20,779.7 1155.50,840.0 1155.80,856.1 1156.10,847.4 1156.40,782.4 1156.70,737.3 1157.00,769.3 1157.30,758.9 1157.60,841.1 1157.90,716.4 1158.20,989.3 1158.50,802.1 1158.80,741.9 1159.10,778.2 1159.40,759.8 1159.70,815.2 1160.00,730.4 1160.30,807.0 1160.60,792.7 1160.90,681.9 1161.20,806.9 1161.50,756.9 1161.80,740.5 1162.10,805.0 1162.40,856.4 1162.70,800.8 1163.00,818.0 1163.30,699.5 1163.60,755.9 1163.90,771.4 1164.20,822.0 1164.50,682.5 1164.80,835.7 1165.10,824.3 1165.40,814.6 1165.70,818.2 1166.00,744.8 1166.30,776.8 1166.60,872.6 1166.90,749.0 1167.20,845.9 1167.50,711.2 1167.80,834.5 1168.10,735.6 1168.40,751.3 1168.70,880.6 1169.00,813.7 1169.30,741.9 1169.60,896.9 1169.90,798.6 1170.20,921.2 1170.50,945.6 1170.80,817.1 1171.10,739.4 1171.40,796.0 1171.70,897.3 1172.00,990.5 1172.30,696.2 1172.60,714.4 1172.90,838.8 1173.20,806.9 1173.50,715.3 1173.80,706.4 1174.10,814.9 1174.40,755.8 1174.70,814.1 1175.00,896.0 1175.30,759.7 1175.60,776.9 1175.90,734.6 1176.20,915.3 1176.50,806.5 1176.80,834.5 1177.10,920.1 1177.40,903.6 1177.70,986.9 1178.00,826.9 1178.30,964.5 1178.60,710.3 1178.90,796.5 1179.20,832.9 1179.50,879.6 1179.80,812.8 1180.10,717.5 1180.40,873.7 1180.70,865.7 1181.00,755.2 1181.30,855.2 1181.60,720.2 1181.90,841.7 1182.20,810.8 1182.50,846.0 1182.80,732.7 1183.10,824.8 1183.40,975.4 1183.70,1005.0 1184.00,680.8 1184.30,757.2 1184.60,801.8 1184.90,797.8 1185.20,835.2 1185.50,760.6 1185.80,777.4 1186.10,756.6 1186.40,778.7 1186.70,858.3 1187.00,823.5 1187.30,721.2 1187.60,857.8 1187.90,790.0 1188.20,792.1 1188.50,788.9 1188.80,711.7 1189.10,736.6 1189.40,715.8 1189.70,705.7 1190.00,716.0 1190.30,751.3 1190.60,777.8 1190.90,733.7 1191.20,881.4 1191.50,873.7 1191.80,796.5 1192.10,876.3 1192.40,813.6 1192.70,759.9 1193.00,805.9 1193.30,893.4 1193.60,816.0 1193.90,878.4 1194.20,809.2 1194.50,939.5 1194.80,658.0 1195.10,903.0 1195.40,769.2 1195.70,865.4 1196.00,1049.6 1196.30,800.8 1196.60,790.0 1196.90,896.7 1197.20,809.9 1197.50,881.4 1197.80,704.6 1198.10,780.9 1198.40,761.9 1198.70,773.0 1199.00,803.4 1199.30,920.4 1199.60,794.5 1199.90,775.1 1200.20,758.4 1200.50,780.3 1200.80,830.3 1201.10,860.5 1201.40,683.8 1201.70,854.3 1202.00,763.2 1202.30,993.5 1202.60,757.5 1202.90,812.5 1203.20,800.4 1203.50,965.5 1203.80,843.7 1204.10,751.4 1204.40,867.8 1204.70,844.2 1205.00,799.6 1205.30,737.9 1205.60,925.1 1205.90,686.2 1206.20,829.6 1206.50,766.7 1206.80,894.8 1207.10,829.4 1207.40,735.7 1207.70,774.2 1208.00,743.8 1208.30,806.6 1208.60,811.1 1208.90,771.3 1209.20,762.7 1209.50,797.2 1209.80,738.0 1210.10,786.6 1210.40,803.1 1210.70,805.0 1211.00,787.9 1211.30,693.1 1211.60,895.9 1211.90,781.2 1212.20,779.6 1212.50,675.5 1212.80,764.8 1213.10,830.8 1213.40,949.2 1213.70,846.5 1214.00,758.5 1214.30,802.7 1214.60,867.9 1214.90,832.2 1215.20,839.7 1215.50,923.2 1215.80,830.9 1216.10,819.4 1216.40,662.5 1216.70,715.4 1217.00,720.6 1217.30,949.1 1217.60,789.9 1217.90,795.1 1218.20,748.5 1218.50,752.4 1218.80,795.4 1219.10,778.2 1219.40,844.5 1219.70,716.0 1220.00,823.1 1220.30,756.8 1220.60,837.8 1220.90,890.9 1221.20,702.1 1221.50,856.0 1221.80,849.8 1222.10,752.1 1222.40,724.2 1222.70,806.1 1223.00,761.6 1223.30,804.6 1223.60,703.5 1223.90,774.0 1224.20,748.3 1224.50,783.4 1224.80,736.7 1225.10,987.8 1225.40,812.9 1225.70,803.9 1226.00,806.9 1226.30,795.1 1226.60,799.7 1226.90,799.5 1227.20,781.2 1227.50,858.1 1227.80,913.3 1228.10,802.6 1228.40,816.9 1228.70,1005.5 1229.00,947.8 1229.30,733.2 1229.60,725.9 1229.90,957.4 1230.20,828.7 1230.50,899.8 1230.80,763.2 1231.10,836.2 1231.40,711.6 1231.70,734.3 1232.00,773.9 1232.30,744.2 1232.60,1002.7 1232.90,703.9 1233.20,822.9 1233.50,982.5 1233.80,778.7 1234.10,752.4 1234.40,731.2 1234.70,890.4 1235.00,895.8 1235.30,786.2 1235.60,870.9 1235.90,817.1 1236.20,807.1 1236.50,765.1 1236.80,846.9 1237.10,783.9 1237.40,828.8 1237.70,767.9 1238.00,704.3 1238.30,755.0 1238.60,791.7 1238.90,758.5 1239.20,794.5 1239.50,810.5 1239.80,736.2 1240.10,699.5 1240.40,892.8 1240.70,781.5 1241.00,687.7 1241.30,757.3 1241.60,824.4 1241.90,930.1 1242.20,795.8 1242.50,746.5 1242.80,709.5 1243.10,710.3 1243.40,762.7 1243.70,1022.8 1244.00,766.4 1244.30,827.5 1244.60,825.9 1244.90,706.7 1245.20,801.4 1245.50,753.4 1245.80,803.9 1246.10,919.4 1246.40,764.8 1246.70,711.0 1247.00,774.6 1247.30,769.1 1247.60,820.5 1247.90,762.7 1248.20,798.7 1248.50,814.3 1248.80,736.6 1249.10,811.0 1249.40,886.5 1249.70,778.9 1250.00,737.0 1250.30,794.4 1250.60,872.4 1250.90,774.1 1251.20,788.4 1251.50,791.4 1251.80,757.9 1252.10,824.8 1252.40,696.8 1252.70,776.8 1253.00,866.2 1253.30,785.1 1253.60,755.3 1253.90,792.1 1254.20,902.5 1254.50,849.7 1254.80,766.4 1255.10,866.1 1255.40,721.2 1255.70,710.8 1256.00,782.0 1256.30,826.3 1256.60,868.1 1256.90,815.2 1257.20,828.2 1257.50,745.3 1257.80,949.1 1258.10,828.9 1258.40,682.5 1258.70,758.2 1259.00,816.1 1259.30,761.2 1259.60,791.9 1259.90,798.5 1260.20,1013.9 1260.50,849.5 1260.80,789.3 1261.10,743.6 1261.40,761.6 1261.70,814.3 1262.00,783.3 1262.30,725.8 1262.60,756.7 1262.90,872.1 1263.20,868.4 1263.50,862.5 1263.80,757.6 1264.10,787.6 1264.40,884.0 1264.70,753.1 1265.00,984.0 1265.30,748.9 1265.60,790.3 1265.90,720.0 1266.20,769.1 1266.50,771.9 1266.80,837.9 1267.10,763.8 1267.40,717.3 1267.70,783.1 1268.00,763.7 1268.30,741.7 1268.60,784.4 1268.90,715.1 1269.20,1037.3 1269.50,725.1 1269.80,778.6 1270.10,736.1 1270.40,803.5 1270.70,787.0 1271.00,750.8 1271.30,840.2 1271.60,744.1 1271.90,832.3 1272.20,778.2 1272.50,775.3 1272.80,802.5 1273.10,747.3 1273.40,763.6 1273.70,746.4 1274.00,898.4 1274.30,680.6 1274.60,745.1 1274.90,744.0 1275.20,925.6 1275.50,877.1 1275.80,757.2 1276.10,740.7 1276.40,806.8 1276.70,813.7 1277.00,730.0 1277.30,767.4 1277.60,826.6 1277.90,748.3 1278.20,851.7 1278.50,843.6 1278.80,805.1 1279.10,750.8 1279.40,726.8 1279.70,746.3 1280.00,853.9 1280.30,870.7 1280.60,710.6 1280.90,745.9 1281.20,848.1 1281.50,856.2 1281.80,773.6 1282.10,876.1 1282.40,810.0 1282.70,868.1 1283.00,800.6 1283.30,793.7 1283.60,958.0 1283.90,807.3 1284.20,752.9 1284.50,712.1 1284.80,749.4 1285.10,732.5 1285.40,817.9 1285.70,773.3 1286.00,813.6 1286.30,825.6 1286.60,799.8 1286.90,762.7 1287.20,826.6 1287.50,794.9 1287.80,1032.9 1288.10,765.5 1288.40,783.4 1288.70,1018.1 1289.00,776.4 1289.30,797.9 1289.60,826.4 1289.90,843.6 1290.20,762.6 1290.50,754.6 1290.80,885.4 1291.10,701.6 1291.40,705.7 1291.70,917.0 1292.00,839.6 1292.30,769.8 1292.60,1029.5 1292.90,752.2 1293.20,728.5 1293.50,724.2 1293.80,975.9 1294.10,871.2 1294.40,754.8 1294.70,840.4 1295.00,861.9 1295.30,784.5 1295.60,736.9 1295.90,835.4 1296.20,823.8 1296.50,757.8 1296.80,769.3 1297.10,790.9 1297.40,974.3 1297.70,931.8 1298.00,744.1 1298.30,729.2 1298.60,747.3 1298.90,755.8 1299.20,824.6 1299.50,750.6 1299.80,726.9 1300.10,717.6 1300.40,942.8 1300.70,760.1 1301.00,1035.1 1301.30,878.8 1301.60,853.9 1301.90,728.4 1302.20,877.8 1302.50,858.0 1302.80,834.4 1303.10,794.9 1303.40,789.4 1303.70,830.4 1304.00,769.7 1304.30,673.3 1304.60,804.0 1304.90,766.7 1305.20,776.7 1305.50,749.4 1305.80,768.9 1306.10,715.7 1306.40,793.2 1306.70,797.9 1307.00,901.2 1307.30,712.4 1307.60,791.1 1307.90,744.4 1308.20,813.6 1308.50,779.0 1308.80,712.8 1309.10,738.2 1309.40,822.5 1309.70,832.0 1310.00,766.6 1310.30,748.1 1310.60,731.4 1310.90,787.4 1311.20,777.3 1311.50,810.8 1311.80,843.2 1312.10,700.5 1312.40,723.0 1312.70,681.4 1313.00,794.9 1313.30,702.6 1313.60,712.2 1313.90,724.9 1314.20,759.0 1314.50,769.6 1314.80,822.6 1315.10,949.3 1315.40,785.0 1315.70,740.7 1316.00,754.5 1316.30,1000.6 1316.60,755.4 1316.90,731.8 1317.20,841.6 1317.50,829.9 1317.80,981.9 1318.10,929.8 1318.40,868.7 1318.70,774.8 1319.00,829.1 1319.30,794.8 1319.60,841.5 1319.90,868.8 1320.20,872.7 1320.50,781.7 1320.80,954.8 1321.10,706.5 1321.40,856.0 1321.70,780.4 1322.00,712.3 1322.30,1002.0 1322.60,738.1 1322.90,775.8 1323.20,838.1 1323.50,738.6 1323.80,761.6 1324.10,773.2 1324.40,880.6 1324.70,814.6 1325.00,770.5 1325.30,833.3 1325.60,799.7 1325.90,801.5 1326.20,709.9 1326.50,818.3 1326.80,773.0 1327.10,804.8 1327.40,789.7 1327.70,846.3 1328.00,824.2 1328.30,767.0 1328.60,738.1 1328.90,744.4 1329.20,692.0 1329.50,774.3 1329.80,740.4 1330.10,736.5 1330.40,755.3 1330.70,791.7 1331.00,756.1 1331.30,806.0 1331.60,779.7 1331.90,930.0 1332.20,734.8 1332.50,727.2 1332.80,1044.0 1333.10,831.8 1333.40,802.7 1333.70,775.2 1334.00,671.6 1334.30,846.2 1334.60,914.6 1334.90,821.4 1335.20,790.1 1335.50,910.1 1335.80,750.5 1336.10,775.4 1336.40,721.5 1336.70,835.5 1337.00,783.3 1337.30,740.8 1337.60,821.9 1337.90,995.8 1338.20,777.9 1338.50,762.8 1338.80,770.9 1339.10,811.9 1339.40,767.2 1339.70,736.9 1340.00,836.0 1340.30,802.2 1340.60,805.7 1340.90,950.4 1341.20,882.7 1341.50,706.8 1341.80,772.9 1342.10,745.6 1342.40,837.0 1342.70,881.8 1343.00,795.3 1343.30,868.2 1343.60,722.4 1343.90,750.4 1344.20,1071.9 1344.50,806.7 1344.80,779.3 1345.10,809.9 1345.40,832.7 1345.70,734.0 1346.00,701.9 1346.30,909.6 1346.60,752.7 1346.90,739.9 1347.20,742.0 1347.50,748.0 1347.80,784.0 1348.10,740.3 1348.40,756.2 1348.70,777.6 1349.00,800.3 1349.30,764.4 1349.60,805.3 1349.90,731.1 1350.20,768.0 1350.50,755.4 1350.80,775.0 1351.10,869.3 1351.40,791.7 1351.70,757.3 1352.00,760.8 1352.30,915.2 1352.60,755.5 1352.90,781.3 1353.20,1036.2 1353.50,776.3 1353.80,925.2 1354.10,827.5 1354.40,952.0 1354.70,848.5 1355.00,775.9 1355.30,738.2 1355.60,795.5 1355.90,702.5 1356.20,843.3 1356.50,800.6 1356.80,851.3 1357.10,751.2 1357.40,897.0 1357.70,754.2 1358.00,826.0 1358.30,745.7 1358.60,901.7 1358.90,911.3 1359.20,1018.4 1359.50,697.8 1359.80,711.5 1360.10,782.6 1360.40,755.8 1360.70,798.6 1361.00,853.3 1361.30,746.4 1361.60,807.5 1361.90,761.6 1362.20,825.7 1362.50,791.9 1362.80,819.6 1363.10,749.0 1363.40,823.9 1363.70,861.1 1364.00,789.6 1364.30,862.6 1364.60,764.5 1364.90,923.4 1365.20,970.3 1365.50,831.4 1365.80,766.8 1366.10,875.2 1366.40,743.6 1366.70,722.8 1367.00,813.8 1367.30,836.2 1367.60,746.8 1367.90,829.0 1368.20,803.0 1368.50,758.8 1368.80,776.8 1369.10,1109.9 1369.40,775.7 1369.70,765.9 1370.00,789.6 1370.30,760.1 1370.60,839.3 1370.90,774.7 1371.20,974.4 1371.50,749.1 1371.80,754.6 1372.10,763.3 1372.40,784.2 1372.70,798.7 1373.00,796.7 1373.30,748.7 1373.60,797.8 1373.90,845.4 1374.20,755.0 1374.50,834.4 1374.80,777.6 1375.10,935.1 1375.40,765.5 1375.70,855.4 1376.00,839.9 1376.30,815.2 1376.60,737.6 1376.90,754.8 1377.20,792.2 1377.50,787.4 1377.80,738.0 1378.10,864.5 1378.40,798.2 1378.70,799.4 1379.00,838.9 1379.30,752.6 1379.60,852.8 1379.90,815.5 1380.20,821.5 1380.50,799.0 1380.80,778.0 1381.10,874.0 1381.40,799.3 1381.70,734.6 1382.00,803.2 1382.30,825.6 1382.60,822.0 1382.90,762.8 1383.20,803.3 1383.50,771.3 1383.80,808.1 1384.10,798.8 1384.40,775.8 1384.70,956.7 1385.00,759.5 1385.30,839.2 1385.60,818.3 1385.90,919.6 1386.20,916.1 1386.50,797.4 1386.80,932.7 1387.10,760.6 1387.40,765.5 1387.70,777.3 1388.00,771.5 1388.30,772.9 1388.60,805.5 1388.90,805.0 1389.20,739.5 1389.50,739.5 1389.80,781.1 1390.10,733.2 1390.40,722.7 1390.70,910.1 1391.00,773.4 1391.30,766.2 1391.60,817.8 1391.90,876.6 1392.20,791.0 1392.50,936.2 1392.80,831.0 1393.10,875.0 1393.40,773.1 1393.70,855.4 1394.00,787.4 1394.30,795.7 1394.60,898.8 1394.90,852.3 1395.20,796.7 1395.50,783.5 1395.80,777.6 1396.10,811.7 1396.40,851.1 1396.70,804.8 1397.00,800.6 1397.30,841.1 1397.60,806.3 1397.90,864.7 1398.20,980.2 1398.50,914.5 1398.80,826.5 1399.10,762.7 1399.40,917.7 1399.70,811.4 1400.00,764.7 1400.30,834.6 1400.60,751.8 1400.90,796.7 1401.20,746.3 1401.50,822.3 1401.80,783.1 1402.10,782.0 1402.40,811.4 1402.70,841.1 1403.00,831.7 1403.30,826.7 1403.60,808.1 1403.90,819.1 1404.20,857.5 1404.50,767.0 1404.80,784.6 1405.10,801.7 1405.40,766.0 1405.70,745.9 1406.00,807.3 1406.30,832.7 1406.60,780.5 1406.90,834.6 1407.20,769.0 1407.50,773.3 1407.80,837.7 1408.10,792.0 1408.40,881.8 1408.70,760.7 1409.00,852.7 1409.30,778.1 1409.60,792.6 1409.90,804.9 1410.20,749.7 1410.50,793.9 1410.80,830.5 1411.10,781.7 1411.40,895.3 1411.70,903.7 1412.00,781.7 1412.30,848.4 1412.60,823.1 1412.90,798.7 1413.20,909.7 1413.50,969.6 1413.80,881.3 1414.10,868.6 1414.40,799.4 1414.70,855.6 1415.00,791.9 1415.30,1022.7 1415.60,866.7 1415.90,871.1 1416.20,867.3 1416.50,850.9 1416.80,765.2 1417.10,823.1 1417.40,950.4 1417.70,826.2 1418.00,777.8 1418.30,763.2 1418.60,788.6 1418.90,804.1 1419.20,709.6 1419.50,825.1 1419.80,1011.6 1420.10,762.5 1420.40,824.6 1420.70,812.7 1421.00,788.4 1421.30,816.7 1421.60,1088.7 1421.90,872.2 1422.20,809.4 1422.50,872.9 1422.80,793.8 1423.10,867.7 1423.40,824.1 1423.70,764.8 1424.00,765.2 1424.30,831.4 1424.60,890.6 1424.90,930.1 1425.20,824.9 1425.50,832.1 1425.80,792.3 1426.10,862.5 1426.40,900.5 1426.70,1001.4 1427.00,795.6 1427.30,881.0 1427.60,903.8 1427.90,988.7 1428.20,829.7 1428.50,946.6 1428.80,773.2 1429.10,837.2 1429.40,884.6 1429.70,785.2 1430.00,801.7 1430.30,842.8 1430.60,762.2 1430.90,793.1 1431.20,784.8 1431.50,790.6 1431.80,925.4 1432.10,842.7 1432.40,794.4 1432.70,1077.5 1433.00,835.5 1433.30,802.6 1433.60,822.2 1433.90,827.5 1434.20,823.2 1434.50,827.4 1434.80,829.0 1435.10,911.8 1435.40,898.3 1435.70,1034.9 1436.00,771.7 1436.30,879.1 1436.60,743.6 1436.90,808.9 1437.20,806.6 1437.50,797.5 1437.80,910.6 1438.10,752.8 1438.40,803.9 1438.70,813.6 1439.00,872.5 1439.30,840.3 1439.60,779.7 1439.90,1074.2 1440.20,844.1 1440.50,800.1 1440.80,830.5 1441.10,899.8 1441.40,828.4 1441.70,764.9 1442.00,780.2 1442.30,936.9 1442.60,806.9 1442.90,1030.0 1443.20,918.5 1443.50,960.9 1443.80,813.1 1444.10,914.4 1444.40,838.9 1444.70,859.7 1445.00,900.6 1445.30,820.6 1445.60,1018.1 1445.90,873.0 1446.20,779.3 1446.50,787.4 1446.80,816.3 1447.10,1026.4 1447.40,809.9 1447.70,976.0 1448.00,788.3 1448.30,768.6 1448.60,809.1 1448.90,780.9 1449.20,971.1 1449.50,882.7 1449.80,812.1 1450.10,836.1 1450.40,857.8 1450.70,757.2 1451.00,801.2 1451.30,828.6 1451.60,838.5 1451.90,837.3 1452.20,787.9 1452.50,925.4 1452.80,820.0 1453.10,796.4 1453.40,862.8 1453.70,800.7 1454.00,835.9 1454.30,959.9 1454.60,774.7 1454.90,829.4 1455.20,972.5 1455.50,924.3 1455.80,848.2 1456.10,799.9 1456.40,903.6 1456.70,825.3 1457.00,731.1 1457.30,940.1 1457.60,844.4 1457.90,829.1 1458.20,1109.9 1458.50,878.2 1458.80,984.2 1459.10,791.7 1459.40,825.6 1459.70,788.3 1460.00,854.2 1460.30,807.8 1460.60,975.2 1460.90,800.8 1461.20,972.7 1461.50,782.0 1461.80,845.3 1462.10,801.6 1462.40,778.0 1462.70,764.2 1463.00,1008.5 1463.30,815.4 1463.60,857.6 1463.90,904.8 1464.20,781.4 1464.50,762.3 1464.80,770.0 1465.10,755.6 1465.40,903.2 1465.70,931.7 1466.00,808.4 1466.30,837.7 1466.60,835.6 1466.90,1003.6 1467.20,909.6 1467.50,819.6 1467.80,905.2 1468.10,779.6 1468.40,902.7 1468.70,849.4 1469.00,819.2 1469.30,913.5 1469.60,848.5 1469.90,900.2 1470.20,832.8 1470.50,873.9 1470.80,915.7 1471.10,947.9 1471.40,811.6 1471.70,919.8 1472.00,788.7 1472.30,837.9 1472.60,771.8 1472.90,862.3 1473.20,896.0 1473.50,893.1 1473.80,877.3 1474.10,816.9 1474.40,818.1 1474.70,806.0 1475.00,894.1 1475.30,799.5 1475.60,773.0 1475.90,805.3 1476.20,834.1 1476.50,838.1 1476.80,897.3 1477.10,1022.9 1477.40,905.1 1477.70,877.3 1478.00,799.9 1478.30,830.4 1478.60,804.0 1478.90,816.8 1479.20,817.5 1479.50,846.7 1479.80,839.4 1480.10,1033.6 1480.40,861.6 1480.70,887.9 1481.00,784.6 1481.30,913.3 1481.60,769.6 1481.90,805.9 1482.20,834.4 1482.50,848.3 1482.80,835.1 1483.10,840.3 1483.40,779.4 1483.70,812.1 1484.00,844.5 1484.30,761.9 1484.60,780.6 1484.90,878.8 1485.20,811.9 1485.50,841.2 1485.80,742.3 1486.10,835.3 1486.40,812.1 1486.70,807.8 1487.00,817.6 1487.30,814.5 1487.60,890.1 1487.90,875.1 1488.20,879.5 1488.50,828.4 1488.80,894.3 1489.10,842.9 1489.40,840.8 1489.70,801.1 1490.00,887.0 1490.30,860.0 1490.60,963.8 1490.90,781.0 1491.20,807.5 1491.50,845.5 1491.80,1002.5 1492.10,1031.0 1492.40,849.8 1492.70,865.2 1493.00,883.9 1493.30,897.1 1493.60,810.1 1493.90,884.5 1494.20,880.3 1494.50,777.9 1494.80,800.9 1495.10,827.9 1495.40,995.9 1495.70,885.0 1496.00,853.8 1496.30,861.1 1496.60,890.5 1496.90,786.4 1497.20,874.3 1497.50,819.8 1497.80,914.7 1498.10,850.2 1498.40,841.5 1498.70,898.7 1499.00,874.3 1499.30,817.2 1499.60,936.8 1499.90,780.9 1500.20,820.4 1500.50,765.5 1500.80,796.8 1501.10,927.4 1501.40,907.7 1501.70,808.1 1502.00,800.2 1502.30,872.4 1502.60,806.0 1502.90,909.5 1503.20,856.3 1503.50,838.0 1503.80,855.2 1504.10,779.2 1504.40,964.4 1504.70,848.0 1505.00,1063.0 1505.30,820.3 1505.60,842.2 1505.90,792.1 1506.20,838.0 1506.50,949.3 1506.80,896.5 1507.10,765.4 1507.40,860.9 1507.70,963.8 1508.00,777.8 1508.30,840.6 1508.60,795.6 1508.90,934.4 1509.20,852.6 1509.50,758.1 1509.80,808.4 1510.10,800.6 1510.40,923.1 1510.70,842.8 1511.00,832.3 1511.30,786.3 1511.60,817.0 1511.90,1011.3 1512.20,845.1 1512.50,915.6 1512.80,892.7 1513.10,830.2 1513.40,856.8 1513.70,941.5 1514.00,852.5 1514.30,847.4 1514.60,852.3 1514.90,757.9 1515.20,804.2 1515.50,921.7 1515.80,800.8 1516.10,907.1 1516.40,826.9 1516.70,869.8 1517.00,786.1 1517.30,830.5 1517.60,975.0 1517.90,785.8 1518.20,847.8 1518.50,851.6 1518.80,888.5 1519.10,810.1 1519.40,827.5 1519.70,756.8 1520.00,935.6 1520.30,881.7 1520.60,922.6 1520.90,901.0 1521.20,823.5 1521.50,818.5 1521.80,848.9 1522.10,781.1 1522.40,794.0 1522.70,793.9 1523.00,828.9 1523.30,786.8 1523.60,850.6 1523.90,887.8 1524.20,882.8 1524.50,829.8 1524.80,857.5 1525.10,948.3 1525.40,858.1 1525.70,767.4 1526.00,819.3 1526.30,873.5 1526.60,814.8 1526.90,774.0 1527.20,994.1 1527.50,860.2 1527.80,814.6 1528.10,913.5 1528.40,892.8 1528.70,824.8 1529.00,819.7 1529.30,938.5 1529.60,769.4 1529.90,813.1 1530.20,844.5 1530.50,854.3 1530.80,1041.8 1531.10,815.6 1531.40,805.5 1531.70,834.7 1532.00,792.0 1532.30,788.9 1532.60,853.8 1532.90,1026.5 1533.20,767.3 1533.50,824.9 1533.80,805.8 1534.10,885.0 1534.40,839.6 1534.70,891.0 1535.00,906.7 1535.30,875.9 1535.60,852.8 1535.90,762.3 1536.20,927.5 1536.50,942.0 1536.80,900.8 1537.10,765.4 1537.40,801.0 1537.70,934.0 1538.00,798.2 1538.30,786.2 1538.60,833.6 1538.90,854.7 1539.20,886.5 1539.50,871.0 1539.80,860.9 1540.10,800.5 1540.40,765.5 1540.70,946.7 1541.00,796.7 1541.30,751.2 1541.60,864.2 1541.90,812.4 1542.20,821.2 1542.50,789.4 1542.80,775.6 1543.10,857.0 1543.40,780.4 1543.70,802.0 1544.00,839.7 1544.30,869.0 1544.60,786.1 1544.90,906.3 1545.20,824.4 1545.50,793.4 1545.80,906.9 1546.10,831.6 1546.40,888.7 1546.70,882.0 1547.00,874.8 1547.30,813.3 1547.60,822.5 1547.90,841.3 1548.20,779.2 1548.50,906.9 1548.80,767.8 1549.10,916.1 1549.40,879.0 1549.70,826.8 1550.00,747.2 1550.30,772.4 1550.60,846.0 1550.90,777.3 1551.20,779.5 1551.50,831.2 1551.80,813.0 1552.10,812.0 1552.40,833.8 1552.70,779.0 1553.00,802.2 1553.30,833.6 1553.60,876.5 1553.90,808.1 1554.20,796.9 1554.50,907.9 1554.80,784.9 1555.10,795.8 1555.40,883.7 1555.70,914.1 1556.00,1002.4 1556.30,878.4 1556.60,741.7 1556.90,763.0 1557.20,837.3 1557.50,791.6 1557.80,902.3 1558.10,858.4 1558.40,835.8 1558.70,966.2 1559.00,771.3 1559.30,829.4 1559.60,827.5 1559.90,906.9 1560.20,808.3 1560.50,932.1 1560.80,998.2 1561.10,887.0 1561.40,1007.5 1561.70,824.8 1562.00,1012.0 1562.30,788.9 1562.60,832.8 1562.90,810.1 1563.20,911.0 1563.50,872.5 1563.80,844.5 1564.10,838.7 1564.40,868.2 1564.70,983.0 1565.00,729.0 1565.30,854.0 1565.60,794.2 1565.90,781.7 1566.20,889.3 1566.50,821.7 1566.80,951.8 1567.10,817.8 1567.40,795.9 1567.70,887.0 1568.00,887.4 1568.30,864.4 1568.60,769.8 1568.90,825.5 1569.20,744.5 1569.50,797.9 1569.80,844.7 1570.10,858.3 1570.40,784.8 1570.70,845.0 1571.00,837.7 1571.30,732.7 1571.60,779.1 1571.90,754.1 1572.20,950.8 1572.50,774.0 1572.80,816.3 1573.10,839.3 1573.40,878.4 1573.70,748.9 1574.00,845.8 1574.30,832.1 1574.60,774.5 1574.90,806.8 1575.20,916.2 1575.50,774.7 1575.80,839.2 1576.10,821.6 1576.40,815.4 1576.70,770.7 1577.00,867.3 1577.30,923.4 1577.60,802.2 1577.90,895.5 1578.20,803.1 1578.50,759.8 1578.80,811.5 1579.10,826.3 1579.40,741.7 1579.70,768.8 1580.00,747.9 1580.30,901.3 1580.60,848.8 1580.90,933.7 1581.20,843.5 1581.50,841.9 1581.80,793.7 1582.10,840.3 1582.40,849.3 1582.70,776.8 1583.00,875.3 1583.30,717.6 1583.60,804.6 1583.90,833.6 1584.20,910.7 1584.50,806.6 1584.80,834.6 1585.10,1022.8 1585.40,813.6 1585.70,797.5 1586.00,745.8 1586.30,876.1 1586.60,769.8 1586.90,874.4 1587.20,799.4 1587.50,813.9 1587.80,793.5 1588.10,714.5 1588.40,789.0 1588.70,828.2 1589.00,826.3 1589.30,849.8 1589.60,811.2 1589.90,836.8 1590.20,771.5 1590.50,832.8 1590.80,754.1 1591.10,895.0 1591.40,772.3 1591.70,784.7 1592.00,963.3 1592.30,715.6 1592.60,775.0 1592.90,990.8 1593.20,764.3 1593.50,984.9 1593.80,797.7 1594.10,841.6 1594.40,754.4 1594.70,843.4 1595.00,865.6 1595.30,924.6 1595.60,840.8 1595.90,767.5 1596.20,779.7 1596.50,895.6 1596.80,864.6 1597.10,843.7 1597.40,959.3 1597.70,788.9 1598.00,763.8 1598.30,968.5 1598.60,776.0 1598.90,908.7 1599.20,804.6 1599.50,938.1 1599.80,884.6 1600.10,849.7 1600.40,723.5 1600.70,782.2 1601.00,800.2 1601.30,757.2 1601.60,815.0 1601.90,850.2 1602.20,895.1 1602.50,772.2 1602.80,796.3 1603.10,831.9 1603.40,751.0 1603.70,766.1 1604.00,772.7 1604.30,798.3 1604.60,804.3 1604.90,849.4 1605.20,811.1 1605.50,741.2 1605.80,903.7 1606.10,773.5 1606.40,781.6 1606.70,952.7 1607.00,715.1 1607.30,814.9 1607.60,779.7 1607.90,804.2 1608.20,800.8 1608.50,834.7 1608.80,879.5 1609.10,811.2 1609.40,946.0 1609.70,748.8 1610.00,859.6 1610.30,1013.0 1610.60,805.0 1610.90,814.7 1611.20,853.9 1611.50,833.5 1611.80,820.3 1612.10,792.3 1612.40,727.4 1612.70,797.3 1613.00,854.0 1613.30,742.9 1613.60,772.3 1613.90,764.3 1614.20,801.4 1614.50,800.1 1614.80,789.3 1615.10,772.2 1615.40,833.4 1615.70,856.6 1616.00,904.7 1616.30,913.5 1616.60,770.2 1616.90,807.0 1617.20,763.1 1617.50,767.2 1617.80,814.6 1618.10,923.1 1618.40,800.5 1618.70,831.4 1619.00,771.4 1619.30,776.8 1619.60,716.7 1619.90,898.7 1620.20,767.8 1620.50,770.5 1620.80,830.5 1621.10,997.4 1621.40,741.6 1621.70,864.2 1622.00,934.0 1622.30,732.0 1622.60,778.2 1622.90,822.9 1623.20,811.6 1623.50,896.4 1623.80,724.2 1624.10,793.9 1624.40,826.7 1624.70,800.9 1625.00,970.6 1625.30,905.0 1625.60,916.2 1625.90,858.2 1626.20,808.2 1626.50,757.2 1626.80,786.9 1627.10,770.4 1627.40,873.0 1627.70,744.9 1628.00,744.9 1628.30,937.0 1628.60,808.2 1628.90,747.5 1629.20,855.1 1629.50,807.0 1629.80,848.7 1630.10,816.0 1630.40,828.5 1630.70,770.0 1631.00,830.5 1631.30,806.9 1631.60,936.6 1631.90,887.7 1632.20,766.7 1632.50,864.8 1632.80,784.7 1633.10,741.8 1633.40,825.3 1633.70,730.5 1634.00,798.1 1634.30,807.5 1634.60,771.1 1634.90,808.1 1635.20,750.1 1635.50,859.0 1635.80,730.7 1636.10,761.1 1636.40,854.8 1636.70,762.9 1637.00,923.4 1637.30,776.4 1637.60,784.1 1637.90,793.2 1638.20,911.0 1638.50,788.6 1638.80,759.2 1639.10,781.4 1639.40,925.1 1639.70,931.4 1640.00,863.0 1640.30,807.0 1640.60,836.2 1640.90,824.6 1641.20,836.4 1641.50,977.1 1641.80,797.2 1642.10,853.7 1642.40,826.9 1642.70,752.0 1643.00,902.1 1643.30,784.8 1643.60,814.9 1643.90,847.8 1644.20,829.2 1644.50,864.6 1644.80,918.3 1645.10,826.9 1645.40,825.7 1645.70,852.8 1646.00,848.8 1646.30,945.7 1646.60,1077.5 1646.90,887.4 1647.20,838.7 1647.50,864.8 1647.80,926.2 1648.10,881.1 1648.40,877.4 1648.70,1011.6 1649.00,894.4 1649.30,828.2 1649.60,805.1 1649.90,871.2 1650.20,896.1 1650.50,863.0 1650.80,881.1 1651.10,949.5 1651.40,888.2 1651.70,880.9 1652.00,842.0 1652.30,872.0 1652.60,884.7 1652.90,840.7 1653.20,873.8 1653.50,826.5 1653.80,802.0 1654.10,909.7 1654.40,816.5 1654.70,898.8 1655.00,1012.2 1655.30,881.8 1655.60,848.6 1655.90,921.2 1656.20,842.2 1656.50,888.2 1656.80,880.9 1657.10,811.6 1657.40,900.7 1657.70,847.6 1658.00,1032.6 1658.30,932.1 1658.60,936.4 1658.90,964.4 1659.20,919.0 1659.50,854.8 1659.80,845.2 1660.10,982.1 1660.40,949.5 1660.70,887.3 1661.00,903.1 1661.30,900.5 1661.60,962.9 1661.90,891.3 1662.20,909.1 1662.50,914.5 1662.80,854.6 1663.10,923.1 1663.40,866.5 1663.70,1030.5 1664.00,870.0 1664.30,803.7 1664.60,910.2 1664.90,810.4 1665.20,892.1 1665.50,872.7 1665.80,813.2 1666.10,795.7 1666.40,853.1 1666.70,796.8 1667.00,850.2 1667.30,896.7 1667.60,797.3 1667.90,917.2 1668.20,1017.5 1668.50,849.6 1668.80,803.9 1669.10,883.4 1669.40,875.9 1669.70,834.5 1670.00,920.9 1670.30,811.4 1670.60,819.5 1670.90,888.4 1671.20,766.6 1671.50,847.1 1671.80,785.2 1672.10,837.1 1672.40,859.2 1672.70,790.5 1673.00,902.3 1673.30,892.1 1673.60,959.9 1673.90,764.6 1674.20,783.7 1674.50,836.9 1674.80,859.7 1675.10,819.1 1675.40,832.4 1675.70,852.6 1676.00,884.0 1676.30,832.2 1676.60,793.9 1676.90,891.3 1677.20,781.2 1677.50,830.6 1677.80,812.2 1678.10,983.1 1678.40,882.2 1678.70,1025.8 1679.00,987.1 1679.30,910.8 1679.60,841.4 1679.90,885.6 1680.20,782.6 1680.50,1050.6 1680.80,825.6 1681.10,892.4 1681.40,906.7 1681.70,883.4 1682.00,863.9 1682.30,1128.9 1682.60,859.1 1682.90,1048.3 1683.20,759.3 1683.50,827.6 1683.80,862.2 1684.10,854.3 1684.40,900.4 1684.70,874.0 1685.00,977.6 1685.30,989.4 1685.60,945.1 1685.90,874.8 1686.20,868.5 1686.50,875.1 1686.80,876.5 1687.10,801.2 1687.40,836.3 1687.70,831.0 1688.00,832.4 1688.30,835.6 1688.60,909.5 1688.90,865.5 1689.20,853.5 1689.50,835.5 1689.80,812.3 1690.10,834.2 1690.40,928.0 1690.70,827.8 1691.00,950.8 1691.30,872.5 1691.60,1053.0 1691.90,918.0 1692.20,903.2 1692.50,1019.6 1692.80,918.1 1693.10,942.2 1693.40,897.3 1693.70,933.8 1694.00,1027.6 1694.30,1004.8 1694.60,929.2 1694.90,858.5 1695.20,905.4 1695.50,927.1 1695.80,878.0 1696.10,1044.4 1696.40,992.0 1696.70,875.5 1697.00,927.7 1697.30,929.9 1697.60,843.6 1697.90,986.0 1698.20,885.6 1698.50,931.3 1698.80,883.7 1699.10,863.5 1699.40,874.9 1699.70,883.6 1700.00,992.3 1700.30,854.0 1700.60,951.1 1700.90,928.9 1701.20,929.4 1701.50,919.3 1701.80,970.3 1702.10,850.0 1702.40,895.2 1702.70,949.6 1703.00,867.7 1703.30,943.8 1703.60,892.6 1703.90,1136.7 1704.20,849.5 1704.50,1008.4 1704.80,884.9 1705.10,889.9 1705.40,933.6 1705.70,888.8 1706.00,915.0 1706.30,936.7 1706.60,884.5 1706.90,911.2 1707.20,915.8 1707.50,908.9 1707.80,1031.5 1708.10,912.1 1708.40,1023.0 1708.70,943.4 1709.00,932.6 1709.30,960.8 1709.60,970.4 1709.90,906.0 1710.20,1012.0 1710.50,964.0 1710.80,945.9 1711.10,949.6 1711.40,912.8 1711.70,972.9 1712.00,1009.4 1712.30,880.1 1712.60,992.6 1712.90,923.9 1713.20,898.7 1713.50,1021.9 1713.80,858.8 1714.10,1027.2 1714.40,938.8 1714.70,926.8 1715.00,870.8 1715.30,941.4 1715.60,953.1 1715.90,996.0 1716.20,857.9 1716.50,918.5 1716.80,917.7 1717.10,858.5 1717.40,931.0 1717.70,1036.3 1718.00,910.8 1718.30,999.6 1718.60,1041.9 1718.90,923.4 1719.20,962.5 1719.50,905.8 1719.80,973.4 1720.10,999.7 1720.40,989.3 1720.70,1016.6 1721.00,1012.6 1721.30,955.6 1721.60,864.4 1721.90,867.4 1722.20,1108.8 1722.50,909.9 1722.80,938.7 1723.10,933.5 1723.40,841.0 1723.70,941.2 1724.00,855.1 1724.30,1050.9 1724.60,1025.5 1724.90,952.3 1725.20,1048.2 1725.50,984.5 1725.80,1055.4 1726.10,904.8 1726.40,936.9 1726.70,1023.2 1727.00,867.2 1727.30,882.6 1727.60,878.7 1727.90,969.6 1728.20,875.3 1728.50,850.7 1728.80,1047.6 1729.10,896.9 1729.40,911.4 1729.70,860.6 1730.00,889.1 1730.30,919.3 1730.60,924.3 1730.90,889.1 1731.20,909.7 1731.50,885.1 1731.80,953.6 1732.10,907.3 1732.40,927.1 1732.70,927.9 1733.00,1029.2 1733.30,1089.8 1733.60,996.4 1733.90,923.3 1734.20,933.9 1734.50,851.2 1734.80,900.4 1735.10,955.4 1735.40,883.9 1735.70,852.7 1736.00,905.2 1736.30,896.1 1736.60,906.5 1736.90,865.4 1737.20,967.6 1737.50,816.9 1737.80,939.2 1738.10,847.2 1738.40,996.1 1738.70,918.1 1739.00,1071.9 1739.30,967.3 1739.60,925.1 1739.90,859.7 1740.20,783.6 1740.50,1013.2 1740.80,898.2 1741.10,873.7 1741.40,868.5 1741.70,910.6 1742.00,910.7 1742.30,856.4 1742.60,886.2 1742.90,829.3 1743.20,881.6 1743.50,857.9 1743.80,872.7 1744.10,914.4 1744.40,1018.9 1744.70,901.7 1745.00,865.2 1745.30,891.6 1745.60,829.6 1745.90,852.3 1746.20,877.3 1746.50,988.5 1746.80,878.2 1747.10,931.9 1747.40,840.9 1747.70,819.7 1748.00,888.4 1748.30,845.8 1748.60,931.2 1748.90,900.2 1749.20,881.8 1749.50,949.1 1749.80,898.5 1750.10,925.8 1750.40,856.1 1750.70,961.2 1751.00,866.3 1751.30,1055.1 1751.60,972.8 1751.90,915.9 1752.20,1009.1 1752.50,985.4 1752.80,924.2 1753.10,885.4 1753.40,818.3 1753.70,947.5 1754.00,970.0 1754.30,1045.4 1754.60,838.0 1754.90,849.6 1755.20,902.6 1755.50,873.1 1755.80,845.5 1756.10,845.6 1756.40,980.2 1756.70,947.6 1757.00,1054.4 1757.30,825.4 1757.60,862.7 1757.90,844.0 1758.20,1064.0 1758.50,945.5 1758.80,805.1 1759.10,948.7 1759.40,870.5 1759.70,847.4 1760.00,1137.8 1760.30,863.4 1760.60,952.2 1760.90,865.0 1761.20,841.0 1761.50,972.6 1761.80,901.1 1762.10,867.6 1762.40,1021.8 1762.70,881.9 1763.00,939.5 1763.30,826.1 1763.60,833.5 1763.90,847.8 1764.20,951.5 1764.50,856.7 1764.80,923.6 1765.10,819.5 1765.40,814.7 1765.70,1109.9 1766.00,833.0 1766.30,897.8 1766.60,1021.0 1766.90,825.1 1767.20,869.5 1767.50,852.3 1767.80,790.7 1768.10,808.1 1768.40,841.4 1768.70,858.9 1769.00,800.6 1769.30,845.8 1769.60,1053.5 1769.90,862.1 1770.20,866.0 1770.50,878.9 1770.80,1062.6 1771.10,961.7 1771.40,967.0 1771.70,985.9 1772.00,911.9 1772.30,839.5 1772.60,885.1 1772.90,855.8 1773.20,809.4 1773.50,835.2 1773.80,914.2 1774.10,851.2 1774.40,891.1 1774.70,822.7 1775.00,780.6 1775.30,854.8 1775.60,900.7 1775.90,856.5 1776.20,890.1 1776.50,844.1 1776.80,906.2 1777.10,839.5 1777.40,943.1 1777.70,1104.3 1778.00,925.9 1778.30,842.1 1778.60,881.5 1778.90,802.1 1779.20,827.0 1779.50,848.4 1779.80,871.1 1780.10,831.0 1780.40,961.8 1780.70,785.0 1781.00,864.8 1781.30,821.3 1781.60,856.2 1781.90,802.6 1782.20,831.8 1782.50,774.3 1782.80,814.9 1783.10,866.3 1783.40,788.0 1783.70,861.2 1784.00,1034.5 1784.30,850.8 1784.60,779.6 1784.90,794.6 1785.20,834.5 1785.50,787.4 1785.80,834.3 1786.10,862.1 1786.40,814.1 1786.70,850.3 1787.00,878.0 1787.30,806.2 1787.60,858.4 1787.90,828.5 1788.20,901.6 1788.50,872.5 1788.80,841.2 1789.10,848.2 1789.40,841.3 1789.70,843.5 1790.00,867.0 1790.30,790.4 1790.60,955.2 1790.90,1028.0 1791.20,854.1 1791.50,821.1 1791.80,783.9 1792.10,891.7 1792.40,1077.5 1792.70,838.0 1793.00,952.0 1793.30,869.8 1793.60,819.7 1793.90,974.0 1794.20,757.7 1794.50,849.5 1794.80,824.2 1795.10,799.8 1795.40,750.1 1795.70,868.4 1796.00,841.1 1796.30,895.2 1796.60,1018.4 1796.90,819.1 1797.20,805.3 1797.50,801.6 1797.80,844.5 1798.10,1036.7 1798.40,870.7 1798.70,840.9 1799.00,817.9 1799.30,867.1 1799.60,862.6 1799.90,897.6 1800.20,820.6 1800.50,794.0 1800.80,842.3 1801.10,829.6 1801.40,843.5 1801.70,793.2 1802.00,867.4 1802.30,886.4 1802.60,817.0 1802.90,850.7 1803.20,1044.0 1803.50,784.8 1803.80,924.2 1804.10,819.5 1804.40,930.4 1804.70,866.7 1805.00,895.3 1805.30,974.0 1805.60,809.5 1805.90,852.0 1806.20,861.0 1806.50,810.5 1806.80,982.0 1807.10,803.7 1807.40,837.4 1807.70,998.6 1808.00,875.6 1808.30,775.1 1808.60,841.1 1808.90,853.8 1809.20,1005.2 1809.50,894.9 1809.80,812.9 1810.10,797.5 1810.40,816.5 1810.70,855.1 1811.00,841.7 1811.30,894.2 1811.60,872.9 1811.90,878.1 1812.20,896.7 1812.50,795.6 1812.80,851.0 1813.10,830.6 1813.40,833.9 1813.70,1027.8 1814.00,812.5 1814.30,864.4 1814.60,775.0 1814.90,912.0 1815.20,884.5 1815.50,859.7 1815.80,813.7 1816.10,818.1 1816.40,800.7 1816.70,840.3 1817.00,819.0 1817.30,909.9 1817.60,840.3 1817.90,806.6 1818.20,819.3 1818.50,861.6 1818.80,864.2 1819.10,810.4 1819.40,887.6 1819.70,823.8 1820.00,770.7 1820.30,886.6 1820.60,854.6 1820.90,801.4 1821.20,757.5 1821.50,832.6 1821.80,803.8 1822.10,773.2 1822.40,982.8 1822.70,899.7 1823.00,818.6 1823.30,1017.9 1823.60,799.1 1823.90,835.5 1824.20,808.1 1824.50,889.0 1824.80,815.6 1825.10,944.6 1825.40,802.1 1825.70,913.1 1826.00,914.8 1826.30,806.4 1826.60,784.0 1826.90,850.5 1827.20,860.3 1827.50,785.5 1827.80,828.2 1828.10,860.8 1828.40,820.7 1828.70,766.9 1829.00,976.0 1829.30,804.9 1829.60,777.3 1829.90,883.5 1830.20,847.5 1830.50,831.0 1830.80,776.0 1831.10,841.0 1831.40,830.6 1831.70,908.1 1832.00,870.1 1832.30,840.1 1832.60,893.7 1832.90,780.0 1833.20,815.2 1833.50,836.5 1833.80,814.7 1834.10,850.6 1834.40,852.6 1834.70,1030.6 1835.00,783.9 1835.30,926.4 1835.60,746.5 1835.90,846.2 1836.20,949.6 1836.50,794.2 1836.80,990.8 1837.10,764.3 1837.40,810.9 1837.70,775.3"/>
</g>
<rect x="209.5" y="39.45" width="1628.0" height="1283.85" fill="none" stroke="#262626" stroke-width="2.5"/>
<g fill="#262626" font-size="50px">
<text x="412.5" y="1393.6" text-anchor="middle">-600</text>
<text x="616.2" y="1393.6" text-anchor="middle">-400</text>
<text x="819.8" y="1393.6" text-anchor="middle">-200</text>
<text x="1023.5" y="1393.6" text-anchor="middle">0</text>
<text x="1227.2" y="1393.6" text-anchor="middle">200</text>
<text x="1430.8" y="1393.6" text-anchor="middle">400</text>
<text x="1634.5" y="1393.6" text-anchor="middle">600</text>
<text x="1837.4" y="1393.6" text-anchor="middle">800</text>
<text x="188.7" y="1287.6" text-anchor="end">-110</text>
<text x="188.7" y="1176.0" text-anchor="end">-100</text>
<text x="188.7" y="1064.3" text-anchor="end">-90</text>
<text x="188.7" y="952.7" text-anchor="end">-80</text>
<text x="188.7" y="841.1" text-anchor="end">-70</text>
<text x="188.7" y="729.5" text-anchor="end">-60</text>
<text x="188.7" y="617.9" text-anchor="end">-50</text>
<text x="188.7" y="506.2" text-anchor="end">-40</text>
<text x="188.7" y="394.6" text-anchor="end">-30</text>
<text x="188.7" y="283.0" text-anchor="end">-20</text>
<text x="188.7" y="171.4" text-anchor="end">-10</text>
<text x="188.7" y="59.8" text-anchor="end">0</text>
</g>
<text x="1024.4" y="1466.2" text-anchor="middle" font-size="55px" fill="#262626">Azimuth(m)</text>
<text transform="translate(60.8,681.6) rotate(-90)" text-anchor="middle" font-size="55px" fill="#262626">Amplitude(dB)</text>
<rect x="1370.3" y="89.7" width="418.3" height="132.9" fill="#fff" stroke="#262626" stroke-width="2.5"/>
<path d="M1385 126.4H1535" stroke="#ff0000" stroke-width="2.5"/>
<path d="M1385 186.3H1535" stroke="#0000ff" stroke-width="2.5"/>
<text x="1545.6" y="144.2" font-size="45px" fill="#000">SNR=0dB</text>
<text x="1545.6" y="203.6" font-size="45px" fill="#000">SNR=30dB</text>
</svg></body></html>
